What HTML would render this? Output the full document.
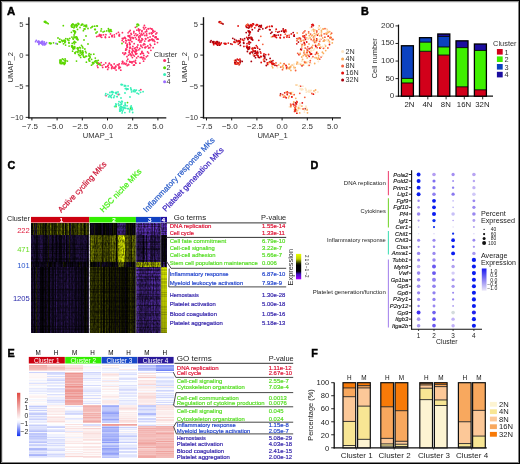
<!DOCTYPE html>
<html><head><meta charset="utf-8"><style>
html,body{margin:0;padding:0;background:#fff;}
#fig{position:relative;width:520px;height:464px;overflow:hidden;background:#fff;}
#fig svg{position:absolute;left:0;top:0;will-change:transform;}
text{font-family:"Liberation Sans", sans-serif;}
</style></head><body><div id="fig">
<svg width="520" height="464" viewBox="0 0 520 464" font-family='"Liberation Sans", sans-serif'>
<rect x="0" y="0" width="520" height="464" fill="#fff"/>
<text x="7.0" y="14.5" font-size="10.8" fill="#000" font-weight="bold" stroke="#000" stroke-width="0.45" textLength="8.2" lengthAdjust="spacingAndGlyphs">A</text>
<text x="360.9" y="14.8" font-size="10.8" fill="#000" font-weight="bold" stroke="#000" stroke-width="0.45">B</text>
<text x="7.4" y="169.3" font-size="10.8" fill="#000" font-weight="bold" stroke="#000" stroke-width="0.45">C</text>
<text x="310.6" y="168.9" font-size="10.8" fill="#000" font-weight="bold" stroke="#000" stroke-width="0.45">D</text>
<text x="7.6" y="356.9" font-size="10.8" fill="#000" font-weight="bold" stroke="#000" stroke-width="0.45">E</text>
<text x="311.2" y="356.9" font-size="10.8" fill="#000" font-weight="bold" stroke="#000" stroke-width="0.45">F</text>
<g><circle cx="135.3" cy="37.6" r=".9" fill="#ff2d66"/><circle cx="75.5" cy="31.9" r=".9" fill="#5cd600"/><circle cx="140.8" cy="89.7" r=".9" fill="#ff2d66"/><circle cx="53.5" cy="42.8" r=".9" fill="#5cd600"/><circle cx="84.0" cy="26.1" r=".9" fill="#5cd600"/><circle cx="140.0" cy="29.8" r=".9" fill="#ff2d66"/><circle cx="129.6" cy="61.4" r=".9" fill="#ff2d66"/><circle cx="120.8" cy="108.8" r=".9" fill="#38f0b8"/><circle cx="155.9" cy="34.0" r=".9" fill="#ff2d66"/><circle cx="146.7" cy="31.6" r=".9" fill="#ff2d66"/><circle cx="83.7" cy="57.0" r=".9" fill="#5cd600"/><circle cx="134.2" cy="90.0" r=".9" fill="#38f0b8"/><circle cx="125.4" cy="105.5" r=".9" fill="#38f0b8"/><circle cx="72.9" cy="47.4" r=".9" fill="#5cd600"/><circle cx="112.5" cy="91.7" r=".9" fill="#38f0b8"/><circle cx="129.4" cy="42.4" r=".9" fill="#ff2d66"/><circle cx="133.3" cy="38.4" r=".9" fill="#ff2d66"/><circle cx="129.2" cy="31.6" r=".9" fill="#ff2d66"/><circle cx="144.0" cy="43.6" r=".9" fill="#ff2d66"/><circle cx="62.5" cy="62.6" r=".9" fill="#5cd600"/><circle cx="97.8" cy="63.8" r=".9" fill="#5cd600"/><circle cx="139.3" cy="39.2" r=".9" fill="#ff2d66"/><circle cx="65.6" cy="45.1" r=".9" fill="#5cd600"/><circle cx="72.1" cy="47.2" r=".9" fill="#5cd600"/><circle cx="131.4" cy="55.7" r=".9" fill="#ff2d66"/><circle cx="124.9" cy="112.6" r=".9" fill="#38f0b8"/><circle cx="40.2" cy="42.9" r=".9" fill="#9b6cff"/><circle cx="101.2" cy="62.6" r=".9" fill="#ff2d66"/><circle cx="126.6" cy="89.6" r=".9" fill="#38f0b8"/><circle cx="123.6" cy="41.8" r=".9" fill="#ff2d66"/><circle cx="86.4" cy="62.2" r=".9" fill="#5cd600"/><circle cx="152.0" cy="29.1" r=".9" fill="#ff2d66"/><circle cx="126.9" cy="45.7" r=".9" fill="#ff2d66"/><circle cx="130.6" cy="107.1" r=".9" fill="#38f0b8"/><circle cx="138.6" cy="93.9" r=".9" fill="#38f0b8"/><circle cx="127.9" cy="108.6" r=".9" fill="#38f0b8"/><circle cx="120.8" cy="106.5" r=".9" fill="#38f0b8"/><circle cx="94.7" cy="26.2" r=".9" fill="#5cd600"/><circle cx="132.4" cy="57.6" r=".9" fill="#ff2d66"/><circle cx="114.5" cy="67.8" r=".9" fill="#ff2d66"/><circle cx="126.1" cy="88.3" r=".9" fill="#38f0b8"/><circle cx="134.4" cy="56.1" r=".9" fill="#ff2d66"/><circle cx="132.0" cy="62.9" r=".9" fill="#ff2d66"/><circle cx="117.3" cy="64.8" r=".9" fill="#ff2d66"/><circle cx="129.7" cy="43.3" r=".9" fill="#ff2d66"/><circle cx="112.5" cy="92.3" r=".9" fill="#38f0b8"/><circle cx="86.6" cy="56.3" r=".9" fill="#5cd600"/><circle cx="74.6" cy="48.4" r=".9" fill="#5cd600"/><circle cx="107.7" cy="69.4" r=".9" fill="#ff2d66"/><circle cx="142.4" cy="47.4" r=".9" fill="#ff2d66"/><circle cx="42.5" cy="42.6" r=".9" fill="#9b6cff"/><circle cx="140.3" cy="57.4" r=".9" fill="#ff2d66"/><circle cx="119.1" cy="35.5" r=".9" fill="#ff2d66"/><circle cx="140.6" cy="54.0" r=".9" fill="#ff2d66"/><circle cx="78.6" cy="23.6" r=".9" fill="#5cd600"/><circle cx="113.1" cy="92.4" r=".9" fill="#38f0b8"/><circle cx="142.6" cy="34.9" r=".9" fill="#ff2d66"/><circle cx="137.9" cy="24.2" r=".9" fill="#5cd600"/><circle cx="45.1" cy="21.3" r=".9" fill="#5cd600"/><circle cx="133.8" cy="32.9" r=".9" fill="#ff2d66"/><circle cx="48.2" cy="23.7" r=".9" fill="#5cd600"/><circle cx="60.3" cy="63.0" r=".9" fill="#5cd600"/><circle cx="81.9" cy="24.3" r=".9" fill="#5cd600"/><circle cx="143.7" cy="57.7" r=".9" fill="#ff2d66"/><circle cx="73.2" cy="49.1" r=".9" fill="#5cd600"/><circle cx="94.7" cy="61.5" r=".9" fill="#5cd600"/><circle cx="113.8" cy="97.5" r=".9" fill="#38f0b8"/><circle cx="80.3" cy="50.5" r=".9" fill="#5cd600"/><circle cx="146.3" cy="56.8" r=".9" fill="#ff2d66"/><circle cx="139.9" cy="63.2" r=".9" fill="#ff2d66"/><circle cx="89.2" cy="58.6" r=".9" fill="#5cd600"/><circle cx="91.5" cy="65.2" r=".9" fill="#5cd600"/><circle cx="148.5" cy="40.9" r=".9" fill="#ff2d66"/><circle cx="111.5" cy="91.6" r=".9" fill="#38f0b8"/><circle cx="116.2" cy="104.7" r=".9" fill="#38f0b8"/><circle cx="146.6" cy="30.0" r=".9" fill="#ff2d66"/><circle cx="59.9" cy="41.9" r=".9" fill="#5cd600"/><circle cx="156.2" cy="37.3" r=".9" fill="#ff2d66"/><circle cx="73.0" cy="38.2" r=".9" fill="#5cd600"/><circle cx="125.7" cy="38.6" r=".9" fill="#ff2d66"/><circle cx="138.7" cy="29.8" r=".9" fill="#ff2d66"/><circle cx="103.1" cy="31.9" r=".9" fill="#5cd600"/><circle cx="64.9" cy="63.3" r=".9" fill="#5cd600"/><circle cx="131.4" cy="55.4" r=".9" fill="#ff2d66"/><circle cx="45.3" cy="44.0" r=".9" fill="#9b6cff"/><circle cx="157.2" cy="39.0" r=".9" fill="#ff2d66"/><circle cx="132.6" cy="50.0" r=".9" fill="#ff2d66"/><circle cx="137.4" cy="47.7" r=".9" fill="#ff2d66"/><circle cx="82.7" cy="53.3" r=".9" fill="#5cd600"/><circle cx="73.3" cy="30.7" r=".9" fill="#5cd600"/><circle cx="122.5" cy="61.6" r=".9" fill="#ff2d66"/><circle cx="132.5" cy="61.8" r=".9" fill="#ff2d66"/><circle cx="128.4" cy="64.3" r=".9" fill="#ff2d66"/><circle cx="144.4" cy="25.5" r=".9" fill="#ff2d66"/><circle cx="105.7" cy="67.0" r=".9" fill="#ff2d66"/><circle cx="75.7" cy="52.1" r=".9" fill="#5cd600"/><circle cx="69.8" cy="38.4" r=".9" fill="#5cd600"/><circle cx="97.1" cy="31.9" r=".9" fill="#5cd600"/><circle cx="135.6" cy="53.1" r=".9" fill="#ff2d66"/><circle cx="106.0" cy="95.7" r=".9" fill="#ff2d66"/><circle cx="85.3" cy="25.6" r=".9" fill="#5cd600"/><circle cx="65.1" cy="40.5" r=".9" fill="#5cd600"/><circle cx="72.3" cy="46.4" r=".9" fill="#5cd600"/><circle cx="83.4" cy="30.7" r=".9" fill="#5cd600"/><circle cx="71.6" cy="46.0" r=".9" fill="#5cd600"/><circle cx="148.5" cy="28.8" r=".9" fill="#ff2d66"/><circle cx="145.0" cy="47.5" r=".9" fill="#ff2d66"/><circle cx="133.5" cy="65.2" r=".9" fill="#ff2d66"/><circle cx="135.3" cy="62.2" r=".9" fill="#ff2d66"/><circle cx="129.0" cy="36.1" r=".9" fill="#ff2d66"/><circle cx="63.5" cy="59.7" r=".9" fill="#5cd600"/><circle cx="110.4" cy="30.6" r=".9" fill="#5cd600"/><circle cx="115.4" cy="92.6" r=".9" fill="#38f0b8"/><circle cx="127.8" cy="59.2" r=".9" fill="#ff2d66"/><circle cx="64.3" cy="64.4" r=".9" fill="#5cd600"/><circle cx="149.9" cy="47.7" r=".9" fill="#ff2d66"/><circle cx="119.4" cy="34.5" r=".9" fill="#ff2d66"/><circle cx="62.3" cy="63.2" r=".9" fill="#5cd600"/><circle cx="113.5" cy="68.1" r=".9" fill="#ff2d66"/><circle cx="63.8" cy="41.1" r=".9" fill="#5cd600"/><circle cx="78.0" cy="48.1" r=".9" fill="#5cd600"/><circle cx="121.9" cy="101.2" r=".9" fill="#38f0b8"/><circle cx="140.7" cy="45.1" r=".9" fill="#ff2d66"/><circle cx="43.9" cy="43.2" r=".9" fill="#9b6cff"/><circle cx="132.0" cy="37.5" r=".9" fill="#ff2d66"/><circle cx="128.7" cy="64.8" r=".9" fill="#ff2d66"/><circle cx="51.1" cy="43.6" r=".9" fill="#5cd600"/><circle cx="65.4" cy="60.2" r=".9" fill="#5cd600"/><circle cx="122.0" cy="63.7" r=".9" fill="#ff2d66"/><circle cx="136.1" cy="53.6" r=".9" fill="#ff2d66"/><circle cx="122.0" cy="43.5" r=".9" fill="#5cd600"/><circle cx="80.7" cy="57.4" r=".9" fill="#5cd600"/><circle cx="75.7" cy="42.3" r=".9" fill="#5cd600"/><circle cx="65.7" cy="60.7" r=".9" fill="#5cd600"/><circle cx="71.9" cy="37.1" r=".9" fill="#5cd600"/><circle cx="76.9" cy="25.8" r=".9" fill="#5cd600"/><circle cx="118.4" cy="32.3" r=".9" fill="#ff2d66"/><circle cx="137.9" cy="45.0" r=".9" fill="#ff2d66"/><circle cx="134.4" cy="65.0" r=".9" fill="#ff2d66"/><circle cx="36.3" cy="40.4" r=".9" fill="#9b6cff"/><circle cx="64.5" cy="40.5" r=".9" fill="#5cd600"/><circle cx="124.8" cy="107.5" r=".9" fill="#38f0b8"/><circle cx="81.8" cy="54.6" r=".9" fill="#5cd600"/><circle cx="154.9" cy="31.4" r=".9" fill="#ff2d66"/><circle cx="74.8" cy="52.8" r=".9" fill="#5cd600"/><circle cx="74.8" cy="37.5" r=".9" fill="#5cd600"/><circle cx="125.7" cy="50.2" r=".9" fill="#ff2d66"/><circle cx="74.0" cy="37.0" r=".9" fill="#5cd600"/><circle cx="47.1" cy="23.0" r=".9" fill="#5cd600"/><circle cx="84.8" cy="57.3" r=".9" fill="#5cd600"/><circle cx="141.0" cy="35.0" r=".9" fill="#ff2d66"/><circle cx="145.6" cy="27.6" r=".9" fill="#ff2d66"/><circle cx="101.7" cy="37.3" r=".9" fill="#ff2d66"/><circle cx="82.2" cy="52.4" r=".9" fill="#5cd600"/><circle cx="69.0" cy="43.0" r=".9" fill="#5cd600"/><circle cx="128.3" cy="36.3" r=".9" fill="#ff2d66"/><circle cx="64.9" cy="60.8" r=".9" fill="#5cd600"/><circle cx="94.8" cy="29.4" r=".9" fill="#5cd600"/><circle cx="92.7" cy="26.3" r=".9" fill="#5cd600"/><circle cx="74.4" cy="43.8" r=".9" fill="#5cd600"/><circle cx="145.3" cy="31.9" r=".9" fill="#ff2d66"/><circle cx="103.9" cy="64.6" r=".9" fill="#ff2d66"/><circle cx="109.0" cy="31.4" r=".9" fill="#5cd600"/><circle cx="41.9" cy="41.3" r=".9" fill="#9b6cff"/><circle cx="152.8" cy="31.0" r=".9" fill="#ff2d66"/><circle cx="41.7" cy="43.4" r=".9" fill="#9b6cff"/><circle cx="154.2" cy="41.1" r=".9" fill="#ff2d66"/><circle cx="133.2" cy="91.0" r=".9" fill="#38f0b8"/><circle cx="107.7" cy="66.2" r=".9" fill="#ff2d66"/><circle cx="77.9" cy="39.8" r=".9" fill="#5cd600"/><circle cx="129.4" cy="50.5" r=".9" fill="#ff2d66"/><circle cx="153.0" cy="30.5" r=".9" fill="#ff2d66"/><circle cx="129.6" cy="111.8" r=".9" fill="#38f0b8"/><circle cx="138.8" cy="49.8" r=".9" fill="#ff2d66"/><circle cx="139.9" cy="35.6" r=".9" fill="#ff2d66"/><circle cx="122.9" cy="53.0" r=".9" fill="#ff2d66"/><circle cx="86.1" cy="52.8" r=".9" fill="#5cd600"/><circle cx="60.0" cy="62.0" r=".9" fill="#5cd600"/><circle cx="109.9" cy="92.5" r=".9" fill="#38f0b8"/><circle cx="129.1" cy="52.5" r=".9" fill="#ff2d66"/><circle cx="137.0" cy="46.8" r=".9" fill="#ff2d66"/><circle cx="45.7" cy="44.0" r=".9" fill="#9b6cff"/><circle cx="81.1" cy="52.7" r=".9" fill="#5cd600"/><circle cx="124.2" cy="54.4" r=".9" fill="#ff2d66"/><circle cx="157.3" cy="39.2" r=".9" fill="#ff2d66"/><circle cx="115.8" cy="66.1" r=".9" fill="#ff2d66"/><circle cx="49.4" cy="43.0" r=".9" fill="#5cd600"/><circle cx="38.4" cy="41.7" r=".9" fill="#9b6cff"/><circle cx="130.0" cy="97.0" r=".9" fill="#38f0b8"/><circle cx="41.3" cy="41.8" r=".9" fill="#9b6cff"/><circle cx="143.3" cy="53.4" r=".9" fill="#ff2d66"/><circle cx="127.3" cy="44.2" r=".9" fill="#ff2d66"/><circle cx="133.9" cy="31.5" r=".9" fill="#ff2d66"/><circle cx="120.1" cy="111.0" r=".9" fill="#38f0b8"/><circle cx="144.9" cy="58.9" r=".9" fill="#ff2d66"/><circle cx="141.9" cy="38.7" r=".9" fill="#ff2d66"/><circle cx="88.7" cy="59.5" r=".9" fill="#5cd600"/><circle cx="118.3" cy="94.5" r=".9" fill="#ff2d66"/><circle cx="109.8" cy="31.2" r=".9" fill="#5cd600"/><circle cx="63.2" cy="63.6" r=".9" fill="#5cd600"/><circle cx="144.8" cy="41.1" r=".9" fill="#ff2d66"/><circle cx="100.5" cy="36.5" r=".9" fill="#ff2d66"/><circle cx="45.8" cy="21.7" r=".9" fill="#5cd600"/><circle cx="129.6" cy="44.6" r=".9" fill="#ff2d66"/><circle cx="146.7" cy="35.5" r=".9" fill="#ff2d66"/><circle cx="93.3" cy="62.6" r=".9" fill="#5cd600"/><circle cx="136.4" cy="90.1" r=".9" fill="#38f0b8"/><circle cx="150.8" cy="45.7" r=".9" fill="#ff2d66"/><circle cx="65.3" cy="61.9" r=".9" fill="#5cd600"/><circle cx="112.5" cy="66.6" r=".9" fill="#ff2d66"/><circle cx="82.3" cy="24.4" r=".9" fill="#5cd600"/><circle cx="121.6" cy="104.3" r=".9" fill="#38f0b8"/><circle cx="61.9" cy="63.4" r=".9" fill="#5cd600"/><circle cx="60.2" cy="61.9" r=".9" fill="#5cd600"/><circle cx="131.9" cy="41.7" r=".9" fill="#ff2d66"/><circle cx="119.4" cy="35.9" r=".9" fill="#ff2d66"/><circle cx="78.0" cy="49.2" r=".9" fill="#5cd600"/><circle cx="136.6" cy="57.9" r=".9" fill="#ff2d66"/><circle cx="129.8" cy="35.6" r=".9" fill="#ff2d66"/><circle cx="147.9" cy="37.7" r=".9" fill="#ff2d66"/><circle cx="130.6" cy="62.2" r=".9" fill="#ff2d66"/><circle cx="92.9" cy="62.7" r=".9" fill="#5cd600"/><circle cx="136.8" cy="53.6" r=".9" fill="#ff2d66"/><circle cx="41.7" cy="41.9" r=".9" fill="#9b6cff"/><circle cx="145.8" cy="39.0" r=".9" fill="#ff2d66"/><circle cx="131.2" cy="89.3" r=".9" fill="#38f0b8"/><circle cx="105.8" cy="93.6" r=".9" fill="#38f0b8"/><circle cx="143.1" cy="91.7" r=".9" fill="#38f0b8"/><circle cx="80.8" cy="51.1" r=".9" fill="#5cd600"/><circle cx="92.0" cy="27.0" r=".9" fill="#5cd600"/><circle cx="56.0" cy="43.5" r=".9" fill="#9b6cff"/><circle cx="139.2" cy="30.7" r=".9" fill="#ff2d66"/><circle cx="144.1" cy="29.0" r=".9" fill="#ff2d66"/><circle cx="155.2" cy="37.3" r=".9" fill="#ff2d66"/><circle cx="61.6" cy="63.6" r=".9" fill="#5cd600"/><circle cx="155.5" cy="37.0" r=".9" fill="#ff2d66"/><circle cx="127.0" cy="56.7" r=".9" fill="#ff2d66"/><circle cx="86.5" cy="25.2" r=".9" fill="#5cd600"/><circle cx="119.7" cy="109.1" r=".9" fill="#38f0b8"/><circle cx="129.1" cy="40.2" r=".9" fill="#ff2d66"/><circle cx="121.5" cy="84.7" r=".9" fill="#38f0b8"/><circle cx="73.9" cy="27.8" r=".9" fill="#5cd600"/><circle cx="122.4" cy="32.7" r=".9" fill="#ff2d66"/><circle cx="84.0" cy="40.0" r=".9" fill="#5cd600"/><circle cx="97.3" cy="65.8" r=".9" fill="#ff2d66"/><circle cx="50.2" cy="43.7" r=".9" fill="#5cd600"/><circle cx="74.6" cy="47.4" r=".9" fill="#5cd600"/><circle cx="121.2" cy="106.7" r=".9" fill="#38f0b8"/><circle cx="133.1" cy="37.9" r=".9" fill="#ff2d66"/><circle cx="125.3" cy="88.6" r=".9" fill="#38f0b8"/><circle cx="130.1" cy="54.0" r=".9" fill="#ff2d66"/><circle cx="41.1" cy="42.9" r=".9" fill="#9b6cff"/><circle cx="116.0" cy="106.6" r=".9" fill="#5cd600"/><circle cx="151.6" cy="33.8" r=".9" fill="#ff2d66"/><circle cx="153.0" cy="36.0" r=".9" fill="#ff2d66"/><circle cx="122.1" cy="112.9" r=".9" fill="#38f0b8"/><circle cx="105.7" cy="62.9" r=".9" fill="#ff2d66"/><circle cx="110.5" cy="33.9" r=".9" fill="#ff2d66"/><circle cx="123.5" cy="107.7" r=".9" fill="#38f0b8"/><circle cx="78.7" cy="24.3" r=".9" fill="#5cd600"/><circle cx="141.9" cy="31.7" r=".9" fill="#ff2d66"/><circle cx="124.0" cy="108.2" r=".9" fill="#38f0b8"/><circle cx="90.1" cy="57.7" r=".9" fill="#5cd600"/><circle cx="86.0" cy="36.0" r=".9" fill="#5cd600"/><circle cx="121.2" cy="84.5" r=".9" fill="#38f0b8"/><circle cx="71.7" cy="25.1" r=".9" fill="#5cd600"/><circle cx="110.8" cy="30.1" r=".9" fill="#5cd600"/><circle cx="46.5" cy="42.7" r=".9" fill="#9b6cff"/><circle cx="125.8" cy="43.0" r=".9" fill="#ff2d66"/><circle cx="82.8" cy="24.5" r=".9" fill="#5cd600"/><circle cx="77.4" cy="25.5" r=".9" fill="#5cd600"/><circle cx="120.6" cy="102.5" r=".9" fill="#38f0b8"/><circle cx="41.2" cy="42.3" r=".9" fill="#9b6cff"/><circle cx="77.7" cy="47.9" r=".9" fill="#5cd600"/><circle cx="149.5" cy="39.9" r=".9" fill="#ff2d66"/><circle cx="102.7" cy="67.4" r=".9" fill="#ff2d66"/><circle cx="133.4" cy="55.1" r=".9" fill="#ff2d66"/><circle cx="151.3" cy="32.9" r=".9" fill="#ff2d66"/><circle cx="130.5" cy="108.5" r=".9" fill="#5cd600"/><circle cx="111.5" cy="31.3" r=".9" fill="#5cd600"/><circle cx="97.3" cy="26.1" r=".9" fill="#5cd600"/><circle cx="140.1" cy="40.8" r=".9" fill="#ff2d66"/><circle cx="127.2" cy="47.3" r=".9" fill="#ff2d66"/><circle cx="45.9" cy="22.7" r=".9" fill="#5cd600"/><circle cx="88.0" cy="28.5" r=".9" fill="#5cd600"/><circle cx="69.1" cy="46.1" r=".9" fill="#5cd600"/><circle cx="125.0" cy="93.0" r=".9" fill="#38f0b8"/><circle cx="125.7" cy="85.9" r=".9" fill="#38f0b8"/><circle cx="63.0" cy="62.4" r=".9" fill="#5cd600"/><circle cx="116.6" cy="93.6" r=".9" fill="#38f0b8"/><circle cx="120.6" cy="108.9" r=".9" fill="#38f0b8"/><circle cx="131.2" cy="62.0" r=".9" fill="#ff2d66"/><circle cx="62.3" cy="41.6" r=".9" fill="#5cd600"/><circle cx="72.4" cy="45.8" r=".9" fill="#5cd600"/><circle cx="112.3" cy="35.3" r=".9" fill="#ff2d66"/><circle cx="136.6" cy="35.5" r=".9" fill="#ff2d66"/><circle cx="131.6" cy="91.9" r=".9" fill="#38f0b8"/><circle cx="135.5" cy="47.8" r=".9" fill="#ff2d66"/><circle cx="126.0" cy="48.9" r=".9" fill="#ff2d66"/><circle cx="109.7" cy="31.7" r=".9" fill="#5cd600"/><circle cx="109.4" cy="63.5" r=".9" fill="#ff2d66"/><circle cx="68.9" cy="40.3" r=".9" fill="#5cd600"/><circle cx="129.6" cy="36.7" r=".9" fill="#ff2d66"/><circle cx="117.1" cy="96.6" r=".9" fill="#38f0b8"/><circle cx="130.5" cy="40.4" r=".9" fill="#ff2d66"/><circle cx="62.5" cy="58.9" r=".9" fill="#5cd600"/><circle cx="64.8" cy="63.4" r=".9" fill="#5cd600"/><circle cx="119.7" cy="111.1" r=".9" fill="#38f0b8"/><circle cx="96.7" cy="36.6" r=".9" fill="#ff2d66"/><circle cx="124.0" cy="63.9" r=".9" fill="#ff2d66"/><circle cx="145.2" cy="47.7" r=".9" fill="#ff2d66"/><circle cx="153.4" cy="32.1" r=".9" fill="#ff2d66"/><circle cx="90.9" cy="54.4" r=".9" fill="#5cd600"/><circle cx="82.4" cy="46.6" r=".9" fill="#5cd600"/><circle cx="97.3" cy="63.2" r=".9" fill="#5cd600"/><circle cx="156.8" cy="32.9" r=".9" fill="#ff2d66"/><circle cx="126.1" cy="63.3" r=".9" fill="#ff2d66"/><circle cx="130.7" cy="88.0" r=".9" fill="#38f0b8"/><circle cx="144.9" cy="44.5" r=".9" fill="#ff2d66"/><circle cx="121.6" cy="103.3" r=".9" fill="#38f0b8"/><circle cx="130.2" cy="30.5" r=".9" fill="#ff2d66"/><circle cx="109.6" cy="95.3" r=".9" fill="#38f0b8"/><circle cx="131.3" cy="89.9" r=".9" fill="#38f0b8"/><circle cx="138.7" cy="36.8" r=".9" fill="#ff2d66"/><circle cx="131.0" cy="33.4" r=".9" fill="#ff2d66"/><circle cx="141.1" cy="46.2" r=".9" fill="#ff2d66"/><circle cx="127.4" cy="46.9" r=".9" fill="#ff2d66"/><circle cx="125.2" cy="104.7" r=".9" fill="#38f0b8"/><circle cx="149.4" cy="40.6" r=".9" fill="#ff2d66"/><circle cx="128.1" cy="85.9" r=".9" fill="#38f0b8"/><circle cx="142.0" cy="30.7" r=".9" fill="#ff2d66"/><circle cx="138.5" cy="40.4" r=".9" fill="#ff2d66"/><circle cx="133.9" cy="91.6" r=".9" fill="#38f0b8"/><circle cx="155.9" cy="36.8" r=".9" fill="#ff2d66"/><circle cx="101.0" cy="31.0" r=".9" fill="#5cd600"/><circle cx="153.1" cy="47.7" r=".9" fill="#ff2d66"/><circle cx="125.4" cy="53.6" r=".9" fill="#ff2d66"/><circle cx="128.5" cy="55.2" r=".9" fill="#ff2d66"/><circle cx="73.1" cy="24.6" r=".9" fill="#5cd600"/><circle cx="77.4" cy="38.7" r=".9" fill="#5cd600"/><circle cx="109.3" cy="63.4" r=".9" fill="#ff2d66"/><circle cx="128.1" cy="32.8" r=".9" fill="#ff2d66"/><circle cx="37.7" cy="42.1" r=".9" fill="#9b6cff"/><circle cx="59.8" cy="60.1" r=".9" fill="#5cd600"/><circle cx="99.7" cy="34.6" r=".9" fill="#ff2d66"/><circle cx="130.1" cy="44.4" r=".9" fill="#ff2d66"/><circle cx="58.0" cy="38.0" r=".9" fill="#5cd600"/><circle cx="141.7" cy="57.2" r=".9" fill="#ff2d66"/><circle cx="136.8" cy="50.4" r=".9" fill="#ff2d66"/><circle cx="73.7" cy="42.6" r=".9" fill="#5cd600"/><circle cx="57.3" cy="44.0" r=".9" fill="#5cd600"/><circle cx="74.4" cy="26.7" r=".9" fill="#5cd600"/><circle cx="89.1" cy="60.8" r=".9" fill="#5cd600"/><circle cx="106.7" cy="30.9" r=".9" fill="#5cd600"/><circle cx="121.0" cy="98.0" r=".9" fill="#38f0b8"/><circle cx="95.8" cy="60.6" r=".9" fill="#5cd600"/><circle cx="95.7" cy="61.8" r=".9" fill="#5cd600"/><circle cx="105.9" cy="34.7" r=".9" fill="#ff2d66"/><circle cx="135.7" cy="49.9" r=".9" fill="#ff2d66"/><circle cx="98.2" cy="60.3" r=".9" fill="#5cd600"/><circle cx="96.9" cy="25.8" r=".9" fill="#5cd600"/><circle cx="112.1" cy="92.4" r=".9" fill="#38f0b8"/><circle cx="138.5" cy="29.0" r=".9" fill="#ff2d66"/><circle cx="77.4" cy="48.1" r=".9" fill="#5cd600"/><circle cx="74.8" cy="33.6" r=".9" fill="#5cd600"/><circle cx="50.8" cy="43.1" r=".9" fill="#5cd600"/><circle cx="146.6" cy="33.9" r=".9" fill="#ff2d66"/><circle cx="114.6" cy="106.5" r=".9" fill="#38f0b8"/><circle cx="150.2" cy="28.4" r=".9" fill="#ff2d66"/><circle cx="85.6" cy="26.6" r=".9" fill="#5cd600"/><circle cx="63.3" cy="25.7" r=".9" fill="#5cd600"/><circle cx="134.8" cy="51.5" r=".9" fill="#ff2d66"/><circle cx="127.2" cy="65.5" r=".9" fill="#ff2d66"/><circle cx="86.6" cy="26.7" r=".9" fill="#5cd600"/><circle cx="142.1" cy="53.3" r=".9" fill="#ff2d66"/><circle cx="115.9" cy="93.3" r=".9" fill="#38f0b8"/><circle cx="143.6" cy="33.5" r=".9" fill="#ff2d66"/><circle cx="126.3" cy="40.8" r=".9" fill="#ff2d66"/><circle cx="44.7" cy="44.9" r=".9" fill="#9b6cff"/><circle cx="139.8" cy="48.5" r=".9" fill="#ff2d66"/><circle cx="148.6" cy="53.1" r=".9" fill="#ff2d66"/><circle cx="42.0" cy="44.1" r=".9" fill="#9b6cff"/><circle cx="68.8" cy="42.4" r=".9" fill="#5cd600"/><circle cx="106.0" cy="66.8" r=".9" fill="#ff2d66"/><circle cx="100.5" cy="35.1" r=".9" fill="#ff2d66"/><circle cx="59.8" cy="39.2" r=".9" fill="#5cd600"/><circle cx="89.2" cy="53.7" r=".9" fill="#5cd600"/><circle cx="74.0" cy="47.2" r=".9" fill="#5cd600"/><circle cx="75.1" cy="31.5" r=".9" fill="#5cd600"/><circle cx="76.0" cy="25.5" r=".9" fill="#5cd600"/><circle cx="147.6" cy="55.8" r=".9" fill="#ff2d66"/><circle cx="88.8" cy="55.1" r=".9" fill="#5cd600"/><circle cx="139.8" cy="42.1" r=".9" fill="#ff2d66"/><circle cx="141.8" cy="40.4" r=".9" fill="#ff2d66"/><circle cx="78.0" cy="23.5" r=".9" fill="#5cd600"/><circle cx="74.1" cy="35.0" r=".9" fill="#5cd600"/><circle cx="82.7" cy="52.3" r=".9" fill="#5cd600"/><circle cx="84.1" cy="29.0" r=".9" fill="#5cd600"/><circle cx="122.2" cy="107.2" r=".9" fill="#38f0b8"/><circle cx="150.1" cy="36.9" r=".9" fill="#ff2d66"/><circle cx="97.0" cy="61.0" r=".9" fill="#5cd600"/><circle cx="99.4" cy="63.7" r=".9" fill="#5cd600"/><circle cx="131.9" cy="52.1" r=".9" fill="#ff2d66"/><circle cx="158.2" cy="39.1" r=".9" fill="#ff2d66"/><circle cx="143.5" cy="27.5" r=".9" fill="#ff2d66"/><circle cx="141.4" cy="33.8" r=".9" fill="#ff2d66"/><circle cx="154.7" cy="41.6" r=".9" fill="#ff2d66"/><circle cx="125.7" cy="40.4" r=".9" fill="#ff2d66"/><circle cx="130.0" cy="37.5" r=".9" fill="#ff2d66"/><circle cx="67.6" cy="39.8" r=".9" fill="#5cd600"/><circle cx="74.0" cy="24.8" r=".9" fill="#5cd600"/><circle cx="128.2" cy="40.0" r=".9" fill="#ff2d66"/><circle cx="131.6" cy="109.6" r=".9" fill="#38f0b8"/><circle cx="136.4" cy="39.2" r=".9" fill="#ff2d66"/><circle cx="74.8" cy="32.6" r=".9" fill="#5cd600"/><circle cx="146.0" cy="46.9" r=".9" fill="#ff2d66"/><circle cx="128.3" cy="108.7" r=".9" fill="#38f0b8"/><circle cx="72.6" cy="51.2" r=".9" fill="#5cd600"/><circle cx="116.4" cy="92.3" r=".9" fill="#38f0b8"/><circle cx="85.5" cy="51.5" r=".9" fill="#5cd600"/><circle cx="120.2" cy="104.8" r=".9" fill="#38f0b8"/><circle cx="143.6" cy="61.2" r=".9" fill="#ff2d66"/><circle cx="155.3" cy="37.5" r=".9" fill="#ff2d66"/><circle cx="134.5" cy="35.4" r=".9" fill="#ff2d66"/><circle cx="115.9" cy="105.6" r=".9" fill="#38f0b8"/><circle cx="74.1" cy="31.2" r=".9" fill="#5cd600"/><circle cx="64.1" cy="63.2" r=".9" fill="#5cd600"/><circle cx="140.3" cy="36.8" r=".9" fill="#ff2d66"/><circle cx="135.4" cy="27.3" r=".9" fill="#ff2d66"/><circle cx="72.3" cy="24.7" r=".9" fill="#5cd600"/><circle cx="119.0" cy="101.7" r=".9" fill="#38f0b8"/><circle cx="76.5" cy="25.4" r=".9" fill="#5cd600"/><circle cx="44.4" cy="21.7" r=".9" fill="#5cd600"/><circle cx="130.1" cy="47.1" r=".9" fill="#ff2d66"/><circle cx="108.4" cy="28.6" r=".9" fill="#5cd600"/><circle cx="74.7" cy="25.7" r=".9" fill="#5cd600"/><circle cx="135.6" cy="90.4" r=".9" fill="#38f0b8"/><circle cx="103.5" cy="34.8" r=".9" fill="#ff2d66"/><circle cx="42.9" cy="44.9" r=".9" fill="#9b6cff"/><circle cx="102.0" cy="65.4" r=".9" fill="#ff2d66"/><circle cx="120.0" cy="107.3" r=".9" fill="#38f0b8"/><circle cx="78.3" cy="50.7" r=".9" fill="#5cd600"/><circle cx="115.7" cy="66.8" r=".9" fill="#ff2d66"/><circle cx="124.4" cy="86.0" r=".9" fill="#38f0b8"/><circle cx="64.8" cy="42.7" r=".9" fill="#5cd600"/><circle cx="143.2" cy="44.9" r=".9" fill="#ff2d66"/><circle cx="124.8" cy="37.7" r=".9" fill="#ff2d66"/><circle cx="133.9" cy="61.4" r=".9" fill="#ff2d66"/><circle cx="61.2" cy="61.1" r=".9" fill="#5cd600"/><circle cx="154.7" cy="44.2" r=".9" fill="#ff2d66"/><circle cx="80.1" cy="55.3" r=".9" fill="#5cd600"/><circle cx="114.9" cy="68.5" r=".9" fill="#ff2d66"/><circle cx="81.2" cy="25.2" r=".9" fill="#5cd600"/><circle cx="121.9" cy="108.0" r=".9" fill="#38f0b8"/><circle cx="92.9" cy="64.1" r=".9" fill="#5cd600"/><circle cx="133.3" cy="50.9" r=".9" fill="#ff2d66"/><circle cx="112.4" cy="94.3" r=".9" fill="#38f0b8"/><circle cx="75.3" cy="37.5" r=".9" fill="#5cd600"/><circle cx="38.8" cy="43.1" r=".9" fill="#9b6cff"/><circle cx="135.1" cy="52.0" r=".9" fill="#ff2d66"/><circle cx="76.5" cy="27.1" r=".9" fill="#5cd600"/><circle cx="152.4" cy="39.2" r=".9" fill="#ff2d66"/><circle cx="60.6" cy="60.7" r=".9" fill="#5cd600"/><circle cx="74.7" cy="46.7" r=".9" fill="#5cd600"/><circle cx="138.5" cy="25.3" r=".9" fill="#5cd600"/><circle cx="150.0" cy="40.0" r=".9" fill="#ff2d66"/><circle cx="141.0" cy="42.0" r=".9" fill="#ff2d66"/><circle cx="84.9" cy="25.3" r=".9" fill="#5cd600"/><circle cx="80.0" cy="27.5" r=".9" fill="#5cd600"/><circle cx="44.8" cy="43.7" r=".9" fill="#9b6cff"/><circle cx="74.1" cy="47.3" r=".9" fill="#5cd600"/><circle cx="122.6" cy="61.5" r=".9" fill="#ff2d66"/><circle cx="71.3" cy="25.8" r=".9" fill="#5cd600"/><circle cx="136.5" cy="50.1" r=".9" fill="#ff2d66"/><circle cx="119.0" cy="68.5" r=".9" fill="#ff2d66"/><circle cx="128.0" cy="89.1" r=".9" fill="#38f0b8"/><circle cx="139.3" cy="39.6" r=".9" fill="#ff2d66"/><circle cx="79.6" cy="47.4" r=".9" fill="#5cd600"/><circle cx="127.5" cy="102.6" r=".9" fill="#5cd600"/><circle cx="136.3" cy="53.6" r=".9" fill="#ff2d66"/><circle cx="76.2" cy="24.3" r=".9" fill="#5cd600"/><circle cx="81.5" cy="45.3" r=".9" fill="#5cd600"/><circle cx="132.7" cy="112.5" r=".9" fill="#38f0b8"/><circle cx="127.1" cy="105.8" r=".9" fill="#38f0b8"/><circle cx="96.0" cy="33.0" r=".9" fill="#5cd600"/><circle cx="128.2" cy="35.6" r=".9" fill="#ff2d66"/><circle cx="119.4" cy="94.4" r=".9" fill="#38f0b8"/><circle cx="73.2" cy="39.2" r=".9" fill="#5cd600"/><circle cx="98.1" cy="36.1" r=".9" fill="#ff2d66"/><circle cx="39.1" cy="41.4" r=".9" fill="#9b6cff"/><circle cx="105.5" cy="37.6" r=".9" fill="#ff2d66"/><circle cx="74.3" cy="41.3" r=".9" fill="#5cd600"/><circle cx="114.4" cy="36.9" r=".9" fill="#ff2d66"/><circle cx="132.3" cy="52.1" r=".9" fill="#ff2d66"/><circle cx="150.1" cy="44.3" r=".9" fill="#ff2d66"/><circle cx="62.4" cy="40.8" r=".9" fill="#5cd600"/><circle cx="63.8" cy="40.3" r=".9" fill="#5cd600"/><circle cx="76.5" cy="61.1" r=".9" fill="#5cd600"/><circle cx="138.8" cy="37.5" r=".9" fill="#ff2d66"/><circle cx="141.8" cy="57.6" r=".9" fill="#ff2d66"/><circle cx="123.3" cy="109.8" r=".9" fill="#38f0b8"/><circle cx="101.4" cy="28.9" r=".9" fill="#5cd600"/><circle cx="92.5" cy="62.7" r=".9" fill="#5cd600"/><circle cx="73.7" cy="48.7" r=".9" fill="#5cd600"/><circle cx="65.0" cy="41.6" r=".9" fill="#5cd600"/><circle cx="76.6" cy="38.9" r=".9" fill="#5cd600"/><circle cx="60.2" cy="42.1" r=".9" fill="#5cd600"/><circle cx="65.4" cy="41.8" r=".9" fill="#5cd600"/><circle cx="60.4" cy="63.6" r=".9" fill="#5cd600"/><circle cx="135.5" cy="60.3" r=".9" fill="#ff2d66"/><circle cx="150.9" cy="50.3" r=".9" fill="#ff2d66"/><circle cx="98.7" cy="64.1" r=".9" fill="#5cd600"/><circle cx="123.7" cy="38.2" r=".9" fill="#ff2d66"/><circle cx="132.1" cy="108.4" r=".9" fill="#38f0b8"/><circle cx="124.8" cy="37.5" r=".9" fill="#ff2d66"/><circle cx="132.3" cy="53.8" r=".9" fill="#ff2d66"/><circle cx="85.0" cy="29.0" r=".9" fill="#5cd600"/><circle cx="111.2" cy="95.4" r=".9" fill="#38f0b8"/><circle cx="110.8" cy="29.6" r=".9" fill="#5cd600"/><circle cx="88.0" cy="44.0" r=".9" fill="#5cd600"/><circle cx="148.6" cy="48.0" r=".9" fill="#ff2d66"/><circle cx="147.8" cy="46.0" r=".9" fill="#ff2d66"/><circle cx="119.2" cy="63.8" r=".9" fill="#ff2d66"/><circle cx="110.3" cy="96.7" r=".9" fill="#38f0b8"/><circle cx="122.7" cy="62.3" r=".9" fill="#ff2d66"/><circle cx="149.4" cy="33.5" r=".9" fill="#ff2d66"/><circle cx="137.1" cy="93.2" r=".9" fill="#38f0b8"/><circle cx="137.7" cy="34.9" r=".9" fill="#ff2d66"/><circle cx="122.5" cy="84.7" r=".9" fill="#38f0b8"/><circle cx="120.8" cy="70.2" r=".9" fill="#ff2d66"/><circle cx="151.6" cy="39.5" r=".9" fill="#ff2d66"/><circle cx="45.5" cy="22.3" r=".9" fill="#5cd600"/><circle cx="71.4" cy="32.3" r=".9" fill="#5cd600"/><circle cx="144.9" cy="35.5" r=".9" fill="#ff2d66"/><circle cx="125.1" cy="103.0" r=".9" fill="#38f0b8"/><circle cx="82.7" cy="51.0" r=".9" fill="#5cd600"/><circle cx="120.2" cy="110.5" r=".9" fill="#38f0b8"/><circle cx="122.3" cy="38.3" r=".9" fill="#ff2d66"/><circle cx="72.9" cy="23.8" r=".9" fill="#5cd600"/><circle cx="112.1" cy="36.7" r=".9" fill="#ff2d66"/><circle cx="99.5" cy="35.7" r=".9" fill="#ff2d66"/><circle cx="82.9" cy="47.9" r=".9" fill="#5cd600"/><circle cx="118.9" cy="105.5" r=".9" fill="#38f0b8"/><circle cx="71.9" cy="24.7" r=".9" fill="#5cd600"/><circle cx="79.4" cy="55.7" r=".9" fill="#5cd600"/><circle cx="142.0" cy="51.5" r=".9" fill="#ff2d66"/><circle cx="118.7" cy="65.0" r=".9" fill="#ff2d66"/><circle cx="89.8" cy="61.1" r=".9" fill="#5cd600"/><circle cx="129.8" cy="48.1" r=".9" fill="#ff2d66"/><circle cx="122.4" cy="111.3" r=".9" fill="#38f0b8"/><circle cx="132.4" cy="109.6" r=".9" fill="#38f0b8"/><circle cx="124.9" cy="85.4" r=".9" fill="#38f0b8"/><circle cx="95.3" cy="58.1" r=".9" fill="#5cd600"/><circle cx="89.9" cy="56.2" r=".9" fill="#5cd600"/><circle cx="118.0" cy="92.0" r=".9" fill="#38f0b8"/><circle cx="62.0" cy="63.1" r=".9" fill="#5cd600"/><circle cx="125.8" cy="64.3" r=".9" fill="#ff2d66"/><circle cx="43.1" cy="44.0" r=".9" fill="#9b6cff"/><circle cx="116.5" cy="33.6" r=".9" fill="#ff2d66"/><circle cx="77.1" cy="51.6" r=".9" fill="#5cd600"/><circle cx="131.2" cy="105.9" r=".9" fill="#38f0b8"/><circle cx="119.0" cy="66.9" r=".9" fill="#ff2d66"/><circle cx="123.9" cy="105.8" r=".9" fill="#38f0b8"/><circle cx="77.6" cy="39.4" r=".9" fill="#5cd600"/><circle cx="77.9" cy="52.5" r=".9" fill="#5cd600"/><circle cx="148.2" cy="28.6" r=".9" fill="#ff2d66"/><circle cx="63.5" cy="43.8" r=".9" fill="#5cd600"/><circle cx="153.7" cy="39.9" r=".9" fill="#ff2d66"/><circle cx="139.2" cy="90.6" r=".9" fill="#38f0b8"/><circle cx="83.1" cy="55.0" r=".9" fill="#5cd600"/><circle cx="125.3" cy="52.8" r=".9" fill="#ff2d66"/><circle cx="111.7" cy="68.5" r=".9" fill="#ff2d66"/><circle cx="119.4" cy="67.5" r=".9" fill="#ff2d66"/><circle cx="65.8" cy="38.7" r=".9" fill="#5cd600"/><circle cx="100.2" cy="65.0" r=".9" fill="#5cd600"/><circle cx="130.0" cy="62.2" r=".9" fill="#ff2d66"/><circle cx="130.4" cy="54.4" r=".9" fill="#ff2d66"/><circle cx="77.0" cy="37.7" r=".9" fill="#5cd600"/><circle cx="140.6" cy="92.3" r=".9" fill="#38f0b8"/><circle cx="123.0" cy="38.9" r=".9" fill="#ff2d66"/><circle cx="83.0" cy="52.5" r=".9" fill="#5cd600"/><circle cx="118.4" cy="103.9" r=".9" fill="#38f0b8"/><circle cx="76.1" cy="24.8" r=".9" fill="#5cd600"/><circle cx="116.1" cy="70.1" r=".9" fill="#ff2d66"/><circle cx="77.5" cy="29.4" r=".9" fill="#5cd600"/><circle cx="95.3" cy="29.5" r=".9" fill="#5cd600"/><circle cx="93.8" cy="54.2" r=".9" fill="#5cd600"/><circle cx="151.7" cy="29.0" r=".9" fill="#ff2d66"/><circle cx="114.3" cy="34.9" r=".9" fill="#ff2d66"/><circle cx="125.4" cy="53.2" r=".9" fill="#ff2d66"/><circle cx="89.2" cy="56.2" r=".9" fill="#5cd600"/><circle cx="74.7" cy="41.9" r=".9" fill="#5cd600"/><circle cx="127.3" cy="89.1" r=".9" fill="#38f0b8"/><circle cx="131.6" cy="107.4" r=".9" fill="#38f0b8"/><circle cx="44.7" cy="22.1" r=".9" fill="#5cd600"/><circle cx="125.9" cy="108.3" r=".9" fill="#38f0b8"/><circle cx="74.3" cy="31.7" r=".9" fill="#5cd600"/><circle cx="108.5" cy="67.7" r=".9" fill="#ff2d66"/><circle cx="82.3" cy="53.1" r=".9" fill="#5cd600"/><circle cx="111.0" cy="64.8" r=".9" fill="#ff2d66"/><circle cx="108.7" cy="96.9" r=".9" fill="#38f0b8"/><circle cx="97.7" cy="63.0" r=".9" fill="#5cd600"/><circle cx="135.8" cy="33.8" r=".9" fill="#ff2d66"/><circle cx="114.2" cy="63.9" r=".9" fill="#ff2d66"/><circle cx="42.7" cy="41.4" r=".9" fill="#9b6cff"/><circle cx="153.5" cy="35.8" r=".9" fill="#ff2d66"/><circle cx="63.6" cy="62.8" r=".9" fill="#5cd600"/><circle cx="132.2" cy="48.8" r=".9" fill="#ff2d66"/><circle cx="129.4" cy="51.8" r=".9" fill="#ff2d66"/><circle cx="139.0" cy="30.8" r=".9" fill="#ff2d66"/><circle cx="142.6" cy="39.4" r=".9" fill="#ff2d66"/><circle cx="96.7" cy="62.6" r=".9" fill="#5cd600"/><circle cx="120.3" cy="67.4" r=".9" fill="#ff2d66"/><circle cx="134.2" cy="43.7" r=".9" fill="#ff2d66"/><circle cx="130.7" cy="39.0" r=".9" fill="#ff2d66"/><circle cx="90.9" cy="27.8" r=".9" fill="#5cd600"/><circle cx="121.2" cy="110.1" r=".9" fill="#38f0b8"/><circle cx="38.5" cy="41.5" r=".9" fill="#9b6cff"/><circle cx="127.5" cy="88.9" r=".9" fill="#38f0b8"/><circle cx="115.8" cy="103.8" r=".9" fill="#38f0b8"/><circle cx="78.9" cy="50.8" r=".9" fill="#5cd600"/><circle cx="108.2" cy="65.2" r=".9" fill="#ff2d66"/><circle cx="67.8" cy="39.0" r=".9" fill="#5cd600"/><circle cx="111.4" cy="97.5" r=".9" fill="#38f0b8"/><circle cx="111.8" cy="67.5" r=".9" fill="#ff2d66"/><circle cx="129.8" cy="110.0" r=".9" fill="#38f0b8"/><circle cx="139.6" cy="33.1" r=".9" fill="#ff2d66"/><circle cx="121.9" cy="110.2" r=".9" fill="#38f0b8"/><circle cx="124.3" cy="63.2" r=".9" fill="#ff2d66"/><circle cx="38.2" cy="41.4" r=".9" fill="#9b6cff"/><circle cx="35.6" cy="41.7" r=".9" fill="#9b6cff"/><circle cx="71.6" cy="26.7" r=".9" fill="#5cd600"/><circle cx="38.9" cy="44.4" r=".9" fill="#9b6cff"/><circle cx="76.6" cy="37.0" r=".9" fill="#5cd600"/><circle cx="127.1" cy="45.5" r=".9" fill="#ff2d66"/><circle cx="44.3" cy="42.0" r=".9" fill="#9b6cff"/><circle cx="72.2" cy="43.4" r=".9" fill="#5cd600"/><circle cx="115.5" cy="66.7" r=".9" fill="#ff2d66"/><circle cx="136.9" cy="26.5" r=".9" fill="#5cd600"/><circle cx="105.3" cy="37.0" r=".9" fill="#ff2d66"/><circle cx="101.5" cy="35.1" r=".9" fill="#ff2d66"/><circle cx="137.0" cy="24.5" r=".9" fill="#5cd600"/><circle cx="132.9" cy="46.5" r=".9" fill="#ff2d66"/><circle cx="78.6" cy="54.6" r=".9" fill="#5cd600"/><circle cx="74.3" cy="26.8" r=".9" fill="#5cd600"/><circle cx="134.3" cy="48.5" r=".9" fill="#ff2d66"/><circle cx="108.5" cy="30.1" r=".9" fill="#5cd600"/><circle cx="73.0" cy="48.1" r=".9" fill="#5cd600"/><circle cx="39.8" cy="43.0" r=".9" fill="#9b6cff"/><circle cx="114.4" cy="95.9" r=".9" fill="#38f0b8"/><circle cx="99.5" cy="34.7" r=".9" fill="#ff2d66"/><circle cx="72.7" cy="47.6" r=".9" fill="#5cd600"/><circle cx="126.9" cy="60.9" r=".9" fill="#ff2d66"/><circle cx="142.9" cy="58.9" r=".9" fill="#ff2d66"/><circle cx="157.5" cy="42.6" r=".9" fill="#ff2d66"/><circle cx="99.7" cy="63.9" r=".9" fill="#5cd600"/><circle cx="135.1" cy="91.7" r=".9" fill="#38f0b8"/><circle cx="83.4" cy="56.1" r=".9" fill="#5cd600"/><circle cx="77.4" cy="48.5" r=".9" fill="#5cd600"/><circle cx="80.4" cy="47.9" r=".9" fill="#5cd600"/><circle cx="143.9" cy="55.5" r=".9" fill="#ff2d66"/><circle cx="117.0" cy="96.6" r=".9" fill="#38f0b8"/><circle cx="141.8" cy="52.5" r=".9" fill="#ff2d66"/><circle cx="61.0" cy="59.9" r=".9" fill="#5cd600"/><circle cx="65.1" cy="58.8" r=".9" fill="#5cd600"/><circle cx="91.6" cy="59.3" r=".9" fill="#5cd600"/><circle cx="104.4" cy="31.3" r=".9" fill="#5cd600"/><circle cx="61.6" cy="40.2" r=".9" fill="#5cd600"/><circle cx="111.8" cy="36.0" r=".9" fill="#ff2d66"/><circle cx="152.6" cy="40.6" r=".9" fill="#ff2d66"/><circle cx="147.6" cy="51.9" r=".9" fill="#ff2d66"/><circle cx="93.9" cy="63.1" r=".9" fill="#5cd600"/><circle cx="122.3" cy="101.8" r=".9" fill="#38f0b8"/><circle cx="130.5" cy="47.8" r=".9" fill="#ff2d66"/><circle cx="135.7" cy="54.0" r=".9" fill="#ff2d66"/><circle cx="98.5" cy="63.2" r=".9" fill="#ff2d66"/><circle cx="84.9" cy="49.0" r=".9" fill="#5cd600"/><circle cx="97.9" cy="67.4" r=".9" fill="#ff2d66"/><circle cx="152.2" cy="33.2" r=".9" fill="#ff2d66"/><circle cx="72.3" cy="27.2" r=".9" fill="#5cd600"/><circle cx="80.1" cy="53.0" r=".9" fill="#5cd600"/><circle cx="135.9" cy="63.2" r=".9" fill="#ff2d66"/><circle cx="109.2" cy="37.2" r=".9" fill="#ff2d66"/><circle cx="59.2" cy="41.7" r=".9" fill="#5cd600"/><circle cx="107.9" cy="94.4" r=".9" fill="#38f0b8"/><circle cx="75.2" cy="53.4" r=".9" fill="#5cd600"/><circle cx="97.4" cy="63.6" r=".9" fill="#5cd600"/><circle cx="80.3" cy="51.3" r=".9" fill="#5cd600"/><circle cx="138.1" cy="56.4" r=".9" fill="#ff2d66"/><circle cx="126.6" cy="49.5" r=".9" fill="#ff2d66"/><circle cx="136.9" cy="30.2" r=".9" fill="#ff2d66"/><circle cx="145.5" cy="38.7" r=".9" fill="#ff2d66"/><circle cx="136.1" cy="51.2" r=".9" fill="#ff2d66"/><circle cx="85.9" cy="56.2" r=".9" fill="#5cd600"/><circle cx="111.4" cy="65.5" r=".9" fill="#ff2d66"/><circle cx="75.8" cy="37.2" r=".9" fill="#5cd600"/><circle cx="105.4" cy="95.1" r=".9" fill="#38f0b8"/><circle cx="122.2" cy="40.4" r=".9" fill="#ff2d66"/><circle cx="67.4" cy="61.1" r=".9" fill="#5cd600"/><circle cx="109.1" cy="30.0" r=".9" fill="#5cd600"/><circle cx="131.4" cy="34.4" r=".9" fill="#ff2d66"/><circle cx="138.5" cy="24.9" r=".9" fill="#5cd600"/><circle cx="74.4" cy="30.8" r=".9" fill="#5cd600"/><circle cx="41.0" cy="43.2" r=".9" fill="#9b6cff"/></g>
<g><circle cx="310.1" cy="37.9" r=".9" fill="#fbae5e"/><circle cx="250.3" cy="32.2" r=".9" fill="#e3100e"/><circle cx="315.6" cy="90.0" r=".9" fill="#fbae5e"/><circle cx="228.3" cy="43.1" r=".9" fill="#e3100e"/><circle cx="258.8" cy="26.4" r=".9" fill="#a8000c"/><circle cx="314.8" cy="30.1" r=".9" fill="#fbae5e"/><circle cx="304.4" cy="61.7" r=".9" fill="#fbae5e"/><circle cx="295.6" cy="109.1" r=".9" fill="#e3100e"/><circle cx="330.7" cy="34.3" r=".9" fill="#fbae5e"/><circle cx="321.5" cy="31.9" r=".9" fill="#fbae5e"/><circle cx="258.5" cy="57.3" r=".9" fill="#a8000c"/><circle cx="309.0" cy="90.3" r=".9" fill="#fde6c6"/><circle cx="300.2" cy="105.8" r=".9" fill="#fde6c6"/><circle cx="247.7" cy="47.7" r=".9" fill="#a8000c"/><circle cx="287.3" cy="92.0" r=".9" fill="#e3100e"/><circle cx="304.2" cy="42.7" r=".9" fill="#e3100e"/><circle cx="308.1" cy="38.7" r=".9" fill="#fbae5e"/><circle cx="304.0" cy="31.9" r=".9" fill="#f85e3c"/><circle cx="318.8" cy="43.9" r=".9" fill="#f85e3c"/><circle cx="237.3" cy="62.9" r=".9" fill="#e3100e"/><circle cx="272.6" cy="64.1" r=".9" fill="#e3100e"/><circle cx="314.1" cy="39.5" r=".9" fill="#e3100e"/><circle cx="240.4" cy="45.4" r=".9" fill="#a8000c"/><circle cx="246.9" cy="47.5" r=".9" fill="#a8000c"/><circle cx="306.2" cy="56.0" r=".9" fill="#f85e3c"/><circle cx="299.7" cy="112.9" r=".9" fill="#fbae5e"/><circle cx="215.0" cy="43.2" r=".9" fill="#e3100e"/><circle cx="276.0" cy="62.9" r=".9" fill="#f85e3c"/><circle cx="301.4" cy="89.9" r=".9" fill="#fde6c6"/><circle cx="298.4" cy="42.1" r=".9" fill="#a8000c"/><circle cx="261.2" cy="62.5" r=".9" fill="#e3100e"/><circle cx="326.8" cy="29.4" r=".9" fill="#fbae5e"/><circle cx="301.7" cy="46.0" r=".9" fill="#fde6c6"/><circle cx="305.4" cy="107.4" r=".9" fill="#fde6c6"/><circle cx="313.4" cy="94.2" r=".9" fill="#e3100e"/><circle cx="302.7" cy="108.9" r=".9" fill="#fde6c6"/><circle cx="295.6" cy="106.8" r=".9" fill="#f85e3c"/><circle cx="269.5" cy="26.5" r=".9" fill="#e3100e"/><circle cx="307.2" cy="57.9" r=".9" fill="#fbae5e"/><circle cx="289.3" cy="68.1" r=".9" fill="#a8000c"/><circle cx="300.9" cy="88.6" r=".9" fill="#fde6c6"/><circle cx="309.2" cy="56.4" r=".9" fill="#e3100e"/><circle cx="306.8" cy="63.2" r=".9" fill="#fde6c6"/><circle cx="292.1" cy="65.1" r=".9" fill="#fbae5e"/><circle cx="304.5" cy="43.6" r=".9" fill="#e3100e"/><circle cx="287.3" cy="92.6" r=".9" fill="#e3100e"/><circle cx="261.4" cy="56.6" r=".9" fill="#e3100e"/><circle cx="249.4" cy="48.7" r=".9" fill="#a8000c"/><circle cx="282.5" cy="69.7" r=".9" fill="#f85e3c"/><circle cx="317.2" cy="47.7" r=".9" fill="#f85e3c"/><circle cx="217.3" cy="42.9" r=".9" fill="#a8000c"/><circle cx="315.1" cy="57.7" r=".9" fill="#fbae5e"/><circle cx="293.9" cy="35.8" r=".9" fill="#e3100e"/><circle cx="315.4" cy="54.3" r=".9" fill="#f85e3c"/><circle cx="253.4" cy="23.9" r=".9" fill="#a8000c"/><circle cx="287.9" cy="92.7" r=".9" fill="#f85e3c"/><circle cx="317.4" cy="35.2" r=".9" fill="#e3100e"/><circle cx="312.7" cy="24.5" r=".9" fill="#e3100e"/><circle cx="219.9" cy="21.6" r=".9" fill="#a8000c"/><circle cx="308.6" cy="33.2" r=".9" fill="#fbae5e"/><circle cx="223.0" cy="24.0" r=".9" fill="#a8000c"/><circle cx="235.1" cy="63.3" r=".9" fill="#a8000c"/><circle cx="256.7" cy="24.6" r=".9" fill="#e3100e"/><circle cx="318.5" cy="58.0" r=".9" fill="#fbae5e"/><circle cx="248.0" cy="49.4" r=".9" fill="#e3100e"/><circle cx="269.5" cy="61.8" r=".9" fill="#e3100e"/><circle cx="288.6" cy="97.8" r=".9" fill="#fbae5e"/><circle cx="255.1" cy="50.8" r=".9" fill="#a8000c"/><circle cx="321.1" cy="57.1" r=".9" fill="#f85e3c"/><circle cx="314.7" cy="63.5" r=".9" fill="#fbae5e"/><circle cx="264.0" cy="58.9" r=".9" fill="#f85e3c"/><circle cx="266.3" cy="65.5" r=".9" fill="#a8000c"/><circle cx="323.3" cy="41.2" r=".9" fill="#fbae5e"/><circle cx="286.3" cy="91.9" r=".9" fill="#fbae5e"/><circle cx="291.0" cy="105.0" r=".9" fill="#f85e3c"/><circle cx="321.4" cy="30.3" r=".9" fill="#fbae5e"/><circle cx="234.7" cy="42.2" r=".9" fill="#e3100e"/><circle cx="331.0" cy="37.6" r=".9" fill="#e3100e"/><circle cx="247.8" cy="38.5" r=".9" fill="#a8000c"/><circle cx="300.5" cy="38.9" r=".9" fill="#e3100e"/><circle cx="313.5" cy="30.1" r=".9" fill="#fbae5e"/><circle cx="277.9" cy="32.2" r=".9" fill="#a8000c"/><circle cx="239.7" cy="63.6" r=".9" fill="#f85e3c"/><circle cx="306.2" cy="55.7" r=".9" fill="#fbae5e"/><circle cx="220.1" cy="44.3" r=".9" fill="#a8000c"/><circle cx="332.0" cy="39.3" r=".9" fill="#fbae5e"/><circle cx="307.4" cy="50.3" r=".9" fill="#e3100e"/><circle cx="312.2" cy="48.0" r=".9" fill="#fbae5e"/><circle cx="257.5" cy="53.6" r=".9" fill="#e3100e"/><circle cx="248.1" cy="31.0" r=".9" fill="#e3100e"/><circle cx="297.3" cy="61.9" r=".9" fill="#fbae5e"/><circle cx="307.3" cy="62.1" r=".9" fill="#fde6c6"/><circle cx="303.2" cy="64.6" r=".9" fill="#fbae5e"/><circle cx="319.2" cy="25.8" r=".9" fill="#fbae5e"/><circle cx="280.5" cy="67.3" r=".9" fill="#fde6c6"/><circle cx="250.5" cy="52.4" r=".9" fill="#e3100e"/><circle cx="244.6" cy="38.7" r=".9" fill="#a8000c"/><circle cx="271.9" cy="32.2" r=".9" fill="#a8000c"/><circle cx="310.4" cy="53.4" r=".9" fill="#fbae5e"/><circle cx="280.8" cy="96.0" r=".9" fill="#fde6c6"/><circle cx="260.1" cy="25.9" r=".9" fill="#e3100e"/><circle cx="239.9" cy="40.8" r=".9" fill="#e3100e"/><circle cx="247.1" cy="46.7" r=".9" fill="#a8000c"/><circle cx="258.2" cy="31.0" r=".9" fill="#a8000c"/><circle cx="246.4" cy="46.3" r=".9" fill="#e3100e"/><circle cx="323.3" cy="29.1" r=".9" fill="#fbae5e"/><circle cx="319.8" cy="47.8" r=".9" fill="#f85e3c"/><circle cx="308.3" cy="65.5" r=".9" fill="#fde6c6"/><circle cx="310.1" cy="62.5" r=".9" fill="#f85e3c"/><circle cx="303.8" cy="36.4" r=".9" fill="#e3100e"/><circle cx="238.3" cy="60.0" r=".9" fill="#e3100e"/><circle cx="285.2" cy="30.9" r=".9" fill="#a8000c"/><circle cx="290.2" cy="92.9" r=".9" fill="#e3100e"/><circle cx="302.6" cy="59.5" r=".9" fill="#fbae5e"/><circle cx="239.1" cy="64.7" r=".9" fill="#a8000c"/><circle cx="324.7" cy="48.0" r=".9" fill="#fde6c6"/><circle cx="294.2" cy="34.8" r=".9" fill="#e3100e"/><circle cx="237.1" cy="63.5" r=".9" fill="#e3100e"/><circle cx="288.3" cy="68.4" r=".9" fill="#fbae5e"/><circle cx="238.6" cy="41.4" r=".9" fill="#a8000c"/><circle cx="252.8" cy="48.4" r=".9" fill="#a8000c"/><circle cx="296.7" cy="101.5" r=".9" fill="#f85e3c"/><circle cx="315.5" cy="45.4" r=".9" fill="#e3100e"/><circle cx="218.7" cy="43.5" r=".9" fill="#e3100e"/><circle cx="306.8" cy="37.8" r=".9" fill="#fbae5e"/><circle cx="303.5" cy="65.1" r=".9" fill="#fbae5e"/><circle cx="225.9" cy="43.9" r=".9" fill="#e3100e"/><circle cx="240.2" cy="60.5" r=".9" fill="#a8000c"/><circle cx="296.8" cy="64.0" r=".9" fill="#fbae5e"/><circle cx="310.9" cy="53.9" r=".9" fill="#fbae5e"/><circle cx="296.8" cy="43.8" r=".9" fill="#e3100e"/><circle cx="255.5" cy="57.7" r=".9" fill="#a8000c"/><circle cx="250.5" cy="42.6" r=".9" fill="#a8000c"/><circle cx="240.5" cy="61.0" r=".9" fill="#a8000c"/><circle cx="246.7" cy="37.4" r=".9" fill="#e3100e"/><circle cx="251.7" cy="26.1" r=".9" fill="#e3100e"/><circle cx="293.2" cy="32.6" r=".9" fill="#a8000c"/><circle cx="312.7" cy="45.3" r=".9" fill="#fbae5e"/><circle cx="309.2" cy="65.3" r=".9" fill="#f85e3c"/><circle cx="211.1" cy="40.7" r=".9" fill="#a8000c"/><circle cx="239.3" cy="40.8" r=".9" fill="#e3100e"/><circle cx="299.6" cy="107.8" r=".9" fill="#fde6c6"/><circle cx="256.6" cy="54.9" r=".9" fill="#e3100e"/><circle cx="329.7" cy="31.7" r=".9" fill="#fbae5e"/><circle cx="249.6" cy="53.1" r=".9" fill="#f85e3c"/><circle cx="249.6" cy="37.8" r=".9" fill="#a8000c"/><circle cx="300.5" cy="50.5" r=".9" fill="#fde6c6"/><circle cx="248.8" cy="37.3" r=".9" fill="#a8000c"/><circle cx="221.9" cy="23.3" r=".9" fill="#a8000c"/><circle cx="259.6" cy="57.6" r=".9" fill="#a8000c"/><circle cx="315.8" cy="35.3" r=".9" fill="#fde6c6"/><circle cx="320.4" cy="27.9" r=".9" fill="#fde6c6"/><circle cx="276.5" cy="37.6" r=".9" fill="#e3100e"/><circle cx="257.0" cy="52.7" r=".9" fill="#a8000c"/><circle cx="243.8" cy="43.3" r=".9" fill="#a8000c"/><circle cx="303.1" cy="36.6" r=".9" fill="#e3100e"/><circle cx="239.7" cy="61.1" r=".9" fill="#f85e3c"/><circle cx="269.6" cy="29.7" r=".9" fill="#e3100e"/><circle cx="267.5" cy="26.6" r=".9" fill="#f85e3c"/><circle cx="249.2" cy="44.1" r=".9" fill="#a8000c"/><circle cx="320.1" cy="32.2" r=".9" fill="#fde6c6"/><circle cx="278.7" cy="64.9" r=".9" fill="#fbae5e"/><circle cx="283.8" cy="31.7" r=".9" fill="#a8000c"/><circle cx="216.7" cy="41.6" r=".9" fill="#a8000c"/><circle cx="327.6" cy="31.3" r=".9" fill="#fbae5e"/><circle cx="216.5" cy="43.7" r=".9" fill="#e3100e"/><circle cx="329.0" cy="41.4" r=".9" fill="#fde6c6"/><circle cx="308.0" cy="91.3" r=".9" fill="#fde6c6"/><circle cx="282.5" cy="66.5" r=".9" fill="#fbae5e"/><circle cx="252.7" cy="40.1" r=".9" fill="#e3100e"/><circle cx="304.2" cy="50.8" r=".9" fill="#fbae5e"/><circle cx="327.8" cy="30.8" r=".9" fill="#fde6c6"/><circle cx="304.4" cy="112.1" r=".9" fill="#fde6c6"/><circle cx="313.6" cy="50.1" r=".9" fill="#fde6c6"/><circle cx="314.7" cy="35.9" r=".9" fill="#fbae5e"/><circle cx="297.7" cy="53.3" r=".9" fill="#f85e3c"/><circle cx="260.9" cy="53.1" r=".9" fill="#e3100e"/><circle cx="234.8" cy="62.3" r=".9" fill="#e3100e"/><circle cx="284.7" cy="92.8" r=".9" fill="#e3100e"/><circle cx="303.9" cy="52.8" r=".9" fill="#f85e3c"/><circle cx="311.8" cy="47.1" r=".9" fill="#f85e3c"/><circle cx="220.5" cy="44.3" r=".9" fill="#e3100e"/><circle cx="255.9" cy="53.0" r=".9" fill="#a8000c"/><circle cx="299.0" cy="54.7" r=".9" fill="#e3100e"/><circle cx="332.1" cy="39.5" r=".9" fill="#fbae5e"/><circle cx="290.6" cy="66.4" r=".9" fill="#fbae5e"/><circle cx="224.2" cy="43.3" r=".9" fill="#a8000c"/><circle cx="213.2" cy="42.0" r=".9" fill="#e3100e"/><circle cx="304.8" cy="97.3" r=".9" fill="#f85e3c"/><circle cx="216.1" cy="42.1" r=".9" fill="#e3100e"/><circle cx="318.1" cy="53.7" r=".9" fill="#fbae5e"/><circle cx="302.1" cy="44.5" r=".9" fill="#f85e3c"/><circle cx="308.7" cy="31.8" r=".9" fill="#f85e3c"/><circle cx="294.9" cy="111.3" r=".9" fill="#f85e3c"/><circle cx="319.7" cy="59.2" r=".9" fill="#f85e3c"/><circle cx="316.7" cy="39.0" r=".9" fill="#e3100e"/><circle cx="263.5" cy="59.8" r=".9" fill="#f85e3c"/><circle cx="293.1" cy="94.8" r=".9" fill="#fde6c6"/><circle cx="284.6" cy="31.5" r=".9" fill="#e3100e"/><circle cx="238.0" cy="63.9" r=".9" fill="#f85e3c"/><circle cx="319.6" cy="41.4" r=".9" fill="#f85e3c"/><circle cx="275.3" cy="36.8" r=".9" fill="#e3100e"/><circle cx="220.6" cy="22.0" r=".9" fill="#e3100e"/><circle cx="304.4" cy="44.9" r=".9" fill="#fbae5e"/><circle cx="321.5" cy="35.8" r=".9" fill="#f85e3c"/><circle cx="268.1" cy="62.9" r=".9" fill="#a8000c"/><circle cx="311.2" cy="90.4" r=".9" fill="#fde6c6"/><circle cx="325.6" cy="46.0" r=".9" fill="#fbae5e"/><circle cx="240.1" cy="62.2" r=".9" fill="#a8000c"/><circle cx="287.3" cy="66.9" r=".9" fill="#fbae5e"/><circle cx="257.1" cy="24.7" r=".9" fill="#e3100e"/><circle cx="296.4" cy="104.6" r=".9" fill="#f85e3c"/><circle cx="236.7" cy="63.7" r=".9" fill="#a8000c"/><circle cx="235.0" cy="62.2" r=".9" fill="#a8000c"/><circle cx="306.7" cy="42.0" r=".9" fill="#e3100e"/><circle cx="294.2" cy="36.2" r=".9" fill="#a8000c"/><circle cx="252.8" cy="49.5" r=".9" fill="#f85e3c"/><circle cx="311.4" cy="58.2" r=".9" fill="#fde6c6"/><circle cx="304.6" cy="35.9" r=".9" fill="#e3100e"/><circle cx="322.7" cy="38.0" r=".9" fill="#fbae5e"/><circle cx="305.4" cy="62.5" r=".9" fill="#fbae5e"/><circle cx="267.7" cy="63.0" r=".9" fill="#f85e3c"/><circle cx="311.6" cy="53.9" r=".9" fill="#e3100e"/><circle cx="216.5" cy="42.2" r=".9" fill="#e3100e"/><circle cx="320.6" cy="39.3" r=".9" fill="#e3100e"/><circle cx="306.0" cy="89.6" r=".9" fill="#fde6c6"/><circle cx="280.6" cy="93.9" r=".9" fill="#a8000c"/><circle cx="317.9" cy="92.0" r=".9" fill="#fde6c6"/><circle cx="255.6" cy="51.4" r=".9" fill="#e3100e"/><circle cx="266.8" cy="27.3" r=".9" fill="#e3100e"/><circle cx="230.8" cy="43.8" r=".9" fill="#a8000c"/><circle cx="314.0" cy="31.0" r=".9" fill="#fde6c6"/><circle cx="318.9" cy="29.3" r=".9" fill="#fbae5e"/><circle cx="330.0" cy="37.6" r=".9" fill="#f85e3c"/><circle cx="236.4" cy="63.9" r=".9" fill="#e3100e"/><circle cx="330.3" cy="37.3" r=".9" fill="#fbae5e"/><circle cx="301.8" cy="57.0" r=".9" fill="#fbae5e"/><circle cx="261.3" cy="25.5" r=".9" fill="#a8000c"/><circle cx="294.5" cy="109.4" r=".9" fill="#fbae5e"/><circle cx="303.9" cy="40.5" r=".9" fill="#f85e3c"/><circle cx="296.3" cy="85.0" r=".9" fill="#fbae5e"/><circle cx="248.7" cy="28.1" r=".9" fill="#a8000c"/><circle cx="297.2" cy="33.0" r=".9" fill="#fbae5e"/><circle cx="258.8" cy="40.3" r=".9" fill="#e3100e"/><circle cx="272.1" cy="66.1" r=".9" fill="#fbae5e"/><circle cx="225.0" cy="44.0" r=".9" fill="#e3100e"/><circle cx="249.4" cy="47.7" r=".9" fill="#a8000c"/><circle cx="296.0" cy="107.0" r=".9" fill="#f85e3c"/><circle cx="307.9" cy="38.2" r=".9" fill="#fde6c6"/><circle cx="300.1" cy="88.9" r=".9" fill="#fde6c6"/><circle cx="304.9" cy="54.3" r=".9" fill="#f85e3c"/><circle cx="215.9" cy="43.2" r=".9" fill="#e3100e"/><circle cx="290.8" cy="106.9" r=".9" fill="#fbae5e"/><circle cx="326.4" cy="34.1" r=".9" fill="#f85e3c"/><circle cx="327.8" cy="36.3" r=".9" fill="#fbae5e"/><circle cx="296.9" cy="113.2" r=".9" fill="#e3100e"/><circle cx="280.5" cy="63.2" r=".9" fill="#fbae5e"/><circle cx="285.3" cy="34.2" r=".9" fill="#f85e3c"/><circle cx="298.3" cy="108.0" r=".9" fill="#fbae5e"/><circle cx="253.5" cy="24.6" r=".9" fill="#e3100e"/><circle cx="316.7" cy="32.0" r=".9" fill="#f85e3c"/><circle cx="298.8" cy="108.5" r=".9" fill="#fbae5e"/><circle cx="264.9" cy="58.0" r=".9" fill="#a8000c"/><circle cx="260.8" cy="36.3" r=".9" fill="#f85e3c"/><circle cx="296.0" cy="84.8" r=".9" fill="#fde6c6"/><circle cx="246.5" cy="25.4" r=".9" fill="#a8000c"/><circle cx="285.6" cy="30.4" r=".9" fill="#e3100e"/><circle cx="221.3" cy="43.0" r=".9" fill="#e3100e"/><circle cx="300.6" cy="43.3" r=".9" fill="#fde6c6"/><circle cx="257.6" cy="24.8" r=".9" fill="#e3100e"/><circle cx="252.2" cy="25.8" r=".9" fill="#e3100e"/><circle cx="295.4" cy="102.8" r=".9" fill="#a8000c"/><circle cx="216.0" cy="42.6" r=".9" fill="#e3100e"/><circle cx="252.5" cy="48.2" r=".9" fill="#e3100e"/><circle cx="324.3" cy="40.2" r=".9" fill="#f85e3c"/><circle cx="277.5" cy="67.7" r=".9" fill="#fde6c6"/><circle cx="308.2" cy="55.4" r=".9" fill="#f85e3c"/><circle cx="326.1" cy="33.2" r=".9" fill="#fbae5e"/><circle cx="305.3" cy="108.8" r=".9" fill="#a8000c"/><circle cx="286.3" cy="31.6" r=".9" fill="#f85e3c"/><circle cx="272.1" cy="26.4" r=".9" fill="#a8000c"/><circle cx="314.9" cy="41.1" r=".9" fill="#fbae5e"/><circle cx="302.0" cy="47.6" r=".9" fill="#e3100e"/><circle cx="220.7" cy="23.0" r=".9" fill="#e3100e"/><circle cx="262.8" cy="28.8" r=".9" fill="#a8000c"/><circle cx="243.9" cy="46.4" r=".9" fill="#e3100e"/><circle cx="299.8" cy="93.3" r=".9" fill="#f85e3c"/><circle cx="300.5" cy="86.2" r=".9" fill="#e3100e"/><circle cx="237.8" cy="62.7" r=".9" fill="#e3100e"/><circle cx="291.4" cy="93.9" r=".9" fill="#fbae5e"/><circle cx="295.4" cy="109.2" r=".9" fill="#e3100e"/><circle cx="306.0" cy="62.3" r=".9" fill="#fbae5e"/><circle cx="237.1" cy="41.9" r=".9" fill="#f85e3c"/><circle cx="247.2" cy="46.1" r=".9" fill="#e3100e"/><circle cx="287.1" cy="35.6" r=".9" fill="#e3100e"/><circle cx="311.4" cy="35.8" r=".9" fill="#fbae5e"/><circle cx="306.4" cy="92.2" r=".9" fill="#fde6c6"/><circle cx="310.3" cy="48.1" r=".9" fill="#f85e3c"/><circle cx="300.8" cy="49.2" r=".9" fill="#a8000c"/><circle cx="284.5" cy="32.0" r=".9" fill="#a8000c"/><circle cx="284.2" cy="63.8" r=".9" fill="#fbae5e"/><circle cx="243.7" cy="40.6" r=".9" fill="#e3100e"/><circle cx="304.4" cy="37.0" r=".9" fill="#f85e3c"/><circle cx="291.9" cy="96.9" r=".9" fill="#f85e3c"/><circle cx="305.3" cy="40.7" r=".9" fill="#fde6c6"/><circle cx="237.3" cy="59.2" r=".9" fill="#e3100e"/><circle cx="239.6" cy="63.7" r=".9" fill="#e3100e"/><circle cx="294.5" cy="111.4" r=".9" fill="#f85e3c"/><circle cx="271.5" cy="36.9" r=".9" fill="#fbae5e"/><circle cx="298.8" cy="64.2" r=".9" fill="#fde6c6"/><circle cx="320.0" cy="48.0" r=".9" fill="#e3100e"/><circle cx="328.2" cy="32.4" r=".9" fill="#fbae5e"/><circle cx="265.7" cy="54.7" r=".9" fill="#e3100e"/><circle cx="257.2" cy="46.9" r=".9" fill="#e3100e"/><circle cx="272.1" cy="63.5" r=".9" fill="#e3100e"/><circle cx="331.6" cy="33.2" r=".9" fill="#f85e3c"/><circle cx="300.9" cy="63.6" r=".9" fill="#fde6c6"/><circle cx="305.5" cy="88.3" r=".9" fill="#fde6c6"/><circle cx="319.7" cy="44.8" r=".9" fill="#fbae5e"/><circle cx="296.4" cy="103.6" r=".9" fill="#e3100e"/><circle cx="305.0" cy="30.8" r=".9" fill="#f85e3c"/><circle cx="284.4" cy="95.6" r=".9" fill="#fbae5e"/><circle cx="306.1" cy="90.2" r=".9" fill="#fde6c6"/><circle cx="313.5" cy="37.1" r=".9" fill="#f85e3c"/><circle cx="305.8" cy="33.7" r=".9" fill="#fde6c6"/><circle cx="315.9" cy="46.5" r=".9" fill="#e3100e"/><circle cx="302.2" cy="47.2" r=".9" fill="#fde6c6"/><circle cx="300.0" cy="105.0" r=".9" fill="#fde6c6"/><circle cx="324.2" cy="40.9" r=".9" fill="#fbae5e"/><circle cx="302.9" cy="86.2" r=".9" fill="#fde6c6"/><circle cx="316.8" cy="31.0" r=".9" fill="#f85e3c"/><circle cx="313.3" cy="40.7" r=".9" fill="#f85e3c"/><circle cx="308.7" cy="91.9" r=".9" fill="#fde6c6"/><circle cx="330.7" cy="37.1" r=".9" fill="#fbae5e"/><circle cx="275.8" cy="31.3" r=".9" fill="#f85e3c"/><circle cx="327.9" cy="48.0" r=".9" fill="#f85e3c"/><circle cx="300.2" cy="53.9" r=".9" fill="#fbae5e"/><circle cx="303.3" cy="55.5" r=".9" fill="#fbae5e"/><circle cx="247.9" cy="24.9" r=".9" fill="#f85e3c"/><circle cx="252.2" cy="39.0" r=".9" fill="#f85e3c"/><circle cx="284.1" cy="63.7" r=".9" fill="#f85e3c"/><circle cx="302.9" cy="33.1" r=".9" fill="#f85e3c"/><circle cx="212.5" cy="42.4" r=".9" fill="#e3100e"/><circle cx="234.6" cy="60.4" r=".9" fill="#f85e3c"/><circle cx="274.5" cy="34.9" r=".9" fill="#a8000c"/><circle cx="304.9" cy="44.7" r=".9" fill="#f85e3c"/><circle cx="232.8" cy="38.3" r=".9" fill="#a8000c"/><circle cx="316.5" cy="57.5" r=".9" fill="#fde6c6"/><circle cx="311.6" cy="50.7" r=".9" fill="#fde6c6"/><circle cx="248.5" cy="42.9" r=".9" fill="#e3100e"/><circle cx="232.1" cy="44.3" r=".9" fill="#e3100e"/><circle cx="249.2" cy="27.0" r=".9" fill="#e3100e"/><circle cx="263.9" cy="61.1" r=".9" fill="#f85e3c"/><circle cx="281.5" cy="31.2" r=".9" fill="#a8000c"/><circle cx="295.8" cy="98.3" r=".9" fill="#fbae5e"/><circle cx="270.6" cy="60.9" r=".9" fill="#fbae5e"/><circle cx="270.5" cy="62.1" r=".9" fill="#e3100e"/><circle cx="280.7" cy="35.0" r=".9" fill="#e3100e"/><circle cx="310.5" cy="50.2" r=".9" fill="#fde6c6"/><circle cx="273.0" cy="60.6" r=".9" fill="#e3100e"/><circle cx="271.7" cy="26.1" r=".9" fill="#e3100e"/><circle cx="286.9" cy="92.7" r=".9" fill="#f85e3c"/><circle cx="313.3" cy="29.3" r=".9" fill="#fbae5e"/><circle cx="252.2" cy="48.4" r=".9" fill="#f85e3c"/><circle cx="249.6" cy="33.9" r=".9" fill="#a8000c"/><circle cx="225.6" cy="43.4" r=".9" fill="#e3100e"/><circle cx="321.4" cy="34.2" r=".9" fill="#fbae5e"/><circle cx="289.4" cy="106.8" r=".9" fill="#fde6c6"/><circle cx="325.0" cy="28.7" r=".9" fill="#f85e3c"/><circle cx="260.4" cy="26.9" r=".9" fill="#a8000c"/><circle cx="238.1" cy="26.0" r=".9" fill="#e3100e"/><circle cx="309.6" cy="51.8" r=".9" fill="#f85e3c"/><circle cx="302.0" cy="65.8" r=".9" fill="#e3100e"/><circle cx="261.4" cy="27.0" r=".9" fill="#e3100e"/><circle cx="316.9" cy="53.6" r=".9" fill="#fbae5e"/><circle cx="290.7" cy="93.6" r=".9" fill="#e3100e"/><circle cx="318.4" cy="33.8" r=".9" fill="#fbae5e"/><circle cx="301.1" cy="41.1" r=".9" fill="#f85e3c"/><circle cx="219.5" cy="45.2" r=".9" fill="#a8000c"/><circle cx="314.6" cy="48.8" r=".9" fill="#fde6c6"/><circle cx="323.4" cy="53.4" r=".9" fill="#fbae5e"/><circle cx="216.8" cy="44.4" r=".9" fill="#e3100e"/><circle cx="243.6" cy="42.7" r=".9" fill="#a8000c"/><circle cx="280.8" cy="67.1" r=".9" fill="#f85e3c"/><circle cx="275.3" cy="35.4" r=".9" fill="#e3100e"/><circle cx="234.6" cy="39.5" r=".9" fill="#a8000c"/><circle cx="264.0" cy="54.0" r=".9" fill="#e3100e"/><circle cx="248.8" cy="47.5" r=".9" fill="#e3100e"/><circle cx="249.9" cy="31.8" r=".9" fill="#a8000c"/><circle cx="250.8" cy="25.8" r=".9" fill="#a8000c"/><circle cx="322.4" cy="56.1" r=".9" fill="#fde6c6"/><circle cx="263.6" cy="55.4" r=".9" fill="#a8000c"/><circle cx="314.6" cy="42.4" r=".9" fill="#f85e3c"/><circle cx="316.6" cy="40.7" r=".9" fill="#e3100e"/><circle cx="252.8" cy="23.8" r=".9" fill="#e3100e"/><circle cx="248.9" cy="35.3" r=".9" fill="#a8000c"/><circle cx="257.5" cy="52.6" r=".9" fill="#a8000c"/><circle cx="258.9" cy="29.3" r=".9" fill="#a8000c"/><circle cx="297.0" cy="107.5" r=".9" fill="#fde6c6"/><circle cx="324.9" cy="37.2" r=".9" fill="#f85e3c"/><circle cx="271.8" cy="61.3" r=".9" fill="#a8000c"/><circle cx="274.2" cy="64.0" r=".9" fill="#a8000c"/><circle cx="306.7" cy="52.4" r=".9" fill="#f85e3c"/><circle cx="333.0" cy="39.4" r=".9" fill="#f85e3c"/><circle cx="318.3" cy="27.8" r=".9" fill="#fde6c6"/><circle cx="316.2" cy="34.1" r=".9" fill="#fbae5e"/><circle cx="329.5" cy="41.9" r=".9" fill="#fbae5e"/><circle cx="300.5" cy="40.7" r=".9" fill="#fbae5e"/><circle cx="304.8" cy="37.8" r=".9" fill="#e3100e"/><circle cx="242.4" cy="40.1" r=".9" fill="#f85e3c"/><circle cx="248.8" cy="25.1" r=".9" fill="#a8000c"/><circle cx="303.0" cy="40.3" r=".9" fill="#fbae5e"/><circle cx="306.4" cy="109.9" r=".9" fill="#fde6c6"/><circle cx="311.2" cy="39.5" r=".9" fill="#f85e3c"/><circle cx="249.6" cy="32.9" r=".9" fill="#e3100e"/><circle cx="320.8" cy="47.2" r=".9" fill="#fbae5e"/><circle cx="303.1" cy="109.0" r=".9" fill="#f85e3c"/><circle cx="247.4" cy="51.5" r=".9" fill="#a8000c"/><circle cx="291.2" cy="92.6" r=".9" fill="#fbae5e"/><circle cx="260.3" cy="51.8" r=".9" fill="#e3100e"/><circle cx="295.0" cy="105.1" r=".9" fill="#e3100e"/><circle cx="318.4" cy="61.5" r=".9" fill="#fde6c6"/><circle cx="330.1" cy="37.8" r=".9" fill="#f85e3c"/><circle cx="309.3" cy="35.7" r=".9" fill="#fbae5e"/><circle cx="290.7" cy="105.9" r=".9" fill="#f85e3c"/><circle cx="248.9" cy="31.5" r=".9" fill="#e3100e"/><circle cx="238.9" cy="63.5" r=".9" fill="#fbae5e"/><circle cx="315.1" cy="37.1" r=".9" fill="#fde6c6"/><circle cx="310.2" cy="27.6" r=".9" fill="#fde6c6"/><circle cx="247.1" cy="25.0" r=".9" fill="#e3100e"/><circle cx="293.8" cy="102.0" r=".9" fill="#fbae5e"/><circle cx="251.3" cy="25.7" r=".9" fill="#a8000c"/><circle cx="219.2" cy="22.0" r=".9" fill="#a8000c"/><circle cx="304.9" cy="47.4" r=".9" fill="#fde6c6"/><circle cx="283.2" cy="28.9" r=".9" fill="#a8000c"/><circle cx="249.5" cy="26.0" r=".9" fill="#e3100e"/><circle cx="310.4" cy="90.7" r=".9" fill="#fde6c6"/><circle cx="278.3" cy="35.1" r=".9" fill="#a8000c"/><circle cx="217.7" cy="45.2" r=".9" fill="#a8000c"/><circle cx="276.8" cy="65.7" r=".9" fill="#e3100e"/><circle cx="294.8" cy="107.6" r=".9" fill="#f85e3c"/><circle cx="253.1" cy="51.0" r=".9" fill="#e3100e"/><circle cx="290.5" cy="67.1" r=".9" fill="#fbae5e"/><circle cx="299.2" cy="86.3" r=".9" fill="#fde6c6"/><circle cx="239.6" cy="43.0" r=".9" fill="#a8000c"/><circle cx="318.0" cy="45.2" r=".9" fill="#fbae5e"/><circle cx="299.6" cy="38.0" r=".9" fill="#f85e3c"/><circle cx="308.7" cy="61.7" r=".9" fill="#fde6c6"/><circle cx="236.0" cy="61.4" r=".9" fill="#a8000c"/><circle cx="329.5" cy="44.5" r=".9" fill="#e3100e"/><circle cx="254.9" cy="55.6" r=".9" fill="#e3100e"/><circle cx="289.7" cy="68.8" r=".9" fill="#fbae5e"/><circle cx="256.0" cy="25.5" r=".9" fill="#e3100e"/><circle cx="296.7" cy="108.3" r=".9" fill="#fde6c6"/><circle cx="267.7" cy="64.4" r=".9" fill="#e3100e"/><circle cx="308.1" cy="51.2" r=".9" fill="#fbae5e"/><circle cx="287.2" cy="94.6" r=".9" fill="#e3100e"/><circle cx="250.1" cy="37.8" r=".9" fill="#a8000c"/><circle cx="213.6" cy="43.4" r=".9" fill="#a8000c"/><circle cx="309.9" cy="52.3" r=".9" fill="#e3100e"/><circle cx="251.3" cy="27.4" r=".9" fill="#f85e3c"/><circle cx="327.2" cy="39.5" r=".9" fill="#fde6c6"/><circle cx="235.4" cy="61.0" r=".9" fill="#f85e3c"/><circle cx="249.5" cy="47.0" r=".9" fill="#e3100e"/><circle cx="313.3" cy="25.6" r=".9" fill="#a8000c"/><circle cx="324.8" cy="40.3" r=".9" fill="#fbae5e"/><circle cx="315.8" cy="42.3" r=".9" fill="#fbae5e"/><circle cx="259.7" cy="25.6" r=".9" fill="#a8000c"/><circle cx="254.8" cy="27.8" r=".9" fill="#e3100e"/><circle cx="219.6" cy="44.0" r=".9" fill="#e3100e"/><circle cx="248.9" cy="47.6" r=".9" fill="#a8000c"/><circle cx="297.4" cy="61.8" r=".9" fill="#fde6c6"/><circle cx="246.1" cy="26.1" r=".9" fill="#e3100e"/><circle cx="311.3" cy="50.4" r=".9" fill="#fde6c6"/><circle cx="293.8" cy="68.8" r=".9" fill="#fde6c6"/><circle cx="302.8" cy="89.4" r=".9" fill="#fde6c6"/><circle cx="314.1" cy="39.9" r=".9" fill="#fbae5e"/><circle cx="254.4" cy="47.7" r=".9" fill="#e3100e"/><circle cx="302.3" cy="102.9" r=".9" fill="#e3100e"/><circle cx="311.1" cy="53.9" r=".9" fill="#e3100e"/><circle cx="251.0" cy="24.6" r=".9" fill="#e3100e"/><circle cx="256.3" cy="45.6" r=".9" fill="#e3100e"/><circle cx="307.5" cy="112.8" r=".9" fill="#fbae5e"/><circle cx="301.9" cy="106.1" r=".9" fill="#fbae5e"/><circle cx="270.8" cy="33.3" r=".9" fill="#a8000c"/><circle cx="303.0" cy="35.9" r=".9" fill="#f85e3c"/><circle cx="294.2" cy="94.7" r=".9" fill="#f85e3c"/><circle cx="248.0" cy="39.5" r=".9" fill="#a8000c"/><circle cx="272.9" cy="36.4" r=".9" fill="#e3100e"/><circle cx="213.9" cy="41.7" r=".9" fill="#a8000c"/><circle cx="280.3" cy="37.9" r=".9" fill="#e3100e"/><circle cx="249.1" cy="41.6" r=".9" fill="#a8000c"/><circle cx="289.2" cy="37.2" r=".9" fill="#e3100e"/><circle cx="307.1" cy="52.4" r=".9" fill="#f85e3c"/><circle cx="324.9" cy="44.6" r=".9" fill="#fde6c6"/><circle cx="237.2" cy="41.1" r=".9" fill="#e3100e"/><circle cx="238.6" cy="40.6" r=".9" fill="#e3100e"/><circle cx="251.3" cy="61.4" r=".9" fill="#a8000c"/><circle cx="313.6" cy="37.8" r=".9" fill="#fbae5e"/><circle cx="316.6" cy="57.9" r=".9" fill="#fbae5e"/><circle cx="298.1" cy="110.1" r=".9" fill="#fde6c6"/><circle cx="276.2" cy="29.2" r=".9" fill="#e3100e"/><circle cx="267.3" cy="63.0" r=".9" fill="#e3100e"/><circle cx="248.5" cy="49.0" r=".9" fill="#a8000c"/><circle cx="239.8" cy="41.9" r=".9" fill="#a8000c"/><circle cx="251.4" cy="39.2" r=".9" fill="#a8000c"/><circle cx="235.0" cy="42.4" r=".9" fill="#e3100e"/><circle cx="240.2" cy="42.1" r=".9" fill="#e3100e"/><circle cx="235.2" cy="63.9" r=".9" fill="#e3100e"/><circle cx="310.3" cy="60.6" r=".9" fill="#f85e3c"/><circle cx="325.7" cy="50.6" r=".9" fill="#fbae5e"/><circle cx="273.5" cy="64.4" r=".9" fill="#a8000c"/><circle cx="298.5" cy="38.5" r=".9" fill="#f85e3c"/><circle cx="306.9" cy="108.7" r=".9" fill="#fde6c6"/><circle cx="299.6" cy="37.8" r=".9" fill="#f85e3c"/><circle cx="307.1" cy="54.1" r=".9" fill="#fbae5e"/><circle cx="259.8" cy="29.3" r=".9" fill="#a8000c"/><circle cx="286.0" cy="95.7" r=".9" fill="#fde6c6"/><circle cx="285.6" cy="29.9" r=".9" fill="#e3100e"/><circle cx="262.8" cy="44.3" r=".9" fill="#f85e3c"/><circle cx="323.4" cy="48.3" r=".9" fill="#f85e3c"/><circle cx="322.6" cy="46.3" r=".9" fill="#fde6c6"/><circle cx="294.0" cy="64.1" r=".9" fill="#fde6c6"/><circle cx="285.1" cy="97.0" r=".9" fill="#f85e3c"/><circle cx="297.5" cy="62.6" r=".9" fill="#fbae5e"/><circle cx="324.2" cy="33.8" r=".9" fill="#f85e3c"/><circle cx="311.9" cy="93.5" r=".9" fill="#f85e3c"/><circle cx="312.5" cy="35.2" r=".9" fill="#fbae5e"/><circle cx="297.3" cy="85.0" r=".9" fill="#fde6c6"/><circle cx="295.6" cy="70.5" r=".9" fill="#f85e3c"/><circle cx="326.4" cy="39.8" r=".9" fill="#fde6c6"/><circle cx="220.3" cy="22.6" r=".9" fill="#fbae5e"/><circle cx="246.2" cy="32.6" r=".9" fill="#a8000c"/><circle cx="319.7" cy="35.8" r=".9" fill="#fbae5e"/><circle cx="299.9" cy="103.3" r=".9" fill="#fde6c6"/><circle cx="257.5" cy="51.3" r=".9" fill="#e3100e"/><circle cx="295.0" cy="110.8" r=".9" fill="#e3100e"/><circle cx="297.1" cy="38.6" r=".9" fill="#e3100e"/><circle cx="247.7" cy="24.1" r=".9" fill="#f85e3c"/><circle cx="286.9" cy="37.0" r=".9" fill="#e3100e"/><circle cx="274.3" cy="36.0" r=".9" fill="#e3100e"/><circle cx="257.7" cy="48.2" r=".9" fill="#e3100e"/><circle cx="293.7" cy="105.8" r=".9" fill="#f85e3c"/><circle cx="246.7" cy="25.0" r=".9" fill="#f85e3c"/><circle cx="254.2" cy="56.0" r=".9" fill="#a8000c"/><circle cx="316.8" cy="51.8" r=".9" fill="#fbae5e"/><circle cx="293.5" cy="65.3" r=".9" fill="#fde6c6"/><circle cx="264.6" cy="61.4" r=".9" fill="#a8000c"/><circle cx="304.6" cy="48.4" r=".9" fill="#fde6c6"/><circle cx="297.2" cy="111.6" r=".9" fill="#fde6c6"/><circle cx="307.2" cy="109.9" r=".9" fill="#fbae5e"/><circle cx="299.7" cy="85.7" r=".9" fill="#fde6c6"/><circle cx="270.1" cy="58.4" r=".9" fill="#a8000c"/><circle cx="264.7" cy="56.5" r=".9" fill="#a8000c"/><circle cx="292.8" cy="92.3" r=".9" fill="#fde6c6"/><circle cx="236.8" cy="63.4" r=".9" fill="#f85e3c"/><circle cx="300.6" cy="64.6" r=".9" fill="#fbae5e"/><circle cx="217.9" cy="44.3" r=".9" fill="#e3100e"/><circle cx="291.3" cy="33.9" r=".9" fill="#e3100e"/><circle cx="251.9" cy="51.9" r=".9" fill="#a8000c"/><circle cx="306.0" cy="106.2" r=".9" fill="#fde6c6"/><circle cx="293.8" cy="67.2" r=".9" fill="#fbae5e"/><circle cx="298.7" cy="106.1" r=".9" fill="#fde6c6"/><circle cx="252.4" cy="39.7" r=".9" fill="#a8000c"/><circle cx="252.7" cy="52.8" r=".9" fill="#a8000c"/><circle cx="323.0" cy="28.9" r=".9" fill="#fbae5e"/><circle cx="238.3" cy="44.1" r=".9" fill="#e3100e"/><circle cx="328.5" cy="40.2" r=".9" fill="#fbae5e"/><circle cx="314.0" cy="90.9" r=".9" fill="#fbae5e"/><circle cx="257.9" cy="55.3" r=".9" fill="#a8000c"/><circle cx="300.1" cy="53.1" r=".9" fill="#fde6c6"/><circle cx="286.5" cy="68.8" r=".9" fill="#fbae5e"/><circle cx="294.2" cy="67.8" r=".9" fill="#fde6c6"/><circle cx="240.6" cy="39.0" r=".9" fill="#a8000c"/><circle cx="275.0" cy="65.3" r=".9" fill="#a8000c"/><circle cx="304.8" cy="62.5" r=".9" fill="#f85e3c"/><circle cx="305.2" cy="54.7" r=".9" fill="#fbae5e"/><circle cx="251.8" cy="38.0" r=".9" fill="#a8000c"/><circle cx="315.4" cy="92.6" r=".9" fill="#fde6c6"/><circle cx="297.8" cy="39.2" r=".9" fill="#fbae5e"/><circle cx="257.8" cy="52.8" r=".9" fill="#a8000c"/><circle cx="293.2" cy="104.2" r=".9" fill="#e3100e"/><circle cx="250.9" cy="25.1" r=".9" fill="#e3100e"/><circle cx="290.9" cy="70.4" r=".9" fill="#fbae5e"/><circle cx="252.3" cy="29.7" r=".9" fill="#a8000c"/><circle cx="270.1" cy="29.8" r=".9" fill="#a8000c"/><circle cx="268.6" cy="54.5" r=".9" fill="#e3100e"/><circle cx="326.5" cy="29.3" r=".9" fill="#fde6c6"/><circle cx="289.1" cy="35.2" r=".9" fill="#f85e3c"/><circle cx="300.2" cy="53.5" r=".9" fill="#fbae5e"/><circle cx="264.0" cy="56.5" r=".9" fill="#a8000c"/><circle cx="249.5" cy="42.2" r=".9" fill="#e3100e"/><circle cx="302.1" cy="89.4" r=".9" fill="#fde6c6"/><circle cx="306.4" cy="107.7" r=".9" fill="#fde6c6"/><circle cx="219.5" cy="22.4" r=".9" fill="#e3100e"/><circle cx="300.7" cy="108.6" r=".9" fill="#fde6c6"/><circle cx="249.1" cy="32.0" r=".9" fill="#a8000c"/><circle cx="283.3" cy="68.0" r=".9" fill="#fbae5e"/><circle cx="257.1" cy="53.4" r=".9" fill="#e3100e"/><circle cx="285.8" cy="65.1" r=".9" fill="#f85e3c"/><circle cx="283.5" cy="97.2" r=".9" fill="#f85e3c"/><circle cx="272.5" cy="63.3" r=".9" fill="#e3100e"/><circle cx="310.6" cy="34.1" r=".9" fill="#f85e3c"/><circle cx="289.0" cy="64.2" r=".9" fill="#fbae5e"/><circle cx="217.5" cy="41.7" r=".9" fill="#a8000c"/><circle cx="328.3" cy="36.1" r=".9" fill="#e3100e"/><circle cx="238.4" cy="63.1" r=".9" fill="#e3100e"/><circle cx="307.0" cy="49.1" r=".9" fill="#f85e3c"/><circle cx="304.2" cy="52.1" r=".9" fill="#fbae5e"/><circle cx="313.8" cy="31.1" r=".9" fill="#fbae5e"/><circle cx="317.4" cy="39.7" r=".9" fill="#fbae5e"/><circle cx="271.5" cy="62.9" r=".9" fill="#e3100e"/><circle cx="295.1" cy="67.7" r=".9" fill="#fbae5e"/><circle cx="309.0" cy="44.0" r=".9" fill="#fbae5e"/><circle cx="305.5" cy="39.3" r=".9" fill="#e3100e"/><circle cx="265.7" cy="28.1" r=".9" fill="#a8000c"/><circle cx="296.0" cy="110.4" r=".9" fill="#e3100e"/><circle cx="213.3" cy="41.8" r=".9" fill="#a8000c"/><circle cx="302.3" cy="89.2" r=".9" fill="#fde6c6"/><circle cx="290.6" cy="104.1" r=".9" fill="#f85e3c"/><circle cx="253.7" cy="51.1" r=".9" fill="#e3100e"/><circle cx="283.0" cy="65.5" r=".9" fill="#fbae5e"/><circle cx="242.6" cy="39.3" r=".9" fill="#e3100e"/><circle cx="286.2" cy="97.8" r=".9" fill="#e3100e"/><circle cx="286.6" cy="67.8" r=".9" fill="#e3100e"/><circle cx="304.6" cy="110.3" r=".9" fill="#fde6c6"/><circle cx="314.4" cy="33.4" r=".9" fill="#fbae5e"/><circle cx="296.7" cy="110.5" r=".9" fill="#fbae5e"/><circle cx="299.1" cy="63.5" r=".9" fill="#fde6c6"/><circle cx="213.0" cy="41.7" r=".9" fill="#a8000c"/><circle cx="210.4" cy="42.0" r=".9" fill="#a8000c"/><circle cx="246.4" cy="27.0" r=".9" fill="#e3100e"/><circle cx="213.7" cy="44.7" r=".9" fill="#e3100e"/><circle cx="251.4" cy="37.3" r=".9" fill="#a8000c"/><circle cx="301.9" cy="45.8" r=".9" fill="#fbae5e"/><circle cx="219.1" cy="42.3" r=".9" fill="#a8000c"/><circle cx="247.0" cy="43.7" r=".9" fill="#e3100e"/><circle cx="290.3" cy="67.0" r=".9" fill="#fbae5e"/><circle cx="311.7" cy="26.8" r=".9" fill="#e3100e"/><circle cx="280.1" cy="37.3" r=".9" fill="#e3100e"/><circle cx="276.3" cy="35.4" r=".9" fill="#e3100e"/><circle cx="311.8" cy="24.8" r=".9" fill="#e3100e"/><circle cx="307.7" cy="46.8" r=".9" fill="#f85e3c"/><circle cx="253.4" cy="54.9" r=".9" fill="#f85e3c"/><circle cx="249.1" cy="27.1" r=".9" fill="#a8000c"/><circle cx="309.1" cy="48.8" r=".9" fill="#e3100e"/><circle cx="283.3" cy="30.4" r=".9" fill="#e3100e"/><circle cx="247.8" cy="48.4" r=".9" fill="#e3100e"/><circle cx="214.6" cy="43.3" r=".9" fill="#e3100e"/><circle cx="289.2" cy="96.2" r=".9" fill="#fbae5e"/><circle cx="274.3" cy="35.0" r=".9" fill="#a8000c"/><circle cx="247.5" cy="47.9" r=".9" fill="#a8000c"/><circle cx="301.7" cy="61.2" r=".9" fill="#fde6c6"/><circle cx="317.7" cy="59.2" r=".9" fill="#fbae5e"/><circle cx="332.3" cy="42.9" r=".9" fill="#fbae5e"/><circle cx="274.5" cy="64.2" r=".9" fill="#f85e3c"/><circle cx="309.9" cy="92.0" r=".9" fill="#fde6c6"/><circle cx="258.2" cy="56.4" r=".9" fill="#e3100e"/><circle cx="252.2" cy="48.8" r=".9" fill="#e3100e"/><circle cx="255.2" cy="48.2" r=".9" fill="#a8000c"/><circle cx="318.7" cy="55.8" r=".9" fill="#fbae5e"/><circle cx="291.8" cy="96.9" r=".9" fill="#e3100e"/><circle cx="316.6" cy="52.8" r=".9" fill="#e3100e"/><circle cx="235.8" cy="60.2" r=".9" fill="#a8000c"/><circle cx="239.9" cy="59.1" r=".9" fill="#e3100e"/><circle cx="266.4" cy="59.6" r=".9" fill="#a8000c"/><circle cx="279.2" cy="31.6" r=".9" fill="#e3100e"/><circle cx="236.4" cy="40.5" r=".9" fill="#a8000c"/><circle cx="286.6" cy="36.3" r=".9" fill="#f85e3c"/><circle cx="327.4" cy="40.9" r=".9" fill="#fde6c6"/><circle cx="322.4" cy="52.2" r=".9" fill="#fbae5e"/><circle cx="268.7" cy="63.4" r=".9" fill="#fbae5e"/><circle cx="297.1" cy="102.1" r=".9" fill="#e3100e"/><circle cx="305.3" cy="48.1" r=".9" fill="#f85e3c"/><circle cx="310.5" cy="54.3" r=".9" fill="#e3100e"/><circle cx="273.3" cy="63.5" r=".9" fill="#e3100e"/><circle cx="259.7" cy="49.3" r=".9" fill="#a8000c"/><circle cx="272.7" cy="67.7" r=".9" fill="#fbae5e"/><circle cx="327.0" cy="33.5" r=".9" fill="#fbae5e"/><circle cx="247.1" cy="27.5" r=".9" fill="#a8000c"/><circle cx="254.9" cy="53.3" r=".9" fill="#a8000c"/><circle cx="310.7" cy="63.5" r=".9" fill="#fde6c6"/><circle cx="284.0" cy="37.5" r=".9" fill="#e3100e"/><circle cx="234.0" cy="42.0" r=".9" fill="#e3100e"/><circle cx="282.7" cy="94.7" r=".9" fill="#f85e3c"/><circle cx="250.0" cy="53.7" r=".9" fill="#a8000c"/><circle cx="272.2" cy="63.9" r=".9" fill="#e3100e"/><circle cx="255.1" cy="51.6" r=".9" fill="#a8000c"/><circle cx="312.9" cy="56.7" r=".9" fill="#f85e3c"/><circle cx="301.4" cy="49.8" r=".9" fill="#e3100e"/><circle cx="311.7" cy="30.5" r=".9" fill="#fde6c6"/><circle cx="320.3" cy="39.0" r=".9" fill="#fde6c6"/><circle cx="310.9" cy="51.5" r=".9" fill="#fde6c6"/><circle cx="260.7" cy="56.5" r=".9" fill="#e3100e"/><circle cx="286.2" cy="65.8" r=".9" fill="#e3100e"/><circle cx="250.6" cy="37.5" r=".9" fill="#e3100e"/><circle cx="280.2" cy="95.4" r=".9" fill="#f85e3c"/><circle cx="297.0" cy="40.7" r=".9" fill="#f85e3c"/><circle cx="242.2" cy="61.4" r=".9" fill="#a8000c"/><circle cx="283.9" cy="30.3" r=".9" fill="#e3100e"/><circle cx="306.2" cy="34.7" r=".9" fill="#f85e3c"/><circle cx="313.3" cy="25.2" r=".9" fill="#e3100e"/><circle cx="249.2" cy="31.1" r=".9" fill="#a8000c"/><circle cx="215.8" cy="43.5" r=".9" fill="#a8000c"/></g>
<line x1="28.90" y1="17.20" x2="28.90" y2="118.40" stroke="#111" stroke-width="1.35"/>
<line x1="28.30" y1="117.80" x2="166.30" y2="117.80" stroke="#111" stroke-width="1.35"/>
<line x1="25.70" y1="24.30" x2="28.90" y2="24.30" stroke="#111" stroke-width="0.9"/>
<text x="23.5" y="27.0" font-size="7.6" fill="#333" text-anchor="end">5</text>
<line x1="25.70" y1="55.10" x2="28.90" y2="55.10" stroke="#111" stroke-width="0.9"/>
<text x="23.5" y="57.8" font-size="7.6" fill="#333" text-anchor="end">0</text>
<line x1="25.70" y1="85.90" x2="28.90" y2="85.90" stroke="#111" stroke-width="0.9"/>
<text x="23.5" y="88.6" font-size="7.6" fill="#333" text-anchor="end">−5</text>
<line x1="25.70" y1="117.40" x2="28.90" y2="117.40" stroke="#111" stroke-width="0.9"/>
<text x="23.5" y="120.1" font-size="7.6" fill="#333" text-anchor="end">−10</text>
<line x1="31.90" y1="117.80" x2="31.90" y2="120.40" stroke="#111" stroke-width="1.0"/>
<text x="30.0" y="128.6" font-size="8.0" fill="#333" text-anchor="middle">−7.5</text>
<line x1="57.10" y1="117.80" x2="57.10" y2="120.40" stroke="#111" stroke-width="1.0"/>
<text x="55.2" y="128.6" font-size="8.0" fill="#333" text-anchor="middle">−5.0</text>
<line x1="82.30" y1="117.80" x2="82.30" y2="120.40" stroke="#111" stroke-width="1.0"/>
<text x="80.4" y="128.6" font-size="8.0" fill="#333" text-anchor="middle">−2.5</text>
<line x1="107.50" y1="117.80" x2="107.50" y2="120.40" stroke="#111" stroke-width="1.0"/>
<text x="107.5" y="128.6" font-size="8.0" fill="#333" text-anchor="middle">0.0</text>
<line x1="132.70" y1="117.80" x2="132.70" y2="120.40" stroke="#111" stroke-width="1.0"/>
<text x="132.7" y="128.6" font-size="8.0" fill="#333" text-anchor="middle">2.5</text>
<line x1="157.90" y1="117.80" x2="157.90" y2="120.40" stroke="#111" stroke-width="1.0"/>
<text x="157.9" y="128.6" font-size="8.0" fill="#333" text-anchor="middle">5.0</text>
<text x="98.0" y="138.2" font-size="7.6" fill="#333" text-anchor="middle">UMAP_1</text>
<text x="0" y="0" font-size="7.6" fill="#333" text-anchor="middle" transform="translate(13.3,67.3) rotate(-90)">UMAP_2</text>
<line x1="203.50" y1="17.20" x2="203.50" y2="118.40" stroke="#111" stroke-width="1.35"/>
<line x1="202.90" y1="117.80" x2="340.90" y2="117.80" stroke="#111" stroke-width="1.35"/>
<line x1="200.30" y1="24.30" x2="203.50" y2="24.30" stroke="#111" stroke-width="0.9"/>
<text x="198.1" y="27.0" font-size="7.6" fill="#333" text-anchor="end">5</text>
<line x1="200.30" y1="55.10" x2="203.50" y2="55.10" stroke="#111" stroke-width="0.9"/>
<text x="198.1" y="57.8" font-size="7.6" fill="#333" text-anchor="end">0</text>
<line x1="200.30" y1="85.90" x2="203.50" y2="85.90" stroke="#111" stroke-width="0.9"/>
<text x="198.1" y="88.6" font-size="7.6" fill="#333" text-anchor="end">−5</text>
<line x1="200.30" y1="117.40" x2="203.50" y2="117.40" stroke="#111" stroke-width="0.9"/>
<text x="198.1" y="120.1" font-size="7.6" fill="#333" text-anchor="end">−10</text>
<line x1="206.50" y1="117.80" x2="206.50" y2="120.40" stroke="#111" stroke-width="1.0"/>
<text x="204.6" y="128.6" font-size="8.0" fill="#333" text-anchor="middle">−7.5</text>
<line x1="231.70" y1="117.80" x2="231.70" y2="120.40" stroke="#111" stroke-width="1.0"/>
<text x="229.8" y="128.6" font-size="8.0" fill="#333" text-anchor="middle">−5.0</text>
<line x1="256.90" y1="117.80" x2="256.90" y2="120.40" stroke="#111" stroke-width="1.0"/>
<text x="255.0" y="128.6" font-size="8.0" fill="#333" text-anchor="middle">−2.5</text>
<line x1="282.10" y1="117.80" x2="282.10" y2="120.40" stroke="#111" stroke-width="1.0"/>
<text x="282.1" y="128.6" font-size="8.0" fill="#333" text-anchor="middle">0.0</text>
<line x1="307.30" y1="117.80" x2="307.30" y2="120.40" stroke="#111" stroke-width="1.0"/>
<text x="307.3" y="128.6" font-size="8.0" fill="#333" text-anchor="middle">2.5</text>
<line x1="332.50" y1="117.80" x2="332.50" y2="120.40" stroke="#111" stroke-width="1.0"/>
<text x="332.5" y="128.6" font-size="8.0" fill="#333" text-anchor="middle">5.0</text>
<text x="272.6" y="138.2" font-size="7.6" fill="#333" text-anchor="middle">UMAP_1</text>
<text x="0" y="0" font-size="7.6" fill="#333" text-anchor="middle" transform="translate(187.1,67.3) rotate(-90)">UMAP_2</text>
<text x="153.8" y="57.0" font-size="7.4" fill="#333">Cluster</text>
<circle cx="164.6" cy="60.5" r="1.5" fill="#ff2d66"/>
<text x="166.6" y="63.0" font-size="7.2" fill="#333">1</text>
<circle cx="164.6" cy="67.7" r="1.5" fill="#5cd600"/>
<text x="166.6" y="70.2" font-size="7.2" fill="#333">2</text>
<circle cx="164.6" cy="74.4" r="1.5" fill="#38f0b8"/>
<text x="166.6" y="76.9" font-size="7.2" fill="#333">3</text>
<circle cx="164.6" cy="81.8" r="1.5" fill="#9b6cff"/>
<text x="166.6" y="84.3" font-size="7.2" fill="#333">4</text>
<circle cx="342.6" cy="51.6" r="1.5" fill="#fde6c6"/>
<text x="345.6" y="54.1" font-size="7.2" fill="#333">2N</text>
<circle cx="342.6" cy="58.9" r="1.5" fill="#fbae5e"/>
<text x="345.6" y="61.4" font-size="7.2" fill="#333">4N</text>
<circle cx="342.6" cy="65.9" r="1.5" fill="#f85e3c"/>
<text x="345.6" y="68.4" font-size="7.2" fill="#333">8N</text>
<circle cx="342.6" cy="72.9" r="1.5" fill="#e3100e"/>
<text x="345.6" y="75.4" font-size="7.2" fill="#333">16N</text>
<circle cx="342.6" cy="79.9" r="1.5" fill="#a8000c"/>
<text x="345.6" y="82.4" font-size="7.2" fill="#333">32N</text>
<line x1="398.50" y1="24.60" x2="398.50" y2="96.80" stroke="#111" stroke-width="1.2"/>
<line x1="397.90" y1="96.20" x2="493.00" y2="96.20" stroke="#111" stroke-width="1.3"/>
<line x1="395.50" y1="96.20" x2="398.50" y2="96.20" stroke="#111" stroke-width="0.9"/>
<text x="394.3" y="98.1" font-size="8.0" fill="#333" text-anchor="end">0</text>
<line x1="395.50" y1="78.62" x2="398.50" y2="78.62" stroke="#111" stroke-width="0.9"/>
<text x="394.3" y="80.5" font-size="8.0" fill="#333" text-anchor="end">50</text>
<line x1="395.50" y1="61.05" x2="398.50" y2="61.05" stroke="#111" stroke-width="0.9"/>
<text x="394.3" y="63.0" font-size="8.0" fill="#333" text-anchor="end">100</text>
<line x1="395.50" y1="43.48" x2="398.50" y2="43.48" stroke="#111" stroke-width="0.9"/>
<text x="394.3" y="45.4" font-size="8.0" fill="#333" text-anchor="end">150</text>
<line x1="395.50" y1="25.90" x2="398.50" y2="25.90" stroke="#111" stroke-width="0.9"/>
<text x="394.3" y="27.8" font-size="8.0" fill="#333" text-anchor="end">200</text>
<text x="0" y="0" font-size="7.4" fill="#333" text-anchor="middle" transform="translate(376.8,58.3) rotate(-90)">Cell number</text>
<rect x="401.40" y="82.98" width="12.00" height="13.22" fill="#d2001a"/>
<rect x="401.40" y="78.41" width="12.00" height="4.57" fill="#3ff000"/>
<rect x="401.40" y="45.76" width="12.00" height="32.65" fill="#0b42c0"/>
<line x1="401.40" y1="82.98" x2="413.40" y2="82.98" stroke="#000" stroke-width="0.9"/>
<line x1="401.40" y1="78.41" x2="413.40" y2="78.41" stroke="#000" stroke-width="0.9"/>
<rect x="401.40" y="45.76" width="12.0" height="50.44" fill="none" stroke="#000" stroke-width="1.3"/>
<line x1="409.70" y1="96.20" x2="409.70" y2="99.40" stroke="#111" stroke-width="0.9"/>
<text x="409.4" y="106.6" font-size="7.8" fill="#222" text-anchor="middle">2N</text>
<rect x="419.50" y="51.31" width="12.00" height="44.89" fill="#d2001a"/>
<rect x="419.50" y="42.17" width="12.00" height="9.14" fill="#3ff000"/>
<rect x="419.50" y="37.68" width="12.00" height="4.50" fill="#0b42c0"/>
<line x1="419.50" y1="51.31" x2="431.50" y2="51.31" stroke="#000" stroke-width="0.9"/>
<line x1="419.50" y1="42.17" x2="431.50" y2="42.17" stroke="#000" stroke-width="0.9"/>
<rect x="419.50" y="37.68" width="12.0" height="58.52" fill="none" stroke="#000" stroke-width="1.3"/>
<line x1="427.80" y1="96.20" x2="427.80" y2="99.40" stroke="#111" stroke-width="0.9"/>
<text x="427.5" y="106.6" font-size="7.8" fill="#222" text-anchor="middle">4N</text>
<rect x="437.80" y="55.07" width="12.00" height="41.13" fill="#d2001a"/>
<rect x="437.80" y="46.99" width="12.00" height="8.08" fill="#3ff000"/>
<rect x="437.80" y="36.45" width="12.00" height="10.55" fill="#0b42c0"/>
<rect x="437.80" y="33.98" width="12.00" height="2.46" fill="#1c0ea0"/>
<line x1="437.80" y1="55.07" x2="449.80" y2="55.07" stroke="#000" stroke-width="0.9"/>
<line x1="437.80" y1="46.99" x2="449.80" y2="46.99" stroke="#000" stroke-width="0.9"/>
<line x1="437.80" y1="36.45" x2="449.80" y2="36.45" stroke="#000" stroke-width="0.9"/>
<rect x="437.80" y="33.98" width="12.0" height="62.22" fill="none" stroke="#000" stroke-width="1.3"/>
<line x1="446.10" y1="96.20" x2="446.10" y2="99.40" stroke="#111" stroke-width="0.9"/>
<text x="445.8" y="106.6" font-size="7.8" fill="#222" text-anchor="middle">8N</text>
<rect x="456.00" y="86.81" width="12.00" height="9.39" fill="#d2001a"/>
<rect x="456.00" y="47.62" width="12.00" height="39.19" fill="#3ff000"/>
<rect x="456.00" y="40.84" width="12.00" height="6.78" fill="#1c0ea0"/>
<line x1="456.00" y1="86.81" x2="468.00" y2="86.81" stroke="#000" stroke-width="0.9"/>
<line x1="456.00" y1="47.62" x2="468.00" y2="47.62" stroke="#000" stroke-width="0.9"/>
<rect x="456.00" y="40.84" width="12.0" height="55.36" fill="none" stroke="#000" stroke-width="1.3"/>
<line x1="464.30" y1="96.20" x2="464.30" y2="99.40" stroke="#111" stroke-width="0.9"/>
<text x="464.0" y="106.6" font-size="7.8" fill="#222" text-anchor="middle">16N</text>
<rect x="474.40" y="89.80" width="12.00" height="6.40" fill="#d2001a"/>
<rect x="474.40" y="50.43" width="12.00" height="39.37" fill="#3ff000"/>
<rect x="474.40" y="44.00" width="12.00" height="6.43" fill="#1c0ea0"/>
<line x1="474.40" y1="89.80" x2="486.40" y2="89.80" stroke="#000" stroke-width="0.9"/>
<line x1="474.40" y1="50.43" x2="486.40" y2="50.43" stroke="#000" stroke-width="0.9"/>
<rect x="474.40" y="44.00" width="12.0" height="52.20" fill="none" stroke="#000" stroke-width="1.3"/>
<line x1="482.70" y1="96.20" x2="482.70" y2="99.40" stroke="#111" stroke-width="0.9"/>
<text x="482.4" y="106.6" font-size="7.8" fill="#222" text-anchor="middle">32N</text>
<text x="493.1" y="46.3" font-size="7.4" fill="#333">Cluster</text>
<rect x="496.90" y="49.00" width="5.80" height="5.60" fill="#d2001a"/>
<text x="504.6" y="54.5" font-size="7.4" fill="#333">1</text>
<rect x="496.90" y="56.40" width="5.80" height="5.60" fill="#3ff000"/>
<text x="504.6" y="61.9" font-size="7.4" fill="#333">2</text>
<rect x="496.90" y="64.00" width="5.80" height="5.60" fill="#0b42c0"/>
<text x="504.6" y="69.5" font-size="7.4" fill="#333">3</text>
<rect x="496.90" y="71.80" width="5.80" height="5.60" fill="#1c0ea0"/>
<text x="504.6" y="77.3" font-size="7.4" fill="#333">4</text>
<g shape-rendering="crispEdges"><rect x="31.0" y="223.2" width="1.05" height="12.2" fill="#05030a"/><rect x="32.0" y="223.2" width="1.05" height="12.2" fill="#040208"/><rect x="33.0" y="223.2" width="1.05" height="12.2" fill="#494f00"/><rect x="34.0" y="223.2" width="1.05" height="12.2" fill="#1f113d"/><rect x="35.0" y="223.2" width="1.05" height="12.2" fill="#2e3100"/><rect x="36.0" y="223.2" width="1.05" height="12.2" fill="#1e103b"/><rect x="37.0" y="223.2" width="1.05" height="12.2" fill="#575d00"/><rect x="38.0" y="223.2" width="1.05" height="12.2" fill="#3a3e00"/><rect x="39.0" y="223.2" width="1.05" height="12.2" fill="#5e6500"/><rect x="40.0" y="223.2" width="1.05" height="12.2" fill="#202200"/><rect x="41.0" y="223.2" width="1.05" height="12.2" fill="#414500"/><rect x="42.0" y="223.2" width="1.05" height="12.2" fill="#282b00"/><rect x="43.0" y="223.2" width="1.05" height="12.2" fill="#151700"/><rect x="44.0" y="223.2" width="1.05" height="12.2" fill="#383c00"/><rect x="45.0" y="223.2" width="1.05" height="12.2" fill="#08040f"/><rect x="46.0" y="223.2" width="1.05" height="12.2" fill="#262800"/><rect x="47.0" y="223.2" width="1.05" height="12.2" fill="#4a5000"/><rect x="48.0" y="223.2" width="1.05" height="12.2" fill="#353900"/><rect x="49.0" y="223.2" width="1.05" height="12.2" fill="#232600"/><rect x="50.0" y="223.2" width="1.05" height="12.2" fill="#767e00"/><rect x="51.0" y="223.2" width="1.05" height="12.2" fill="#353900"/><rect x="52.0" y="223.2" width="1.05" height="12.2" fill="#1c1e00"/><rect x="53.0" y="223.2" width="1.05" height="12.2" fill="#393d00"/><rect x="54.0" y="223.2" width="1.05" height="12.2" fill="#1f2100"/><rect x="55.0" y="223.2" width="1.05" height="12.2" fill="#242700"/><rect x="56.0" y="223.2" width="1.05" height="12.2" fill="#262800"/><rect x="57.0" y="223.2" width="1.05" height="12.2" fill="#717900"/><rect x="58.0" y="223.2" width="1.05" height="12.2" fill="#343700"/><rect x="59.0" y="223.2" width="1.05" height="12.2" fill="#393d00"/><rect x="60.0" y="223.2" width="1.05" height="12.2" fill="#4a4f00"/><rect x="61.0" y="223.2" width="1.05" height="12.2" fill="#717900"/><rect x="62.0" y="223.2" width="1.05" height="12.2" fill="#2b2e00"/><rect x="63.0" y="223.2" width="1.05" height="12.2" fill="#1a1c00"/><rect x="64.0" y="223.2" width="1.05" height="12.2" fill="#7d8600"/><rect x="65.0" y="223.2" width="1.05" height="12.2" fill="#0d071a"/><rect x="66.0" y="223.2" width="1.05" height="12.2" fill="#252800"/><rect x="67.0" y="223.2" width="1.05" height="12.2" fill="#494f00"/><rect x="68.0" y="223.2" width="1.05" height="12.2" fill="#788100"/><rect x="69.0" y="223.2" width="1.05" height="12.2" fill="#0a0a00"/><rect x="70.0" y="223.2" width="1.05" height="12.2" fill="#211242"/><rect x="71.0" y="223.2" width="1.05" height="12.2" fill="#494e00"/><rect x="72.0" y="223.2" width="1.05" height="12.2" fill="#1f2100"/><rect x="73.0" y="223.2" width="1.05" height="12.2" fill="#242700"/><rect x="74.0" y="223.2" width="1.05" height="12.2" fill="#434700"/><rect x="75.0" y="223.2" width="1.05" height="12.2" fill="#3b3f00"/><rect x="76.0" y="223.2" width="1.05" height="12.2" fill="#3d4100"/><rect x="77.0" y="223.2" width="1.05" height="12.2" fill="#232500"/><rect x="78.0" y="223.2" width="1.05" height="12.2" fill="#5c6300"/><rect x="79.0" y="223.2" width="1.05" height="12.2" fill="#636a00"/><rect x="80.0" y="223.2" width="1.05" height="12.2" fill="#343800"/><rect x="81.0" y="223.2" width="1.05" height="12.2" fill="#222400"/><rect x="82.0" y="223.2" width="1.05" height="12.2" fill="#4b5100"/><rect x="83.0" y="223.2" width="1.05" height="12.2" fill="#434800"/><rect x="84.0" y="223.2" width="1.05" height="12.2" fill="#030300"/><rect x="85.0" y="223.2" width="1.05" height="12.2" fill="#212400"/><rect x="86.0" y="223.2" width="1.05" height="12.2" fill="#555b00"/><rect x="87.0" y="223.2" width="1.05" height="12.2" fill="#2f3300"/><rect x="88.0" y="223.2" width="1.05" height="12.2" fill="#272900"/><rect x="89.0" y="223.2" width="0.15" height="12.2" fill="#3a3f00"/><rect x="31.0" y="223.2" width="58.1" height="1.00" fill="#484e00" fill-opacity="0.17"/><rect x="31.0" y="224.2" width="58.1" height="1.00" fill="#484e00" fill-opacity="0.00"/><rect x="31.0" y="225.2" width="58.1" height="1.00" fill="#484e00" fill-opacity="0.08"/><rect x="31.0" y="226.2" width="58.1" height="1.00" fill="#000" fill-opacity="0.00"/><rect x="31.0" y="227.2" width="58.1" height="1.00" fill="#484e00" fill-opacity="0.04"/><rect x="31.0" y="228.2" width="58.1" height="1.00" fill="#484e00" fill-opacity="0.04"/><rect x="31.0" y="229.2" width="58.1" height="1.00" fill="#484e00" fill-opacity="0.21"/><rect x="31.0" y="230.2" width="58.1" height="1.00" fill="#000" fill-opacity="0.15"/><rect x="31.0" y="231.2" width="58.1" height="1.00" fill="#484e00" fill-opacity="0.12"/><rect x="31.0" y="232.2" width="58.1" height="1.00" fill="#484e00" fill-opacity="0.02"/><rect x="31.0" y="233.2" width="58.1" height="1.00" fill="#484e00" fill-opacity="0.18"/><rect x="31.0" y="234.2" width="58.1" height="1.00" fill="#484e00" fill-opacity="0.01"/><rect x="31.0" y="235.2" width="58.1" height="0.20" fill="#000" fill-opacity="0.04"/><rect x="89.6" y="223.2" width="1.05" height="12.2" fill="#05030a"/><rect x="90.6" y="223.2" width="1.05" height="12.2" fill="#160c2b"/><rect x="91.6" y="223.2" width="1.05" height="12.2" fill="#140b27"/><rect x="92.6" y="223.2" width="1.05" height="12.2" fill="#120a23"/><rect x="93.6" y="223.2" width="1.05" height="12.2" fill="#242600"/><rect x="94.6" y="223.2" width="1.05" height="12.2" fill="#0e081c"/><rect x="95.6" y="223.2" width="1.05" height="12.2" fill="#08040f"/><rect x="96.6" y="223.2" width="1.05" height="12.2" fill="#080410"/><rect x="97.6" y="223.2" width="1.05" height="12.2" fill="#0a0b00"/><rect x="98.6" y="223.2" width="1.05" height="12.2" fill="#090900"/><rect x="99.6" y="223.2" width="1.05" height="12.2" fill="#010100"/><rect x="100.6" y="223.2" width="1.05" height="12.2" fill="#120a24"/><rect x="101.6" y="223.2" width="1.05" height="12.2" fill="#211241"/><rect x="102.6" y="223.2" width="1.05" height="12.2" fill="#020104"/><rect x="103.6" y="223.2" width="1.05" height="12.2" fill="#010100"/><rect x="104.6" y="223.2" width="1.05" height="12.2" fill="#181a00"/><rect x="105.6" y="223.2" width="1.05" height="12.2" fill="#06030c"/><rect x="106.6" y="223.2" width="1.05" height="12.2" fill="#0c0617"/><rect x="107.6" y="223.2" width="1.05" height="12.2" fill="#060700"/><rect x="108.6" y="223.2" width="1.05" height="12.2" fill="#150b29"/><rect x="109.6" y="223.2" width="1.05" height="12.2" fill="#100920"/><rect x="110.6" y="223.2" width="1.05" height="12.2" fill="#10091f"/><rect x="111.6" y="223.2" width="1.05" height="12.2" fill="#020200"/><rect x="112.6" y="223.2" width="1.05" height="12.2" fill="#272900"/><rect x="113.6" y="223.2" width="1.05" height="12.2" fill="#0f1000"/><rect x="114.6" y="223.2" width="1.05" height="12.2" fill="#161800"/><rect x="115.6" y="223.2" width="1.05" height="12.2" fill="#000001"/><rect x="116.6" y="223.2" width="1.05" height="12.2" fill="#3d2178"/><rect x="117.6" y="223.2" width="1.05" height="12.2" fill="#422381"/><rect x="118.6" y="223.2" width="1.05" height="12.2" fill="#41237f"/><rect x="119.6" y="223.2" width="1.05" height="12.2" fill="#4d2997"/><rect x="120.6" y="223.2" width="1.05" height="12.2" fill="#462689"/><rect x="121.6" y="223.2" width="1.05" height="12.2" fill="#46268a"/><rect x="122.6" y="223.2" width="1.05" height="12.2" fill="#3a1f71"/><rect x="123.6" y="223.2" width="1.05" height="12.2" fill="#3b2074"/><rect x="124.6" y="223.2" width="1.05" height="12.2" fill="#381e6e"/><rect x="125.6" y="223.2" width="1.05" height="12.2" fill="#1e2000"/><rect x="126.6" y="223.2" width="1.05" height="12.2" fill="#090511"/><rect x="127.6" y="223.2" width="1.05" height="12.2" fill="#151600"/><rect x="128.6" y="223.2" width="1.05" height="12.2" fill="#242700"/><rect x="129.6" y="223.2" width="1.05" height="12.2" fill="#050309"/><rect x="130.6" y="223.2" width="1.05" height="12.2" fill="#151700"/><rect x="131.6" y="223.2" width="1.05" height="12.2" fill="#07040e"/><rect x="132.6" y="223.2" width="1.05" height="12.2" fill="#150b2a"/><rect x="133.6" y="223.2" width="1.05" height="12.2" fill="#030206"/><rect x="134.6" y="223.2" width="1.05" height="12.2" fill="#0e081c"/><rect x="135.6" y="223.2" width="0.25" height="12.2" fill="#030206"/><rect x="89.6" y="223.2" width="46.2" height="1.00" fill="#000" fill-opacity="0.18"/><rect x="89.6" y="224.2" width="46.2" height="1.00" fill="#07040d" fill-opacity="0.08"/><rect x="89.6" y="225.2" width="46.2" height="1.00" fill="#07040d" fill-opacity="0.22"/><rect x="89.6" y="226.2" width="46.2" height="1.00" fill="#000" fill-opacity="0.22"/><rect x="89.6" y="227.2" width="46.2" height="1.00" fill="#000" fill-opacity="0.04"/><rect x="89.6" y="228.2" width="46.2" height="1.00" fill="#07040d" fill-opacity="0.18"/><rect x="89.6" y="229.2" width="46.2" height="1.00" fill="#07040d" fill-opacity="0.08"/><rect x="89.6" y="230.2" width="46.2" height="1.00" fill="#07040d" fill-opacity="0.17"/><rect x="89.6" y="231.2" width="46.2" height="1.00" fill="#07040d" fill-opacity="0.15"/><rect x="89.6" y="232.2" width="46.2" height="1.00" fill="#07040d" fill-opacity="0.08"/><rect x="89.6" y="233.2" width="46.2" height="1.00" fill="#000" fill-opacity="0.13"/><rect x="89.6" y="234.2" width="46.2" height="1.00" fill="#07040d" fill-opacity="0.17"/><rect x="89.6" y="235.2" width="46.2" height="0.20" fill="#07040d" fill-opacity="0.07"/><rect x="136.2" y="223.2" width="1.05" height="12.2" fill="#5e33b8"/><rect x="137.2" y="223.2" width="1.05" height="12.2" fill="#6235c1"/><rect x="138.2" y="223.2" width="1.05" height="12.2" fill="#3d2178"/><rect x="139.2" y="223.2" width="1.05" height="12.2" fill="#502b9e"/><rect x="140.2" y="223.2" width="1.05" height="12.2" fill="#522ca1"/><rect x="141.2" y="223.2" width="1.05" height="12.2" fill="#391f6f"/><rect x="142.2" y="223.2" width="1.05" height="12.2" fill="#6d3bd6"/><rect x="143.2" y="223.2" width="1.05" height="12.2" fill="#4b2893"/><rect x="144.2" y="223.2" width="1.05" height="12.2" fill="#6235c1"/><rect x="145.2" y="223.2" width="1.05" height="12.2" fill="#6838cb"/><rect x="146.2" y="223.2" width="1.05" height="12.2" fill="#5f33ba"/><rect x="147.2" y="223.2" width="1.05" height="12.2" fill="#3e227a"/><rect x="148.2" y="223.2" width="1.05" height="12.2" fill="#542da5"/><rect x="149.2" y="223.2" width="1.05" height="12.2" fill="#6e3bd8"/><rect x="150.2" y="223.2" width="1.05" height="12.2" fill="#6335c3"/><rect x="151.2" y="223.2" width="1.05" height="12.2" fill="#381e6d"/><rect x="152.2" y="223.2" width="1.05" height="12.2" fill="#41237f"/><rect x="153.2" y="223.2" width="1.05" height="12.2" fill="#6335c2"/><rect x="154.2" y="223.2" width="1.05" height="12.2" fill="#26144a"/><rect x="155.2" y="223.2" width="1.05" height="12.2" fill="#582fac"/><rect x="156.2" y="223.2" width="1.05" height="12.2" fill="#6536c5"/><rect x="157.2" y="223.2" width="1.05" height="12.2" fill="#542da5"/><rect x="158.2" y="223.2" width="1.05" height="12.2" fill="#422482"/><rect x="159.2" y="223.2" width="1.05" height="12.2" fill="#361d6a"/><rect x="160.2" y="223.2" width="0.35" height="12.2" fill="#40237f"/><rect x="136.2" y="223.2" width="24.3" height="1.00" fill="#753fe5" fill-opacity="0.16"/><rect x="136.2" y="224.2" width="24.3" height="1.00" fill="#000" fill-opacity="0.33"/><rect x="136.2" y="225.2" width="24.3" height="1.00" fill="#753fe5" fill-opacity="0.18"/><rect x="136.2" y="226.2" width="24.3" height="1.00" fill="#000" fill-opacity="0.30"/><rect x="136.2" y="227.2" width="24.3" height="1.00" fill="#753fe5" fill-opacity="0.14"/><rect x="136.2" y="228.2" width="24.3" height="1.00" fill="#753fe5" fill-opacity="0.14"/><rect x="136.2" y="229.2" width="24.3" height="1.00" fill="#000" fill-opacity="0.01"/><rect x="136.2" y="230.2" width="24.3" height="1.00" fill="#753fe5" fill-opacity="0.10"/><rect x="136.2" y="231.2" width="24.3" height="1.00" fill="#753fe5" fill-opacity="0.05"/><rect x="136.2" y="232.2" width="24.3" height="1.00" fill="#000" fill-opacity="0.28"/><rect x="136.2" y="233.2" width="24.3" height="1.00" fill="#000" fill-opacity="0.21"/><rect x="136.2" y="234.2" width="24.3" height="1.00" fill="#000" fill-opacity="0.02"/><rect x="136.2" y="235.2" width="24.3" height="0.20" fill="#000" fill-opacity="0.14"/><rect x="161.0" y="223.2" width="1.05" height="12.2" fill="#6134be"/><rect x="162.0" y="223.2" width="1.05" height="12.2" fill="#5c32b5"/><rect x="163.0" y="223.2" width="1.05" height="12.2" fill="#5b31b2"/><rect x="164.0" y="223.2" width="1.05" height="12.2" fill="#6537c7"/><rect x="165.0" y="223.2" width="1.05" height="12.2" fill="#5b31b3"/><rect x="166.0" y="223.2" width="0.85" height="12.2" fill="#6637c8"/><rect x="161.0" y="223.2" width="5.8" height="1.00" fill="#8246ff" fill-opacity="0.05"/><rect x="161.0" y="224.2" width="5.8" height="1.00" fill="#000" fill-opacity="0.00"/><rect x="161.0" y="225.2" width="5.8" height="1.00" fill="#000" fill-opacity="0.13"/><rect x="161.0" y="226.2" width="5.8" height="1.00" fill="#8246ff" fill-opacity="0.03"/><rect x="161.0" y="227.2" width="5.8" height="1.00" fill="#000" fill-opacity="0.17"/><rect x="161.0" y="228.2" width="5.8" height="1.00" fill="#000" fill-opacity="0.28"/><rect x="161.0" y="229.2" width="5.8" height="1.00" fill="#000" fill-opacity="0.25"/><rect x="161.0" y="230.2" width="5.8" height="1.00" fill="#8246ff" fill-opacity="0.13"/><rect x="161.0" y="231.2" width="5.8" height="1.00" fill="#000" fill-opacity="0.37"/><rect x="161.0" y="232.2" width="5.8" height="1.00" fill="#8246ff" fill-opacity="0.18"/><rect x="161.0" y="233.2" width="5.8" height="1.00" fill="#000" fill-opacity="0.17"/><rect x="161.0" y="234.2" width="5.8" height="1.00" fill="#8246ff" fill-opacity="0.13"/><rect x="161.0" y="235.2" width="5.8" height="0.20" fill="#8246ff" fill-opacity="0.22"/><rect x="31.0" y="235.4" width="1.05" height="26.2" fill="#231344"/><rect x="32.0" y="235.4" width="1.05" height="26.2" fill="#211241"/><rect x="33.0" y="235.4" width="1.05" height="26.2" fill="#1f113e"/><rect x="34.0" y="235.4" width="1.05" height="26.2" fill="#170d2e"/><rect x="35.0" y="235.4" width="1.05" height="26.2" fill="#180d2f"/><rect x="36.0" y="235.4" width="1.05" height="26.2" fill="#08040f"/><rect x="37.0" y="235.4" width="1.05" height="26.2" fill="#0b0616"/><rect x="38.0" y="235.4" width="1.05" height="26.2" fill="#1d1039"/><rect x="39.0" y="235.4" width="1.05" height="26.2" fill="#1d0f38"/><rect x="40.0" y="235.4" width="1.05" height="26.2" fill="#2a1652"/><rect x="41.0" y="235.4" width="1.05" height="26.2" fill="#2b1754"/><rect x="42.0" y="235.4" width="1.05" height="26.2" fill="#221242"/><rect x="43.0" y="235.4" width="1.05" height="26.2" fill="#0d0719"/><rect x="44.0" y="235.4" width="1.05" height="26.2" fill="#160c2b"/><rect x="45.0" y="235.4" width="1.05" height="26.2" fill="#0b0616"/><rect x="46.0" y="235.4" width="1.05" height="26.2" fill="#090511"/><rect x="47.0" y="235.4" width="1.05" height="26.2" fill="#1a0e33"/><rect x="48.0" y="235.4" width="1.05" height="26.2" fill="#202200"/><rect x="49.0" y="235.4" width="1.05" height="26.2" fill="#1f113c"/><rect x="50.0" y="235.4" width="1.05" height="26.2" fill="#20113f"/><rect x="51.0" y="235.4" width="1.05" height="26.2" fill="#1e103a"/><rect x="52.0" y="235.4" width="1.05" height="26.2" fill="#040209"/><rect x="53.0" y="235.4" width="1.05" height="26.2" fill="#1a0e32"/><rect x="54.0" y="235.4" width="1.05" height="26.2" fill="#221242"/><rect x="55.0" y="235.4" width="1.05" height="26.2" fill="#110922"/><rect x="56.0" y="235.4" width="1.05" height="26.2" fill="#050209"/><rect x="57.0" y="235.4" width="1.05" height="26.2" fill="#190e32"/><rect x="58.0" y="235.4" width="1.05" height="26.2" fill="#1b0f35"/><rect x="59.0" y="235.4" width="1.05" height="26.2" fill="#06030b"/><rect x="60.0" y="235.4" width="1.05" height="26.2" fill="#08040f"/><rect x="61.0" y="235.4" width="1.05" height="26.2" fill="#090511"/><rect x="62.0" y="235.4" width="1.05" height="26.2" fill="#221242"/><rect x="63.0" y="235.4" width="1.05" height="26.2" fill="#140b27"/><rect x="64.0" y="235.4" width="1.05" height="26.2" fill="#130a24"/><rect x="65.0" y="235.4" width="1.05" height="26.2" fill="#2e195a"/><rect x="66.0" y="235.4" width="1.05" height="26.2" fill="#030105"/><rect x="67.0" y="235.4" width="1.05" height="26.2" fill="#160c2c"/><rect x="68.0" y="235.4" width="1.05" height="26.2" fill="#1c0f38"/><rect x="69.0" y="235.4" width="1.05" height="26.2" fill="#242700"/><rect x="70.0" y="235.4" width="1.05" height="26.2" fill="#160c2b"/><rect x="71.0" y="235.4" width="1.05" height="26.2" fill="#211241"/><rect x="72.0" y="235.4" width="1.05" height="26.2" fill="#190d30"/><rect x="73.0" y="235.4" width="1.05" height="26.2" fill="#0f081e"/><rect x="74.0" y="235.4" width="1.05" height="26.2" fill="#0b0616"/><rect x="75.0" y="235.4" width="1.05" height="26.2" fill="#190d30"/><rect x="76.0" y="235.4" width="1.05" height="26.2" fill="#231345"/><rect x="77.0" y="235.4" width="1.05" height="26.2" fill="#211241"/><rect x="78.0" y="235.4" width="1.05" height="26.2" fill="#231344"/><rect x="79.0" y="235.4" width="1.05" height="26.2" fill="#251449"/><rect x="80.0" y="235.4" width="1.05" height="26.2" fill="#180d2f"/><rect x="81.0" y="235.4" width="1.05" height="26.2" fill="#1e103c"/><rect x="82.0" y="235.4" width="1.05" height="26.2" fill="#170c2d"/><rect x="83.0" y="235.4" width="1.05" height="26.2" fill="#231344"/><rect x="84.0" y="235.4" width="1.05" height="26.2" fill="#231345"/><rect x="85.0" y="235.4" width="1.05" height="26.2" fill="#1a0e34"/><rect x="86.0" y="235.4" width="1.05" height="26.2" fill="#1d0f38"/><rect x="87.0" y="235.4" width="1.05" height="26.2" fill="#040208"/><rect x="88.0" y="235.4" width="1.05" height="26.2" fill="#241346"/><rect x="89.0" y="235.4" width="0.15" height="26.2" fill="#150b29"/><rect x="31.0" y="235.4" width="58.1" height="1.00" fill="#221242" fill-opacity="0.17"/><rect x="31.0" y="236.4" width="58.1" height="1.00" fill="#000" fill-opacity="0.02"/><rect x="31.0" y="237.4" width="58.1" height="1.00" fill="#221242" fill-opacity="0.10"/><rect x="31.0" y="238.4" width="58.1" height="1.00" fill="#221242" fill-opacity="0.20"/><rect x="31.0" y="239.4" width="58.1" height="1.00" fill="#221242" fill-opacity="0.00"/><rect x="31.0" y="240.4" width="58.1" height="1.00" fill="#221242" fill-opacity="0.10"/><rect x="31.0" y="241.4" width="58.1" height="1.00" fill="#221242" fill-opacity="0.16"/><rect x="31.0" y="242.4" width="58.1" height="1.00" fill="#221242" fill-opacity="0.11"/><rect x="31.0" y="243.4" width="58.1" height="1.00" fill="#000" fill-opacity="0.17"/><rect x="31.0" y="244.4" width="58.1" height="1.00" fill="#000" fill-opacity="0.38"/><rect x="31.0" y="245.4" width="58.1" height="1.00" fill="#221242" fill-opacity="0.07"/><rect x="31.0" y="246.4" width="58.1" height="1.00" fill="#221242" fill-opacity="0.01"/><rect x="31.0" y="247.4" width="58.1" height="1.00" fill="#000" fill-opacity="0.31"/><rect x="31.0" y="248.4" width="58.1" height="1.00" fill="#221242" fill-opacity="0.06"/><rect x="31.0" y="249.4" width="58.1" height="1.00" fill="#000" fill-opacity="0.41"/><rect x="31.0" y="250.4" width="58.1" height="1.00" fill="#221242" fill-opacity="0.11"/><rect x="31.0" y="251.4" width="58.1" height="1.00" fill="#000" fill-opacity="0.22"/><rect x="31.0" y="252.4" width="58.1" height="1.00" fill="#221242" fill-opacity="0.03"/><rect x="31.0" y="253.4" width="58.1" height="1.00" fill="#000" fill-opacity="0.37"/><rect x="31.0" y="254.4" width="58.1" height="1.00" fill="#221242" fill-opacity="0.05"/><rect x="31.0" y="255.4" width="58.1" height="1.00" fill="#221242" fill-opacity="0.18"/><rect x="31.0" y="256.4" width="58.1" height="1.00" fill="#221242" fill-opacity="0.01"/><rect x="31.0" y="257.4" width="58.1" height="1.00" fill="#221242" fill-opacity="0.22"/><rect x="31.0" y="258.4" width="58.1" height="1.00" fill="#000" fill-opacity="0.32"/><rect x="31.0" y="259.4" width="58.1" height="1.00" fill="#000" fill-opacity="0.38"/><rect x="31.0" y="260.4" width="58.1" height="1.00" fill="#221242" fill-opacity="0.15"/><rect x="31.0" y="261.4" width="58.1" height="0.20" fill="#000" fill-opacity="0.32"/><rect x="89.6" y="235.4" width="1.05" height="26.2" fill="#414600"/><rect x="90.6" y="235.4" width="1.05" height="26.2" fill="#8f9900"/><rect x="91.6" y="235.4" width="1.05" height="26.2" fill="#6b7300"/><rect x="92.6" y="235.4" width="1.05" height="26.2" fill="#737c00"/><rect x="93.6" y="235.4" width="1.05" height="26.2" fill="#444900"/><rect x="94.6" y="235.4" width="1.05" height="26.2" fill="#5d6300"/><rect x="95.6" y="235.4" width="1.05" height="26.2" fill="#4d5300"/><rect x="96.6" y="235.4" width="1.05" height="26.2" fill="#4d5300"/><rect x="97.6" y="235.4" width="1.05" height="26.2" fill="#6a7100"/><rect x="98.6" y="235.4" width="1.05" height="26.2" fill="#666d00"/><rect x="99.6" y="235.4" width="1.05" height="26.2" fill="#5d6400"/><rect x="100.6" y="235.4" width="1.05" height="26.2" fill="#585e00"/><rect x="101.6" y="235.4" width="1.05" height="26.2" fill="#212300"/><rect x="102.6" y="235.4" width="1.05" height="26.2" fill="#3c4000"/><rect x="103.6" y="235.4" width="1.05" height="26.2" fill="#5f6600"/><rect x="104.6" y="235.4" width="1.05" height="26.2" fill="#484d00"/><rect x="105.6" y="235.4" width="1.05" height="26.2" fill="#3a3e00"/><rect x="106.6" y="235.4" width="1.05" height="26.2" fill="#5e6500"/><rect x="107.6" y="235.4" width="1.05" height="26.2" fill="#353900"/><rect x="108.6" y="235.4" width="1.05" height="26.2" fill="#3e4200"/><rect x="109.6" y="235.4" width="1.05" height="26.2" fill="#6e7500"/><rect x="110.6" y="235.4" width="1.05" height="26.2" fill="#484d00"/><rect x="111.6" y="235.4" width="1.05" height="26.2" fill="#7d8600"/><rect x="112.6" y="235.4" width="1.05" height="26.2" fill="#636a00"/><rect x="113.6" y="235.4" width="1.05" height="26.2" fill="#6c7300"/><rect x="114.6" y="235.4" width="1.05" height="26.2" fill="#757d00"/><rect x="115.6" y="235.4" width="1.05" height="26.2" fill="#06030b"/><rect x="116.6" y="235.4" width="1.05" height="26.2" fill="#515700"/><rect x="117.6" y="235.4" width="1.05" height="26.2" fill="#c2d000"/><rect x="118.6" y="235.4" width="1.05" height="26.2" fill="#d5e400"/><rect x="119.6" y="235.4" width="1.05" height="26.2" fill="#dded00"/><rect x="120.6" y="235.4" width="1.05" height="26.2" fill="#eeff00"/><rect x="121.6" y="235.4" width="1.05" height="26.2" fill="#dfef00"/><rect x="122.6" y="235.4" width="1.05" height="26.2" fill="#eeff00"/><rect x="123.6" y="235.4" width="1.05" height="26.2" fill="#d4e300"/><rect x="124.6" y="235.4" width="1.05" height="26.2" fill="#525800"/><rect x="125.6" y="235.4" width="1.05" height="26.2" fill="#565d00"/><rect x="126.6" y="235.4" width="1.05" height="26.2" fill="#6f7700"/><rect x="127.6" y="235.4" width="1.05" height="26.2" fill="#525800"/><rect x="128.6" y="235.4" width="1.05" height="26.2" fill="#404400"/><rect x="129.6" y="235.4" width="1.05" height="26.2" fill="#494f00"/><rect x="130.6" y="235.4" width="1.05" height="26.2" fill="#232500"/><rect x="131.6" y="235.4" width="1.05" height="26.2" fill="#788100"/><rect x="132.6" y="235.4" width="1.05" height="26.2" fill="#6a7100"/><rect x="133.6" y="235.4" width="1.05" height="26.2" fill="#606700"/><rect x="134.6" y="235.4" width="1.05" height="26.2" fill="#5c6300"/><rect x="135.6" y="235.4" width="0.25" height="26.2" fill="#404500"/><rect x="89.6" y="235.4" width="46.2" height="1.00" fill="#000" fill-opacity="0.18"/><rect x="89.6" y="236.4" width="46.2" height="1.00" fill="#777f00" fill-opacity="0.03"/><rect x="89.6" y="237.4" width="46.2" height="1.00" fill="#777f00" fill-opacity="0.00"/><rect x="89.6" y="238.4" width="46.2" height="1.00" fill="#000" fill-opacity="0.01"/><rect x="89.6" y="239.4" width="46.2" height="1.00" fill="#777f00" fill-opacity="0.10"/><rect x="89.6" y="240.4" width="46.2" height="1.00" fill="#000" fill-opacity="0.04"/><rect x="89.6" y="241.4" width="46.2" height="1.00" fill="#777f00" fill-opacity="0.10"/><rect x="89.6" y="242.4" width="46.2" height="1.00" fill="#000" fill-opacity="0.16"/><rect x="89.6" y="243.4" width="46.2" height="1.00" fill="#000" fill-opacity="0.12"/><rect x="89.6" y="244.4" width="46.2" height="1.00" fill="#000" fill-opacity="0.05"/><rect x="89.6" y="245.4" width="46.2" height="1.00" fill="#000" fill-opacity="0.12"/><rect x="89.6" y="246.4" width="46.2" height="1.00" fill="#000" fill-opacity="0.08"/><rect x="89.6" y="247.4" width="46.2" height="1.00" fill="#777f00" fill-opacity="0.08"/><rect x="89.6" y="248.4" width="46.2" height="1.00" fill="#000" fill-opacity="0.16"/><rect x="89.6" y="249.4" width="46.2" height="1.00" fill="#777f00" fill-opacity="0.09"/><rect x="89.6" y="250.4" width="46.2" height="1.00" fill="#777f00" fill-opacity="0.06"/><rect x="89.6" y="251.4" width="46.2" height="1.00" fill="#000" fill-opacity="0.15"/><rect x="89.6" y="252.4" width="46.2" height="1.00" fill="#000" fill-opacity="0.02"/><rect x="89.6" y="253.4" width="46.2" height="1.00" fill="#000" fill-opacity="0.04"/><rect x="89.6" y="254.4" width="46.2" height="1.00" fill="#000" fill-opacity="0.18"/><rect x="89.6" y="255.4" width="46.2" height="1.00" fill="#000" fill-opacity="0.15"/><rect x="89.6" y="256.4" width="46.2" height="1.00" fill="#777f00" fill-opacity="0.05"/><rect x="89.6" y="257.4" width="46.2" height="1.00" fill="#000" fill-opacity="0.12"/><rect x="89.6" y="258.4" width="46.2" height="1.00" fill="#000" fill-opacity="0.09"/><rect x="89.6" y="259.4" width="46.2" height="1.00" fill="#000" fill-opacity="0.03"/><rect x="89.6" y="260.4" width="46.2" height="1.00" fill="#000" fill-opacity="0.07"/><rect x="89.6" y="261.4" width="46.2" height="0.20" fill="#000" fill-opacity="0.18"/><rect x="136.2" y="235.4" width="1.05" height="26.2" fill="#391e6f"/><rect x="137.2" y="235.4" width="1.05" height="26.2" fill="#321b63"/><rect x="138.2" y="235.4" width="1.05" height="26.2" fill="#241447"/><rect x="139.2" y="235.4" width="1.05" height="26.2" fill="#2b1754"/><rect x="140.2" y="235.4" width="1.05" height="26.2" fill="#26154b"/><rect x="141.2" y="235.4" width="1.05" height="26.2" fill="#301a5f"/><rect x="142.2" y="235.4" width="1.05" height="26.2" fill="#1e103b"/><rect x="143.2" y="235.4" width="1.05" height="26.2" fill="#05030a"/><rect x="144.2" y="235.4" width="1.05" height="26.2" fill="#2b1753"/><rect x="145.2" y="235.4" width="1.05" height="26.2" fill="#4a2891"/><rect x="146.2" y="235.4" width="1.05" height="26.2" fill="#120a24"/><rect x="147.2" y="235.4" width="1.05" height="26.2" fill="#3b2074"/><rect x="148.2" y="235.4" width="1.05" height="26.2" fill="#47268b"/><rect x="149.2" y="235.4" width="1.05" height="26.2" fill="#552ea6"/><rect x="150.2" y="235.4" width="1.05" height="26.2" fill="#2b1754"/><rect x="151.2" y="235.4" width="1.05" height="26.2" fill="#1f113d"/><rect x="152.2" y="235.4" width="1.05" height="26.2" fill="#211240"/><rect x="153.2" y="235.4" width="1.05" height="26.2" fill="#381e6e"/><rect x="154.2" y="235.4" width="1.05" height="26.2" fill="#180d2f"/><rect x="155.2" y="235.4" width="1.05" height="26.2" fill="#331c65"/><rect x="156.2" y="235.4" width="1.05" height="26.2" fill="#3b2074"/><rect x="157.2" y="235.4" width="1.05" height="26.2" fill="#311a60"/><rect x="158.2" y="235.4" width="1.05" height="26.2" fill="#2f195b"/><rect x="159.2" y="235.4" width="1.05" height="26.2" fill="#311b61"/><rect x="160.2" y="235.4" width="0.35" height="26.2" fill="#2b1755"/><rect x="136.2" y="235.4" width="24.3" height="1.00" fill="#47268c" fill-opacity="0.09"/><rect x="136.2" y="236.4" width="24.3" height="1.00" fill="#000" fill-opacity="0.16"/><rect x="136.2" y="237.4" width="24.3" height="1.00" fill="#000" fill-opacity="0.21"/><rect x="136.2" y="238.4" width="24.3" height="1.00" fill="#47268c" fill-opacity="0.16"/><rect x="136.2" y="239.4" width="24.3" height="1.00" fill="#000" fill-opacity="0.07"/><rect x="136.2" y="240.4" width="24.3" height="1.00" fill="#47268c" fill-opacity="0.15"/><rect x="136.2" y="241.4" width="24.3" height="1.00" fill="#000" fill-opacity="0.29"/><rect x="136.2" y="242.4" width="24.3" height="1.00" fill="#000" fill-opacity="0.44"/><rect x="136.2" y="243.4" width="24.3" height="1.00" fill="#47268c" fill-opacity="0.01"/><rect x="136.2" y="244.4" width="24.3" height="1.00" fill="#000" fill-opacity="0.18"/><rect x="136.2" y="245.4" width="24.3" height="1.00" fill="#47268c" fill-opacity="0.12"/><rect x="136.2" y="246.4" width="24.3" height="1.00" fill="#000" fill-opacity="0.23"/><rect x="136.2" y="247.4" width="24.3" height="1.00" fill="#000" fill-opacity="0.04"/><rect x="136.2" y="248.4" width="24.3" height="1.00" fill="#000" fill-opacity="0.40"/><rect x="136.2" y="249.4" width="24.3" height="1.00" fill="#000" fill-opacity="0.42"/><rect x="136.2" y="250.4" width="24.3" height="1.00" fill="#000" fill-opacity="0.11"/><rect x="136.2" y="251.4" width="24.3" height="1.00" fill="#000" fill-opacity="0.18"/><rect x="136.2" y="252.4" width="24.3" height="1.00" fill="#000" fill-opacity="0.11"/><rect x="136.2" y="253.4" width="24.3" height="1.00" fill="#000" fill-opacity="0.14"/><rect x="136.2" y="254.4" width="24.3" height="1.00" fill="#47268c" fill-opacity="0.01"/><rect x="136.2" y="255.4" width="24.3" height="1.00" fill="#47268c" fill-opacity="0.04"/><rect x="136.2" y="256.4" width="24.3" height="1.00" fill="#47268c" fill-opacity="0.09"/><rect x="136.2" y="257.4" width="24.3" height="1.00" fill="#000" fill-opacity="0.04"/><rect x="136.2" y="258.4" width="24.3" height="1.00" fill="#47268c" fill-opacity="0.02"/><rect x="136.2" y="259.4" width="24.3" height="1.00" fill="#47268c" fill-opacity="0.21"/><rect x="136.2" y="260.4" width="24.3" height="1.00" fill="#000" fill-opacity="0.39"/><rect x="136.2" y="261.4" width="24.3" height="0.20" fill="#47268c" fill-opacity="0.00"/><rect x="161.0" y="235.4" width="1.05" height="26.2" fill="#130a25"/><rect x="162.0" y="235.4" width="1.05" height="26.2" fill="#07040d"/><rect x="163.0" y="235.4" width="1.05" height="26.2" fill="#110920"/><rect x="164.0" y="235.4" width="1.05" height="26.2" fill="#0a0b00"/><rect x="165.0" y="235.4" width="1.05" height="26.2" fill="#0b0616"/><rect x="166.0" y="235.4" width="0.85" height="26.2" fill="#190d31"/><rect x="161.0" y="235.4" width="5.8" height="1.00" fill="#000" fill-opacity="0.14"/><rect x="161.0" y="236.4" width="5.8" height="1.00" fill="#000" fill-opacity="0.37"/><rect x="161.0" y="237.4" width="5.8" height="1.00" fill="#000" fill-opacity="0.05"/><rect x="161.0" y="238.4" width="5.8" height="1.00" fill="#0b0616" fill-opacity="0.02"/><rect x="161.0" y="239.4" width="5.8" height="1.00" fill="#000" fill-opacity="0.37"/><rect x="161.0" y="240.4" width="5.8" height="1.00" fill="#000" fill-opacity="0.06"/><rect x="161.0" y="241.4" width="5.8" height="1.00" fill="#000" fill-opacity="0.11"/><rect x="161.0" y="242.4" width="5.8" height="1.00" fill="#0b0616" fill-opacity="0.10"/><rect x="161.0" y="243.4" width="5.8" height="1.00" fill="#000" fill-opacity="0.11"/><rect x="161.0" y="244.4" width="5.8" height="1.00" fill="#000" fill-opacity="0.32"/><rect x="161.0" y="245.4" width="5.8" height="1.00" fill="#000" fill-opacity="0.09"/><rect x="161.0" y="246.4" width="5.8" height="1.00" fill="#000" fill-opacity="0.17"/><rect x="161.0" y="247.4" width="5.8" height="1.00" fill="#000" fill-opacity="0.19"/><rect x="161.0" y="248.4" width="5.8" height="1.00" fill="#0b0616" fill-opacity="0.17"/><rect x="161.0" y="249.4" width="5.8" height="1.00" fill="#0b0616" fill-opacity="0.20"/><rect x="161.0" y="250.4" width="5.8" height="1.00" fill="#0b0616" fill-opacity="0.17"/><rect x="161.0" y="251.4" width="5.8" height="1.00" fill="#0b0616" fill-opacity="0.10"/><rect x="161.0" y="252.4" width="5.8" height="1.00" fill="#0b0616" fill-opacity="0.15"/><rect x="161.0" y="253.4" width="5.8" height="1.00" fill="#0b0616" fill-opacity="0.16"/><rect x="161.0" y="254.4" width="5.8" height="1.00" fill="#0b0616" fill-opacity="0.06"/><rect x="161.0" y="255.4" width="5.8" height="1.00" fill="#000" fill-opacity="0.17"/><rect x="161.0" y="256.4" width="5.8" height="1.00" fill="#000" fill-opacity="0.03"/><rect x="161.0" y="257.4" width="5.8" height="1.00" fill="#0b0616" fill-opacity="0.06"/><rect x="161.0" y="258.4" width="5.8" height="1.00" fill="#000" fill-opacity="0.13"/><rect x="161.0" y="259.4" width="5.8" height="1.00" fill="#0b0616" fill-opacity="0.17"/><rect x="161.0" y="260.4" width="5.8" height="1.00" fill="#000" fill-opacity="0.01"/><rect x="161.0" y="261.4" width="5.8" height="0.20" fill="#000" fill-opacity="0.06"/><rect x="31.0" y="261.6" width="1.05" height="5.8" fill="#1a1c00"/><rect x="32.0" y="261.6" width="1.05" height="5.8" fill="#20113e"/><rect x="33.0" y="261.6" width="1.05" height="5.8" fill="#120a24"/><rect x="34.0" y="261.6" width="1.05" height="5.8" fill="#110922"/><rect x="35.0" y="261.6" width="1.05" height="5.8" fill="#160c2a"/><rect x="36.0" y="261.6" width="1.05" height="5.8" fill="#06030b"/><rect x="37.0" y="261.6" width="1.05" height="5.8" fill="#0d0719"/><rect x="38.0" y="261.6" width="1.05" height="5.8" fill="#0a0513"/><rect x="39.0" y="261.6" width="1.05" height="5.8" fill="#1d1039"/><rect x="40.0" y="261.6" width="1.05" height="5.8" fill="#170c2c"/><rect x="41.0" y="261.6" width="1.05" height="5.8" fill="#0c0718"/><rect x="42.0" y="261.6" width="1.05" height="5.8" fill="#110921"/><rect x="43.0" y="261.6" width="1.05" height="5.8" fill="#130a25"/><rect x="44.0" y="261.6" width="1.05" height="5.8" fill="#0d071a"/><rect x="45.0" y="261.6" width="1.05" height="5.8" fill="#0f081e"/><rect x="46.0" y="261.6" width="1.05" height="5.8" fill="#180d2e"/><rect x="47.0" y="261.6" width="1.05" height="5.8" fill="#1c1e00"/><rect x="48.0" y="261.6" width="1.05" height="5.8" fill="#140b26"/><rect x="49.0" y="261.6" width="1.05" height="5.8" fill="#010102"/><rect x="50.0" y="261.6" width="1.05" height="5.8" fill="#020104"/><rect x="51.0" y="261.6" width="1.05" height="5.8" fill="#0b0c00"/><rect x="52.0" y="261.6" width="1.05" height="5.8" fill="#120a24"/><rect x="53.0" y="261.6" width="1.05" height="5.8" fill="#170c2d"/><rect x="54.0" y="261.6" width="1.05" height="5.8" fill="#05030a"/><rect x="55.0" y="261.6" width="1.05" height="5.8" fill="#080410"/><rect x="56.0" y="261.6" width="1.05" height="5.8" fill="#241346"/><rect x="57.0" y="261.6" width="1.05" height="5.8" fill="#26154b"/><rect x="58.0" y="261.6" width="1.05" height="5.8" fill="#120a24"/><rect x="59.0" y="261.6" width="1.05" height="5.8" fill="#100920"/><rect x="60.0" y="261.6" width="1.05" height="5.8" fill="#0f081d"/><rect x="61.0" y="261.6" width="1.05" height="5.8" fill="#06030b"/><rect x="62.0" y="261.6" width="1.05" height="5.8" fill="#170c2d"/><rect x="63.0" y="261.6" width="1.05" height="5.8" fill="#303300"/><rect x="64.0" y="261.6" width="1.05" height="5.8" fill="#090a00"/><rect x="65.0" y="261.6" width="1.05" height="5.8" fill="#141600"/><rect x="66.0" y="261.6" width="1.05" height="5.8" fill="#08040f"/><rect x="67.0" y="261.6" width="1.05" height="5.8" fill="#211241"/><rect x="68.0" y="261.6" width="1.05" height="5.8" fill="#080511"/><rect x="69.0" y="261.6" width="1.05" height="5.8" fill="#120a24"/><rect x="70.0" y="261.6" width="1.05" height="5.8" fill="#05030a"/><rect x="71.0" y="261.6" width="1.05" height="5.8" fill="#0d071a"/><rect x="72.0" y="261.6" width="1.05" height="5.8" fill="#000001"/><rect x="73.0" y="261.6" width="1.05" height="5.8" fill="#160c2b"/><rect x="74.0" y="261.6" width="1.05" height="5.8" fill="#100920"/><rect x="75.0" y="261.6" width="1.05" height="5.8" fill="#0c0617"/><rect x="76.0" y="261.6" width="1.05" height="5.8" fill="#140b28"/><rect x="77.0" y="261.6" width="1.05" height="5.8" fill="#110922"/><rect x="78.0" y="261.6" width="1.05" height="5.8" fill="#020104"/><rect x="79.0" y="261.6" width="1.05" height="5.8" fill="#222400"/><rect x="80.0" y="261.6" width="1.05" height="5.8" fill="#0e081c"/><rect x="81.0" y="261.6" width="1.05" height="5.8" fill="#070700"/><rect x="82.0" y="261.6" width="1.05" height="5.8" fill="#180d30"/><rect x="83.0" y="261.6" width="1.05" height="5.8" fill="#110922"/><rect x="84.0" y="261.6" width="1.05" height="5.8" fill="#07040e"/><rect x="85.0" y="261.6" width="1.05" height="5.8" fill="#030105"/><rect x="86.0" y="261.6" width="1.05" height="5.8" fill="#170d2e"/><rect x="87.0" y="261.6" width="1.05" height="5.8" fill="#020104"/><rect x="88.0" y="261.6" width="1.05" height="5.8" fill="#0a0513"/><rect x="89.0" y="261.6" width="0.15" height="5.8" fill="#141600"/><rect x="31.0" y="261.6" width="58.1" height="1.00" fill="#000" fill-opacity="0.41"/><rect x="31.0" y="262.6" width="58.1" height="1.00" fill="#000" fill-opacity="0.36"/><rect x="31.0" y="263.6" width="58.1" height="1.00" fill="#110920" fill-opacity="0.15"/><rect x="31.0" y="264.6" width="58.1" height="1.00" fill="#110920" fill-opacity="0.14"/><rect x="31.0" y="265.6" width="58.1" height="1.00" fill="#000" fill-opacity="0.17"/><rect x="31.0" y="266.6" width="58.1" height="0.80" fill="#110920" fill-opacity="0.12"/><rect x="89.6" y="261.6" width="1.05" height="5.8" fill="#131500"/><rect x="90.6" y="261.6" width="1.05" height="5.8" fill="#040400"/><rect x="91.6" y="261.6" width="1.05" height="5.8" fill="#131400"/><rect x="92.6" y="261.6" width="1.05" height="5.8" fill="#080510"/><rect x="93.6" y="261.6" width="1.05" height="5.8" fill="#030206"/><rect x="94.6" y="261.6" width="1.05" height="5.8" fill="#0c0718"/><rect x="95.6" y="261.6" width="1.05" height="5.8" fill="#131400"/><rect x="96.6" y="261.6" width="1.05" height="5.8" fill="#190e32"/><rect x="97.6" y="261.6" width="1.05" height="5.8" fill="#030206"/><rect x="98.6" y="261.6" width="1.05" height="5.8" fill="#201140"/><rect x="99.6" y="261.6" width="1.05" height="5.8" fill="#242700"/><rect x="100.6" y="261.6" width="1.05" height="5.8" fill="#131400"/><rect x="101.6" y="261.6" width="1.05" height="5.8" fill="#1f103c"/><rect x="102.6" y="261.6" width="1.05" height="5.8" fill="#0e081c"/><rect x="103.6" y="261.6" width="1.05" height="5.8" fill="#180d2f"/><rect x="104.6" y="261.6" width="1.05" height="5.8" fill="#1b0f35"/><rect x="105.6" y="261.6" width="1.05" height="5.8" fill="#0d0719"/><rect x="106.6" y="261.6" width="1.05" height="5.8" fill="#120a24"/><rect x="107.6" y="261.6" width="1.05" height="5.8" fill="#161700"/><rect x="108.6" y="261.6" width="1.05" height="5.8" fill="#0e081b"/><rect x="109.6" y="261.6" width="1.05" height="5.8" fill="#150b28"/><rect x="110.6" y="261.6" width="1.05" height="5.8" fill="#080410"/><rect x="111.6" y="261.6" width="1.05" height="5.8" fill="#030400"/><rect x="112.6" y="261.6" width="1.05" height="5.8" fill="#101100"/><rect x="113.6" y="261.6" width="1.05" height="5.8" fill="#070800"/><rect x="114.6" y="261.6" width="1.05" height="5.8" fill="#190d30"/><rect x="115.6" y="261.6" width="1.05" height="5.8" fill="#120922"/><rect x="116.6" y="261.6" width="1.05" height="5.8" fill="#0a0513"/><rect x="117.6" y="261.6" width="1.05" height="5.8" fill="#636a00"/><rect x="118.6" y="261.6" width="1.05" height="5.8" fill="#788100"/><rect x="119.6" y="261.6" width="1.05" height="5.8" fill="#6a7100"/><rect x="120.6" y="261.6" width="1.05" height="5.8" fill="#6d7500"/><rect x="121.6" y="261.6" width="1.05" height="5.8" fill="#697100"/><rect x="122.6" y="261.6" width="1.05" height="5.8" fill="#6f7700"/><rect x="123.6" y="261.6" width="1.05" height="5.8" fill="#190d30"/><rect x="124.6" y="261.6" width="1.05" height="5.8" fill="#2b2e00"/><rect x="125.6" y="261.6" width="1.05" height="5.8" fill="#0f081d"/><rect x="126.6" y="261.6" width="1.05" height="5.8" fill="#100920"/><rect x="127.6" y="261.6" width="1.05" height="5.8" fill="#1b0f36"/><rect x="128.6" y="261.6" width="1.05" height="5.8" fill="#080510"/><rect x="129.6" y="261.6" width="1.05" height="5.8" fill="#180d2e"/><rect x="130.6" y="261.6" width="1.05" height="5.8" fill="#010102"/><rect x="131.6" y="261.6" width="1.05" height="5.8" fill="#191b00"/><rect x="132.6" y="261.6" width="1.05" height="5.8" fill="#0a0b00"/><rect x="133.6" y="261.6" width="1.05" height="5.8" fill="#0d071a"/><rect x="134.6" y="261.6" width="1.05" height="5.8" fill="#1b1d00"/><rect x="135.6" y="261.6" width="0.25" height="5.8" fill="#0a0513"/><rect x="89.6" y="261.6" width="46.2" height="1.00" fill="#000" fill-opacity="0.18"/><rect x="89.6" y="262.6" width="46.2" height="1.00" fill="#000" fill-opacity="0.18"/><rect x="89.6" y="263.6" width="46.2" height="1.00" fill="#0a0513" fill-opacity="0.15"/><rect x="89.6" y="264.6" width="46.2" height="1.00" fill="#0a0513" fill-opacity="0.20"/><rect x="89.6" y="265.6" width="46.2" height="1.00" fill="#000" fill-opacity="0.17"/><rect x="89.6" y="266.6" width="46.2" height="0.80" fill="#0a0513" fill-opacity="0.15"/><rect x="136.2" y="261.6" width="1.05" height="5.8" fill="#949f00"/><rect x="137.2" y="261.6" width="1.05" height="5.8" fill="#7e8700"/><rect x="138.2" y="261.6" width="1.05" height="5.8" fill="#a9b500"/><rect x="139.2" y="261.6" width="1.05" height="5.8" fill="#8d9700"/><rect x="140.2" y="261.6" width="1.05" height="5.8" fill="#929d00"/><rect x="141.2" y="261.6" width="1.05" height="5.8" fill="#afbc00"/><rect x="142.2" y="261.6" width="1.05" height="5.8" fill="#6b7300"/><rect x="143.2" y="261.6" width="1.05" height="5.8" fill="#6d7500"/><rect x="144.2" y="261.6" width="1.05" height="5.8" fill="#aeba00"/><rect x="145.2" y="261.6" width="1.05" height="5.8" fill="#bcca00"/><rect x="146.2" y="261.6" width="1.05" height="5.8" fill="#9ca700"/><rect x="147.2" y="261.6" width="1.05" height="5.8" fill="#858f00"/><rect x="148.2" y="261.6" width="1.05" height="5.8" fill="#bbc900"/><rect x="149.2" y="261.6" width="1.05" height="5.8" fill="#a8b400"/><rect x="150.2" y="261.6" width="1.05" height="5.8" fill="#b6c300"/><rect x="151.2" y="261.6" width="1.05" height="5.8" fill="#626a00"/><rect x="152.2" y="261.6" width="1.05" height="5.8" fill="#96a100"/><rect x="153.2" y="261.6" width="1.05" height="5.8" fill="#7b8400"/><rect x="154.2" y="261.6" width="1.05" height="5.8" fill="#798200"/><rect x="155.2" y="261.6" width="1.05" height="5.8" fill="#aab600"/><rect x="156.2" y="261.6" width="1.05" height="5.8" fill="#aeba00"/><rect x="157.2" y="261.6" width="1.05" height="5.8" fill="#8c9600"/><rect x="158.2" y="261.6" width="1.05" height="5.8" fill="#929d00"/><rect x="159.2" y="261.6" width="1.05" height="5.8" fill="#bfcd00"/><rect x="160.2" y="261.6" width="0.35" height="5.8" fill="#acb800"/><rect x="136.2" y="261.6" width="24.3" height="1.00" fill="#000" fill-opacity="0.01"/><rect x="136.2" y="262.6" width="24.3" height="1.00" fill="#dbeb00" fill-opacity="0.13"/><rect x="136.2" y="263.6" width="24.3" height="1.00" fill="#000" fill-opacity="0.08"/><rect x="136.2" y="264.6" width="24.3" height="1.00" fill="#dbeb00" fill-opacity="0.13"/><rect x="136.2" y="265.6" width="24.3" height="1.00" fill="#dbeb00" fill-opacity="0.16"/><rect x="136.2" y="266.6" width="24.3" height="0.80" fill="#000" fill-opacity="0.03"/><rect x="161.0" y="261.6" width="1.05" height="5.8" fill="#291651"/><rect x="162.0" y="261.6" width="1.05" height="5.8" fill="#0d071a"/><rect x="163.0" y="261.6" width="1.05" height="5.8" fill="#49278e"/><rect x="164.0" y="261.6" width="1.05" height="5.8" fill="#341c67"/><rect x="165.0" y="261.6" width="1.05" height="5.8" fill="#090a00"/><rect x="166.0" y="261.6" width="0.85" height="5.8" fill="#3d2178"/><rect x="161.0" y="261.6" width="5.8" height="1.00" fill="#371e6c" fill-opacity="0.05"/><rect x="161.0" y="262.6" width="5.8" height="1.00" fill="#000" fill-opacity="0.38"/><rect x="161.0" y="263.6" width="5.8" height="1.00" fill="#000" fill-opacity="0.05"/><rect x="161.0" y="264.6" width="5.8" height="1.00" fill="#000" fill-opacity="0.07"/><rect x="161.0" y="265.6" width="5.8" height="1.00" fill="#371e6c" fill-opacity="0.03"/><rect x="161.0" y="266.6" width="5.8" height="0.80" fill="#371e6c" fill-opacity="0.02"/><rect x="31.0" y="267.4" width="1.05" height="65.6" fill="#20113f"/><rect x="32.0" y="267.4" width="1.05" height="65.6" fill="#0e071b"/><rect x="33.0" y="267.4" width="1.05" height="65.6" fill="#201140"/><rect x="34.0" y="267.4" width="1.05" height="65.6" fill="#030206"/><rect x="35.0" y="267.4" width="1.05" height="65.6" fill="#1d1039"/><rect x="36.0" y="267.4" width="1.05" height="65.6" fill="#2b2e00"/><rect x="37.0" y="267.4" width="1.05" height="65.6" fill="#190e32"/><rect x="38.0" y="267.4" width="1.05" height="65.6" fill="#201140"/><rect x="39.0" y="267.4" width="1.05" height="65.6" fill="#201140"/><rect x="40.0" y="267.4" width="1.05" height="65.6" fill="#06030c"/><rect x="41.0" y="267.4" width="1.05" height="65.6" fill="#07040f"/><rect x="42.0" y="267.4" width="1.05" height="65.6" fill="#000000"/><rect x="43.0" y="267.4" width="1.05" height="65.6" fill="#08040f"/><rect x="44.0" y="267.4" width="1.05" height="65.6" fill="#150b2a"/><rect x="45.0" y="267.4" width="1.05" height="65.6" fill="#080800"/><rect x="46.0" y="267.4" width="1.05" height="65.6" fill="#140b28"/><rect x="47.0" y="267.4" width="1.05" height="65.6" fill="#1d1039"/><rect x="48.0" y="267.4" width="1.05" height="65.6" fill="#0b0c00"/><rect x="49.0" y="267.4" width="1.05" height="65.6" fill="#030206"/><rect x="50.0" y="267.4" width="1.05" height="65.6" fill="#231344"/><rect x="51.0" y="267.4" width="1.05" height="65.6" fill="#1c0f37"/><rect x="52.0" y="267.4" width="1.05" height="65.6" fill="#0d071a"/><rect x="53.0" y="267.4" width="1.05" height="65.6" fill="#0f081d"/><rect x="54.0" y="267.4" width="1.05" height="65.6" fill="#241347"/><rect x="55.0" y="267.4" width="1.05" height="65.6" fill="#0c0718"/><rect x="56.0" y="267.4" width="1.05" height="65.6" fill="#321b61"/><rect x="57.0" y="267.4" width="1.05" height="65.6" fill="#180d30"/><rect x="58.0" y="267.4" width="1.05" height="65.6" fill="#150b29"/><rect x="59.0" y="267.4" width="1.05" height="65.6" fill="#1b0e34"/><rect x="60.0" y="267.4" width="1.05" height="65.6" fill="#180d2f"/><rect x="61.0" y="267.4" width="1.05" height="65.6" fill="#291650"/><rect x="62.0" y="267.4" width="1.05" height="65.6" fill="#1b0e34"/><rect x="63.0" y="267.4" width="1.05" height="65.6" fill="#140b27"/><rect x="64.0" y="267.4" width="1.05" height="65.6" fill="#231344"/><rect x="65.0" y="267.4" width="1.05" height="65.6" fill="#180d2f"/><rect x="66.0" y="267.4" width="1.05" height="65.6" fill="#1b0f35"/><rect x="67.0" y="267.4" width="1.05" height="65.6" fill="#2f195b"/><rect x="68.0" y="267.4" width="1.05" height="65.6" fill="#20113e"/><rect x="69.0" y="267.4" width="1.05" height="65.6" fill="#130a25"/><rect x="70.0" y="267.4" width="1.05" height="65.6" fill="#28164f"/><rect x="71.0" y="267.4" width="1.05" height="65.6" fill="#190d31"/><rect x="72.0" y="267.4" width="1.05" height="65.6" fill="#160c2a"/><rect x="73.0" y="267.4" width="1.05" height="65.6" fill="#26144a"/><rect x="74.0" y="267.4" width="1.05" height="65.6" fill="#1c0f37"/><rect x="75.0" y="267.4" width="1.05" height="65.6" fill="#0f081e"/><rect x="76.0" y="267.4" width="1.05" height="65.6" fill="#110922"/><rect x="77.0" y="267.4" width="1.05" height="65.6" fill="#231345"/><rect x="78.0" y="267.4" width="1.05" height="65.6" fill="#0d071a"/><rect x="79.0" y="267.4" width="1.05" height="65.6" fill="#160c2a"/><rect x="80.0" y="267.4" width="1.05" height="65.6" fill="#180d2f"/><rect x="81.0" y="267.4" width="1.05" height="65.6" fill="#06030c"/><rect x="82.0" y="267.4" width="1.05" height="65.6" fill="#110921"/><rect x="83.0" y="267.4" width="1.05" height="65.6" fill="#150b2a"/><rect x="84.0" y="267.4" width="1.05" height="65.6" fill="#0d0e00"/><rect x="85.0" y="267.4" width="1.05" height="65.6" fill="#020200"/><rect x="86.0" y="267.4" width="1.05" height="65.6" fill="#151700"/><rect x="87.0" y="267.4" width="1.05" height="65.6" fill="#0d071a"/><rect x="88.0" y="267.4" width="1.05" height="65.6" fill="#20113e"/><rect x="89.0" y="267.4" width="0.15" height="65.6" fill="#1c1e00"/><rect x="31.0" y="267.4" width="58.1" height="1.00" fill="#000" fill-opacity="0.04"/><rect x="31.0" y="268.4" width="58.1" height="1.00" fill="#000" fill-opacity="0.36"/><rect x="31.0" y="269.4" width="58.1" height="1.00" fill="#000" fill-opacity="0.34"/><rect x="31.0" y="270.4" width="58.1" height="1.00" fill="#000" fill-opacity="0.01"/><rect x="31.0" y="271.4" width="58.1" height="1.00" fill="#000" fill-opacity="0.21"/><rect x="31.0" y="272.4" width="58.1" height="1.00" fill="#000" fill-opacity="0.23"/><rect x="31.0" y="273.4" width="58.1" height="1.00" fill="#110920" fill-opacity="0.05"/><rect x="31.0" y="274.4" width="58.1" height="1.00" fill="#000" fill-opacity="0.20"/><rect x="31.0" y="275.4" width="58.1" height="1.00" fill="#000" fill-opacity="0.04"/><rect x="31.0" y="276.4" width="58.1" height="1.00" fill="#110920" fill-opacity="0.21"/><rect x="31.0" y="277.4" width="58.1" height="1.00" fill="#000" fill-opacity="0.23"/><rect x="31.0" y="278.4" width="58.1" height="1.00" fill="#110920" fill-opacity="0.09"/><rect x="31.0" y="279.4" width="58.1" height="1.00" fill="#110920" fill-opacity="0.10"/><rect x="31.0" y="280.4" width="58.1" height="1.00" fill="#110920" fill-opacity="0.20"/><rect x="31.0" y="281.4" width="58.1" height="1.00" fill="#000" fill-opacity="0.29"/><rect x="31.0" y="282.4" width="58.1" height="1.00" fill="#110920" fill-opacity="0.01"/><rect x="31.0" y="283.4" width="58.1" height="1.00" fill="#110920" fill-opacity="0.09"/><rect x="31.0" y="284.4" width="58.1" height="1.00" fill="#110920" fill-opacity="0.19"/><rect x="31.0" y="285.4" width="58.1" height="1.00" fill="#110920" fill-opacity="0.09"/><rect x="31.0" y="286.4" width="58.1" height="1.00" fill="#110920" fill-opacity="0.17"/><rect x="31.0" y="287.4" width="58.1" height="1.00" fill="#110920" fill-opacity="0.03"/><rect x="31.0" y="288.4" width="58.1" height="1.00" fill="#110920" fill-opacity="0.09"/><rect x="31.0" y="289.4" width="58.1" height="1.00" fill="#000" fill-opacity="0.45"/><rect x="31.0" y="290.4" width="58.1" height="1.00" fill="#000" fill-opacity="0.19"/><rect x="31.0" y="291.4" width="58.1" height="1.00" fill="#000" fill-opacity="0.21"/><rect x="31.0" y="292.4" width="58.1" height="1.00" fill="#000" fill-opacity="0.30"/><rect x="31.0" y="293.4" width="58.1" height="1.00" fill="#000" fill-opacity="0.08"/><rect x="31.0" y="294.4" width="58.1" height="1.00" fill="#000" fill-opacity="0.03"/><rect x="31.0" y="295.4" width="58.1" height="1.00" fill="#110920" fill-opacity="0.20"/><rect x="31.0" y="296.4" width="58.1" height="1.00" fill="#000" fill-opacity="0.09"/><rect x="31.0" y="297.4" width="58.1" height="1.00" fill="#110920" fill-opacity="0.19"/><rect x="31.0" y="298.4" width="58.1" height="1.00" fill="#000" fill-opacity="0.27"/><rect x="31.0" y="299.4" width="58.1" height="1.00" fill="#110920" fill-opacity="0.05"/><rect x="31.0" y="300.4" width="58.1" height="1.00" fill="#000" fill-opacity="0.42"/><rect x="31.0" y="301.4" width="58.1" height="1.00" fill="#000" fill-opacity="0.08"/><rect x="31.0" y="302.4" width="58.1" height="1.00" fill="#110920" fill-opacity="0.06"/><rect x="31.0" y="303.4" width="58.1" height="1.00" fill="#110920" fill-opacity="0.08"/><rect x="31.0" y="304.4" width="58.1" height="1.00" fill="#110920" fill-opacity="0.03"/><rect x="31.0" y="305.4" width="58.1" height="1.00" fill="#110920" fill-opacity="0.22"/><rect x="31.0" y="306.4" width="58.1" height="1.00" fill="#000" fill-opacity="0.04"/><rect x="31.0" y="307.4" width="58.1" height="1.00" fill="#000" fill-opacity="0.29"/><rect x="31.0" y="308.4" width="58.1" height="1.00" fill="#000" fill-opacity="0.17"/><rect x="31.0" y="309.4" width="58.1" height="1.00" fill="#110920" fill-opacity="0.13"/><rect x="31.0" y="310.4" width="58.1" height="1.00" fill="#110920" fill-opacity="0.05"/><rect x="31.0" y="311.4" width="58.1" height="1.00" fill="#110920" fill-opacity="0.06"/><rect x="31.0" y="312.4" width="58.1" height="1.00" fill="#000" fill-opacity="0.33"/><rect x="31.0" y="313.4" width="58.1" height="1.00" fill="#110920" fill-opacity="0.11"/><rect x="31.0" y="314.4" width="58.1" height="1.00" fill="#110920" fill-opacity="0.00"/><rect x="31.0" y="315.4" width="58.1" height="1.00" fill="#110920" fill-opacity="0.09"/><rect x="31.0" y="316.4" width="58.1" height="1.00" fill="#110920" fill-opacity="0.14"/><rect x="31.0" y="317.4" width="58.1" height="1.00" fill="#110920" fill-opacity="0.01"/><rect x="31.0" y="318.4" width="58.1" height="1.00" fill="#000" fill-opacity="0.02"/><rect x="31.0" y="319.4" width="58.1" height="1.00" fill="#000" fill-opacity="0.16"/><rect x="31.0" y="320.4" width="58.1" height="1.00" fill="#000" fill-opacity="0.13"/><rect x="31.0" y="321.4" width="58.1" height="1.00" fill="#110920" fill-opacity="0.15"/><rect x="31.0" y="322.4" width="58.1" height="1.00" fill="#110920" fill-opacity="0.08"/><rect x="31.0" y="323.4" width="58.1" height="1.00" fill="#110920" fill-opacity="0.16"/><rect x="31.0" y="324.4" width="58.1" height="1.00" fill="#110920" fill-opacity="0.21"/><rect x="31.0" y="325.4" width="58.1" height="1.00" fill="#000" fill-opacity="0.14"/><rect x="31.0" y="326.4" width="58.1" height="1.00" fill="#000" fill-opacity="0.42"/><rect x="31.0" y="327.4" width="58.1" height="1.00" fill="#110920" fill-opacity="0.10"/><rect x="31.0" y="328.4" width="58.1" height="1.00" fill="#000" fill-opacity="0.24"/><rect x="31.0" y="329.4" width="58.1" height="1.00" fill="#000" fill-opacity="0.42"/><rect x="31.0" y="330.4" width="58.1" height="1.00" fill="#110920" fill-opacity="0.12"/><rect x="31.0" y="331.4" width="58.1" height="1.00" fill="#000" fill-opacity="0.06"/><rect x="31.0" y="332.4" width="58.1" height="0.60" fill="#110920" fill-opacity="0.11"/><rect x="89.6" y="267.4" width="1.05" height="65.6" fill="#343800"/><rect x="90.6" y="267.4" width="1.05" height="65.6" fill="#454a00"/><rect x="91.6" y="267.4" width="1.05" height="65.6" fill="#363a00"/><rect x="92.6" y="267.4" width="1.05" height="65.6" fill="#313400"/><rect x="93.6" y="267.4" width="1.05" height="65.6" fill="#252800"/><rect x="94.6" y="267.4" width="1.05" height="65.6" fill="#383c00"/><rect x="95.6" y="267.4" width="1.05" height="65.6" fill="#3f4300"/><rect x="96.6" y="267.4" width="1.05" height="65.6" fill="#292c00"/><rect x="97.6" y="267.4" width="1.05" height="65.6" fill="#262800"/><rect x="98.6" y="267.4" width="1.05" height="65.6" fill="#535900"/><rect x="99.6" y="267.4" width="1.05" height="65.6" fill="#2c2f00"/><rect x="100.6" y="267.4" width="1.05" height="65.6" fill="#181900"/><rect x="101.6" y="267.4" width="1.05" height="65.6" fill="#3d4100"/><rect x="102.6" y="267.4" width="1.05" height="65.6" fill="#070800"/><rect x="103.6" y="267.4" width="1.05" height="65.6" fill="#0e0e00"/><rect x="104.6" y="267.4" width="1.05" height="65.6" fill="#424700"/><rect x="105.6" y="267.4" width="1.05" height="65.6" fill="#191b00"/><rect x="106.6" y="267.4" width="1.05" height="65.6" fill="#2e3100"/><rect x="107.6" y="267.4" width="1.05" height="65.6" fill="#2d3000"/><rect x="108.6" y="267.4" width="1.05" height="65.6" fill="#050309"/><rect x="109.6" y="267.4" width="1.05" height="65.6" fill="#262900"/><rect x="110.6" y="267.4" width="1.05" height="65.6" fill="#0c0d00"/><rect x="111.6" y="267.4" width="1.05" height="65.6" fill="#1f2100"/><rect x="112.6" y="267.4" width="1.05" height="65.6" fill="#202200"/><rect x="113.6" y="267.4" width="1.05" height="65.6" fill="#161700"/><rect x="114.6" y="267.4" width="1.05" height="65.6" fill="#0f081d"/><rect x="115.6" y="267.4" width="1.05" height="65.6" fill="#212300"/><rect x="116.6" y="267.4" width="1.05" height="65.6" fill="#191b00"/><rect x="117.6" y="267.4" width="1.05" height="65.6" fill="#272a00"/><rect x="118.6" y="267.4" width="1.05" height="65.6" fill="#0b0615"/><rect x="119.6" y="267.4" width="1.05" height="65.6" fill="#1e2000"/><rect x="120.6" y="267.4" width="1.05" height="65.6" fill="#121300"/><rect x="121.6" y="267.4" width="1.05" height="65.6" fill="#0a0a00"/><rect x="122.6" y="267.4" width="1.05" height="65.6" fill="#101100"/><rect x="123.6" y="267.4" width="1.05" height="65.6" fill="#101200"/><rect x="124.6" y="267.4" width="1.05" height="65.6" fill="#10091f"/><rect x="125.6" y="267.4" width="1.05" height="65.6" fill="#040500"/><rect x="126.6" y="267.4" width="1.05" height="65.6" fill="#080900"/><rect x="127.6" y="267.4" width="1.05" height="65.6" fill="#252800"/><rect x="128.6" y="267.4" width="1.05" height="65.6" fill="#141500"/><rect x="129.6" y="267.4" width="1.05" height="65.6" fill="#3c4000"/><rect x="130.6" y="267.4" width="1.05" height="65.6" fill="#292c00"/><rect x="131.6" y="267.4" width="1.05" height="65.6" fill="#212400"/><rect x="132.6" y="267.4" width="1.05" height="65.6" fill="#1e2100"/><rect x="133.6" y="267.4" width="1.05" height="65.6" fill="#110921"/><rect x="134.6" y="267.4" width="1.05" height="65.6" fill="#232500"/><rect x="135.6" y="267.4" width="0.25" height="65.6" fill="#393d00"/><rect x="89.6" y="267.4" width="46.2" height="1.00" fill="#232500" fill-opacity="0.02"/><rect x="89.6" y="268.4" width="46.2" height="1.00" fill="#000" fill-opacity="0.38"/><rect x="89.6" y="269.4" width="46.2" height="1.00" fill="#000" fill-opacity="0.34"/><rect x="89.6" y="270.4" width="46.2" height="1.00" fill="#000" fill-opacity="0.13"/><rect x="89.6" y="271.4" width="46.2" height="1.00" fill="#232500" fill-opacity="0.17"/><rect x="89.6" y="272.4" width="46.2" height="1.00" fill="#000" fill-opacity="0.41"/><rect x="89.6" y="273.4" width="46.2" height="1.00" fill="#000" fill-opacity="0.07"/><rect x="89.6" y="274.4" width="46.2" height="1.00" fill="#232500" fill-opacity="0.06"/><rect x="89.6" y="275.4" width="46.2" height="1.00" fill="#000" fill-opacity="0.09"/><rect x="89.6" y="276.4" width="46.2" height="1.00" fill="#000" fill-opacity="0.16"/><rect x="89.6" y="277.4" width="46.2" height="1.00" fill="#232500" fill-opacity="0.10"/><rect x="89.6" y="278.4" width="46.2" height="1.00" fill="#000" fill-opacity="0.29"/><rect x="89.6" y="279.4" width="46.2" height="1.00" fill="#000" fill-opacity="0.06"/><rect x="89.6" y="280.4" width="46.2" height="1.00" fill="#000" fill-opacity="0.31"/><rect x="89.6" y="281.4" width="46.2" height="1.00" fill="#232500" fill-opacity="0.13"/><rect x="89.6" y="282.4" width="46.2" height="1.00" fill="#000" fill-opacity="0.07"/><rect x="89.6" y="283.4" width="46.2" height="1.00" fill="#232500" fill-opacity="0.11"/><rect x="89.6" y="284.4" width="46.2" height="1.00" fill="#232500" fill-opacity="0.20"/><rect x="89.6" y="285.4" width="46.2" height="1.00" fill="#000" fill-opacity="0.30"/><rect x="89.6" y="286.4" width="46.2" height="1.00" fill="#232500" fill-opacity="0.18"/><rect x="89.6" y="287.4" width="46.2" height="1.00" fill="#000" fill-opacity="0.13"/><rect x="89.6" y="288.4" width="46.2" height="1.00" fill="#000" fill-opacity="0.12"/><rect x="89.6" y="289.4" width="46.2" height="1.00" fill="#000" fill-opacity="0.40"/><rect x="89.6" y="290.4" width="46.2" height="1.00" fill="#232500" fill-opacity="0.14"/><rect x="89.6" y="291.4" width="46.2" height="1.00" fill="#000" fill-opacity="0.43"/><rect x="89.6" y="292.4" width="46.2" height="1.00" fill="#000" fill-opacity="0.35"/><rect x="89.6" y="293.4" width="46.2" height="1.00" fill="#232500" fill-opacity="0.02"/><rect x="89.6" y="294.4" width="46.2" height="1.00" fill="#232500" fill-opacity="0.19"/><rect x="89.6" y="295.4" width="46.2" height="1.00" fill="#232500" fill-opacity="0.01"/><rect x="89.6" y="296.4" width="46.2" height="1.00" fill="#232500" fill-opacity="0.09"/><rect x="89.6" y="297.4" width="46.2" height="1.00" fill="#000" fill-opacity="0.33"/><rect x="89.6" y="298.4" width="46.2" height="1.00" fill="#000" fill-opacity="0.18"/><rect x="89.6" y="299.4" width="46.2" height="1.00" fill="#000" fill-opacity="0.04"/><rect x="89.6" y="300.4" width="46.2" height="1.00" fill="#000" fill-opacity="0.32"/><rect x="89.6" y="301.4" width="46.2" height="1.00" fill="#000" fill-opacity="0.39"/><rect x="89.6" y="302.4" width="46.2" height="1.00" fill="#000" fill-opacity="0.14"/><rect x="89.6" y="303.4" width="46.2" height="1.00" fill="#232500" fill-opacity="0.21"/><rect x="89.6" y="304.4" width="46.2" height="1.00" fill="#232500" fill-opacity="0.20"/><rect x="89.6" y="305.4" width="46.2" height="1.00" fill="#000" fill-opacity="0.05"/><rect x="89.6" y="306.4" width="46.2" height="1.00" fill="#000" fill-opacity="0.10"/><rect x="89.6" y="307.4" width="46.2" height="1.00" fill="#000" fill-opacity="0.25"/><rect x="89.6" y="308.4" width="46.2" height="1.00" fill="#232500" fill-opacity="0.02"/><rect x="89.6" y="309.4" width="46.2" height="1.00" fill="#232500" fill-opacity="0.21"/><rect x="89.6" y="310.4" width="46.2" height="1.00" fill="#000" fill-opacity="0.21"/><rect x="89.6" y="311.4" width="46.2" height="1.00" fill="#000" fill-opacity="0.35"/><rect x="89.6" y="312.4" width="46.2" height="1.00" fill="#000" fill-opacity="0.24"/><rect x="89.6" y="313.4" width="46.2" height="1.00" fill="#232500" fill-opacity="0.22"/><rect x="89.6" y="314.4" width="46.2" height="1.00" fill="#000" fill-opacity="0.20"/><rect x="89.6" y="315.4" width="46.2" height="1.00" fill="#232500" fill-opacity="0.12"/><rect x="89.6" y="316.4" width="46.2" height="1.00" fill="#000" fill-opacity="0.19"/><rect x="89.6" y="317.4" width="46.2" height="1.00" fill="#232500" fill-opacity="0.12"/><rect x="89.6" y="318.4" width="46.2" height="1.00" fill="#232500" fill-opacity="0.09"/><rect x="89.6" y="319.4" width="46.2" height="1.00" fill="#000" fill-opacity="0.41"/><rect x="89.6" y="320.4" width="46.2" height="1.00" fill="#232500" fill-opacity="0.18"/><rect x="89.6" y="321.4" width="46.2" height="1.00" fill="#000" fill-opacity="0.06"/><rect x="89.6" y="322.4" width="46.2" height="1.00" fill="#000" fill-opacity="0.42"/><rect x="89.6" y="323.4" width="46.2" height="1.00" fill="#232500" fill-opacity="0.10"/><rect x="89.6" y="324.4" width="46.2" height="1.00" fill="#232500" fill-opacity="0.13"/><rect x="89.6" y="325.4" width="46.2" height="1.00" fill="#232500" fill-opacity="0.06"/><rect x="89.6" y="326.4" width="46.2" height="1.00" fill="#000" fill-opacity="0.12"/><rect x="89.6" y="327.4" width="46.2" height="1.00" fill="#232500" fill-opacity="0.17"/><rect x="89.6" y="328.4" width="46.2" height="1.00" fill="#000" fill-opacity="0.06"/><rect x="89.6" y="329.4" width="46.2" height="1.00" fill="#232500" fill-opacity="0.16"/><rect x="89.6" y="330.4" width="46.2" height="1.00" fill="#232500" fill-opacity="0.02"/><rect x="89.6" y="331.4" width="46.2" height="1.00" fill="#000" fill-opacity="0.06"/><rect x="89.6" y="332.4" width="46.2" height="0.60" fill="#000" fill-opacity="0.04"/><rect x="136.2" y="267.4" width="1.05" height="65.6" fill="#5930ae"/><rect x="137.2" y="267.4" width="1.05" height="65.6" fill="#5e33b9"/><rect x="138.2" y="267.4" width="1.05" height="65.6" fill="#5d32b7"/><rect x="139.2" y="267.4" width="1.05" height="65.6" fill="#3f227c"/><rect x="140.2" y="267.4" width="1.05" height="65.6" fill="#371e6d"/><rect x="141.2" y="267.4" width="1.05" height="65.6" fill="#3c2075"/><rect x="142.2" y="267.4" width="1.05" height="65.6" fill="#3f227c"/><rect x="143.2" y="267.4" width="1.05" height="65.6" fill="#4b2893"/><rect x="144.2" y="267.4" width="1.05" height="65.6" fill="#3d2178"/><rect x="145.2" y="267.4" width="1.05" height="65.6" fill="#351c67"/><rect x="146.2" y="267.4" width="1.05" height="65.6" fill="#442485"/><rect x="147.2" y="267.4" width="1.05" height="65.6" fill="#391f70"/><rect x="148.2" y="267.4" width="1.05" height="65.6" fill="#3a1f71"/><rect x="149.2" y="267.4" width="1.05" height="65.6" fill="#542da6"/><rect x="150.2" y="267.4" width="1.05" height="65.6" fill="#3a1f72"/><rect x="151.2" y="267.4" width="1.05" height="65.6" fill="#552ea7"/><rect x="152.2" y="267.4" width="1.05" height="65.6" fill="#572fab"/><rect x="153.2" y="267.4" width="1.05" height="65.6" fill="#341c65"/><rect x="154.2" y="267.4" width="1.05" height="65.6" fill="#6034bd"/><rect x="155.2" y="267.4" width="1.05" height="65.6" fill="#4d2a98"/><rect x="156.2" y="267.4" width="1.05" height="65.6" fill="#3e217a"/><rect x="157.2" y="267.4" width="1.05" height="65.6" fill="#462588"/><rect x="158.2" y="267.4" width="1.05" height="65.6" fill="#502b9d"/><rect x="159.2" y="267.4" width="1.05" height="65.6" fill="#572fab"/><rect x="160.2" y="267.4" width="0.35" height="65.6" fill="#442585"/><rect x="136.2" y="267.4" width="24.3" height="1.00" fill="#000" fill-opacity="0.44"/><rect x="136.2" y="268.4" width="24.3" height="1.00" fill="#6b39d1" fill-opacity="0.15"/><rect x="136.2" y="269.4" width="24.3" height="1.00" fill="#000" fill-opacity="0.33"/><rect x="136.2" y="270.4" width="24.3" height="1.00" fill="#000" fill-opacity="0.42"/><rect x="136.2" y="271.4" width="24.3" height="1.00" fill="#6b39d1" fill-opacity="0.19"/><rect x="136.2" y="272.4" width="24.3" height="1.00" fill="#6b39d1" fill-opacity="0.09"/><rect x="136.2" y="273.4" width="24.3" height="1.00" fill="#000" fill-opacity="0.30"/><rect x="136.2" y="274.4" width="24.3" height="1.00" fill="#6b39d1" fill-opacity="0.16"/><rect x="136.2" y="275.4" width="24.3" height="1.00" fill="#6b39d1" fill-opacity="0.16"/><rect x="136.2" y="276.4" width="24.3" height="1.00" fill="#000" fill-opacity="0.36"/><rect x="136.2" y="277.4" width="24.3" height="1.00" fill="#000" fill-opacity="0.22"/><rect x="136.2" y="278.4" width="24.3" height="1.00" fill="#6b39d1" fill-opacity="0.18"/><rect x="136.2" y="279.4" width="24.3" height="1.00" fill="#000" fill-opacity="0.38"/><rect x="136.2" y="280.4" width="24.3" height="1.00" fill="#000" fill-opacity="0.24"/><rect x="136.2" y="281.4" width="24.3" height="1.00" fill="#000" fill-opacity="0.05"/><rect x="136.2" y="282.4" width="24.3" height="1.00" fill="#6b39d1" fill-opacity="0.22"/><rect x="136.2" y="283.4" width="24.3" height="1.00" fill="#6b39d1" fill-opacity="0.05"/><rect x="136.2" y="284.4" width="24.3" height="1.00" fill="#000" fill-opacity="0.29"/><rect x="136.2" y="285.4" width="24.3" height="1.00" fill="#000" fill-opacity="0.29"/><rect x="136.2" y="286.4" width="24.3" height="1.00" fill="#000" fill-opacity="0.12"/><rect x="136.2" y="287.4" width="24.3" height="1.00" fill="#6b39d1" fill-opacity="0.15"/><rect x="136.2" y="288.4" width="24.3" height="1.00" fill="#6b39d1" fill-opacity="0.17"/><rect x="136.2" y="289.4" width="24.3" height="1.00" fill="#000" fill-opacity="0.20"/><rect x="136.2" y="290.4" width="24.3" height="1.00" fill="#000" fill-opacity="0.33"/><rect x="136.2" y="291.4" width="24.3" height="1.00" fill="#6b39d1" fill-opacity="0.13"/><rect x="136.2" y="292.4" width="24.3" height="1.00" fill="#6b39d1" fill-opacity="0.10"/><rect x="136.2" y="293.4" width="24.3" height="1.00" fill="#000" fill-opacity="0.03"/><rect x="136.2" y="294.4" width="24.3" height="1.00" fill="#000" fill-opacity="0.38"/><rect x="136.2" y="295.4" width="24.3" height="1.00" fill="#000" fill-opacity="0.03"/><rect x="136.2" y="296.4" width="24.3" height="1.00" fill="#000" fill-opacity="0.34"/><rect x="136.2" y="297.4" width="24.3" height="1.00" fill="#000" fill-opacity="0.21"/><rect x="136.2" y="298.4" width="24.3" height="1.00" fill="#000" fill-opacity="0.36"/><rect x="136.2" y="299.4" width="24.3" height="1.00" fill="#000" fill-opacity="0.23"/><rect x="136.2" y="300.4" width="24.3" height="1.00" fill="#6b39d1" fill-opacity="0.18"/><rect x="136.2" y="301.4" width="24.3" height="1.00" fill="#6b39d1" fill-opacity="0.14"/><rect x="136.2" y="302.4" width="24.3" height="1.00" fill="#6b39d1" fill-opacity="0.14"/><rect x="136.2" y="303.4" width="24.3" height="1.00" fill="#6b39d1" fill-opacity="0.19"/><rect x="136.2" y="304.4" width="24.3" height="1.00" fill="#6b39d1" fill-opacity="0.00"/><rect x="136.2" y="305.4" width="24.3" height="1.00" fill="#000" fill-opacity="0.45"/><rect x="136.2" y="306.4" width="24.3" height="1.00" fill="#000" fill-opacity="0.03"/><rect x="136.2" y="307.4" width="24.3" height="1.00" fill="#000" fill-opacity="0.05"/><rect x="136.2" y="308.4" width="24.3" height="1.00" fill="#000" fill-opacity="0.04"/><rect x="136.2" y="309.4" width="24.3" height="1.00" fill="#000" fill-opacity="0.00"/><rect x="136.2" y="310.4" width="24.3" height="1.00" fill="#6b39d1" fill-opacity="0.07"/><rect x="136.2" y="311.4" width="24.3" height="1.00" fill="#000" fill-opacity="0.17"/><rect x="136.2" y="312.4" width="24.3" height="1.00" fill="#6b39d1" fill-opacity="0.21"/><rect x="136.2" y="313.4" width="24.3" height="1.00" fill="#000" fill-opacity="0.31"/><rect x="136.2" y="314.4" width="24.3" height="1.00" fill="#000" fill-opacity="0.18"/><rect x="136.2" y="315.4" width="24.3" height="1.00" fill="#000" fill-opacity="0.18"/><rect x="136.2" y="316.4" width="24.3" height="1.00" fill="#6b39d1" fill-opacity="0.10"/><rect x="136.2" y="317.4" width="24.3" height="1.00" fill="#6b39d1" fill-opacity="0.16"/><rect x="136.2" y="318.4" width="24.3" height="1.00" fill="#6b39d1" fill-opacity="0.15"/><rect x="136.2" y="319.4" width="24.3" height="1.00" fill="#6b39d1" fill-opacity="0.20"/><rect x="136.2" y="320.4" width="24.3" height="1.00" fill="#000" fill-opacity="0.36"/><rect x="136.2" y="321.4" width="24.3" height="1.00" fill="#6b39d1" fill-opacity="0.15"/><rect x="136.2" y="322.4" width="24.3" height="1.00" fill="#6b39d1" fill-opacity="0.20"/><rect x="136.2" y="323.4" width="24.3" height="1.00" fill="#000" fill-opacity="0.20"/><rect x="136.2" y="324.4" width="24.3" height="1.00" fill="#000" fill-opacity="0.15"/><rect x="136.2" y="325.4" width="24.3" height="1.00" fill="#6b39d1" fill-opacity="0.15"/><rect x="136.2" y="326.4" width="24.3" height="1.00" fill="#6b39d1" fill-opacity="0.04"/><rect x="136.2" y="327.4" width="24.3" height="1.00" fill="#000" fill-opacity="0.38"/><rect x="136.2" y="328.4" width="24.3" height="1.00" fill="#6b39d1" fill-opacity="0.02"/><rect x="136.2" y="329.4" width="24.3" height="1.00" fill="#000" fill-opacity="0.16"/><rect x="136.2" y="330.4" width="24.3" height="1.00" fill="#000" fill-opacity="0.13"/><rect x="136.2" y="331.4" width="24.3" height="1.00" fill="#000" fill-opacity="0.07"/><rect x="136.2" y="332.4" width="24.3" height="0.60" fill="#000" fill-opacity="0.05"/><rect x="161.0" y="267.4" width="1.05" height="65.6" fill="#b5c200"/><rect x="162.0" y="267.4" width="1.05" height="65.6" fill="#c8d600"/><rect x="163.0" y="267.4" width="1.05" height="65.6" fill="#d6e500"/><rect x="164.0" y="267.4" width="1.05" height="65.6" fill="#c8d600"/><rect x="165.0" y="267.4" width="1.05" height="65.6" fill="#d5e400"/><rect x="166.0" y="267.4" width="0.85" height="65.6" fill="#cfde00"/><rect x="161.0" y="267.4" width="5.8" height="1.00" fill="#000" fill-opacity="0.03"/><rect x="161.0" y="268.4" width="5.8" height="1.00" fill="#eeff00" fill-opacity="0.01"/><rect x="161.0" y="269.4" width="5.8" height="1.00" fill="#000" fill-opacity="0.15"/><rect x="161.0" y="270.4" width="5.8" height="1.00" fill="#000" fill-opacity="0.16"/><rect x="161.0" y="271.4" width="5.8" height="1.00" fill="#eeff00" fill-opacity="0.09"/><rect x="161.0" y="272.4" width="5.8" height="1.00" fill="#000" fill-opacity="0.11"/><rect x="161.0" y="273.4" width="5.8" height="1.00" fill="#000" fill-opacity="0.09"/><rect x="161.0" y="274.4" width="5.8" height="1.00" fill="#000" fill-opacity="0.16"/><rect x="161.0" y="275.4" width="5.8" height="1.00" fill="#eeff00" fill-opacity="0.03"/><rect x="161.0" y="276.4" width="5.8" height="1.00" fill="#eeff00" fill-opacity="0.01"/><rect x="161.0" y="277.4" width="5.8" height="1.00" fill="#eeff00" fill-opacity="0.02"/><rect x="161.0" y="278.4" width="5.8" height="1.00" fill="#000" fill-opacity="0.12"/><rect x="161.0" y="279.4" width="5.8" height="1.00" fill="#000" fill-opacity="0.15"/><rect x="161.0" y="280.4" width="5.8" height="1.00" fill="#eeff00" fill-opacity="0.03"/><rect x="161.0" y="281.4" width="5.8" height="1.00" fill="#000" fill-opacity="0.16"/><rect x="161.0" y="282.4" width="5.8" height="1.00" fill="#000" fill-opacity="0.14"/><rect x="161.0" y="283.4" width="5.8" height="1.00" fill="#000" fill-opacity="0.10"/><rect x="161.0" y="284.4" width="5.8" height="1.00" fill="#eeff00" fill-opacity="0.06"/><rect x="161.0" y="285.4" width="5.8" height="1.00" fill="#000" fill-opacity="0.13"/><rect x="161.0" y="286.4" width="5.8" height="1.00" fill="#000" fill-opacity="0.10"/><rect x="161.0" y="287.4" width="5.8" height="1.00" fill="#000" fill-opacity="0.09"/><rect x="161.0" y="288.4" width="5.8" height="1.00" fill="#000" fill-opacity="0.06"/><rect x="161.0" y="289.4" width="5.8" height="1.00" fill="#eeff00" fill-opacity="0.01"/><rect x="161.0" y="290.4" width="5.8" height="1.00" fill="#000" fill-opacity="0.05"/><rect x="161.0" y="291.4" width="5.8" height="1.00" fill="#000" fill-opacity="0.02"/><rect x="161.0" y="292.4" width="5.8" height="1.00" fill="#000" fill-opacity="0.19"/><rect x="161.0" y="293.4" width="5.8" height="1.00" fill="#000" fill-opacity="0.02"/><rect x="161.0" y="294.4" width="5.8" height="1.00" fill="#000" fill-opacity="0.19"/><rect x="161.0" y="295.4" width="5.8" height="1.00" fill="#000" fill-opacity="0.07"/><rect x="161.0" y="296.4" width="5.8" height="1.00" fill="#000" fill-opacity="0.14"/><rect x="161.0" y="297.4" width="5.8" height="1.00" fill="#eeff00" fill-opacity="0.01"/><rect x="161.0" y="298.4" width="5.8" height="1.00" fill="#eeff00" fill-opacity="0.03"/><rect x="161.0" y="299.4" width="5.8" height="1.00" fill="#eeff00" fill-opacity="0.05"/><rect x="161.0" y="300.4" width="5.8" height="1.00" fill="#000" fill-opacity="0.01"/><rect x="161.0" y="301.4" width="5.8" height="1.00" fill="#000" fill-opacity="0.06"/><rect x="161.0" y="302.4" width="5.8" height="1.00" fill="#eeff00" fill-opacity="0.08"/><rect x="161.0" y="303.4" width="5.8" height="1.00" fill="#eeff00" fill-opacity="0.03"/><rect x="161.0" y="304.4" width="5.8" height="1.00" fill="#eeff00" fill-opacity="0.08"/><rect x="161.0" y="305.4" width="5.8" height="1.00" fill="#eeff00" fill-opacity="0.05"/><rect x="161.0" y="306.4" width="5.8" height="1.00" fill="#000" fill-opacity="0.12"/><rect x="161.0" y="307.4" width="5.8" height="1.00" fill="#000" fill-opacity="0.09"/><rect x="161.0" y="308.4" width="5.8" height="1.00" fill="#eeff00" fill-opacity="0.04"/><rect x="161.0" y="309.4" width="5.8" height="1.00" fill="#000" fill-opacity="0.06"/><rect x="161.0" y="310.4" width="5.8" height="1.00" fill="#eeff00" fill-opacity="0.06"/><rect x="161.0" y="311.4" width="5.8" height="1.00" fill="#000" fill-opacity="0.04"/><rect x="161.0" y="312.4" width="5.8" height="1.00" fill="#000" fill-opacity="0.15"/><rect x="161.0" y="313.4" width="5.8" height="1.00" fill="#eeff00" fill-opacity="0.01"/><rect x="161.0" y="314.4" width="5.8" height="1.00" fill="#000" fill-opacity="0.18"/><rect x="161.0" y="315.4" width="5.8" height="1.00" fill="#eeff00" fill-opacity="0.01"/><rect x="161.0" y="316.4" width="5.8" height="1.00" fill="#eeff00" fill-opacity="0.03"/><rect x="161.0" y="317.4" width="5.8" height="1.00" fill="#000" fill-opacity="0.01"/><rect x="161.0" y="318.4" width="5.8" height="1.00" fill="#000" fill-opacity="0.03"/><rect x="161.0" y="319.4" width="5.8" height="1.00" fill="#eeff00" fill-opacity="0.07"/><rect x="161.0" y="320.4" width="5.8" height="1.00" fill="#eeff00" fill-opacity="0.09"/><rect x="161.0" y="321.4" width="5.8" height="1.00" fill="#eeff00" fill-opacity="0.06"/><rect x="161.0" y="322.4" width="5.8" height="1.00" fill="#000" fill-opacity="0.04"/><rect x="161.0" y="323.4" width="5.8" height="1.00" fill="#eeff00" fill-opacity="0.03"/><rect x="161.0" y="324.4" width="5.8" height="1.00" fill="#eeff00" fill-opacity="0.01"/><rect x="161.0" y="325.4" width="5.8" height="1.00" fill="#eeff00" fill-opacity="0.04"/><rect x="161.0" y="326.4" width="5.8" height="1.00" fill="#eeff00" fill-opacity="0.09"/><rect x="161.0" y="327.4" width="5.8" height="1.00" fill="#eeff00" fill-opacity="0.04"/><rect x="161.0" y="328.4" width="5.8" height="1.00" fill="#000" fill-opacity="0.20"/><rect x="161.0" y="329.4" width="5.8" height="1.00" fill="#eeff00" fill-opacity="0.07"/><rect x="161.0" y="330.4" width="5.8" height="1.00" fill="#000" fill-opacity="0.09"/><rect x="161.0" y="331.4" width="5.8" height="1.00" fill="#000" fill-opacity="0.03"/><rect x="161.0" y="332.4" width="5.8" height="0.60" fill="#000" fill-opacity="0.19"/></g>
<defs><filter id="spk" x="0" y="0" width="1" height="1" filterUnits="objectBoundingBox"><feTurbulence type="fractalNoise" baseFrequency="0.9 0.35" numOctaves="2" seed="3" result="n"/><feColorMatrix in="n" type="matrix" values="0 0 0 0 0  0 0 0 0 0  0 0 0 0 0  1.3 0 0 0 -0.45"/></filter></defs>
<rect x="31" y="223.2" width="129.6" height="109.8" fill="#000" filter="url(#spk)"/>
<rect x="160.6" y="223.2" width="6.2" height="44.2" fill="#000" filter="url(#spk)"/>
<defs><linearGradient id="gC4" x1="0" y1="0" x2="0" y2="1"><stop offset="0" stop-color="#000" stop-opacity="0"/><stop offset="1" stop-color="#000" stop-opacity="0.3"/></linearGradient></defs>
<rect x="136.20" y="267.40" width="30.50" height="65.60" fill="url(#gC4)"/>
<line x1="89.35" y1="223.20" x2="89.35" y2="333.00" stroke="#aaa" stroke-width="0.5"/>
<line x1="135.95" y1="223.20" x2="135.95" y2="333.00" stroke="#aaa" stroke-width="0.5"/>
<line x1="160.75" y1="223.20" x2="160.75" y2="333.00" stroke="#aaa" stroke-width="0.5"/>
<rect x="31.00" y="216.90" width="58.30" height="5.60" fill="#cc0010"/>
<text x="61.5" y="222.1" font-size="6.2" fill="#fff" text-anchor="middle" stroke="#fff" stroke-width="0.25">1</text>
<rect x="89.30" y="216.90" width="46.60" height="5.60" fill="#33ee00"/>
<text x="114.0" y="222.1" font-size="6.2" fill="#fff" text-anchor="middle" stroke="#fff" stroke-width="0.25">2</text>
<rect x="135.90" y="216.90" width="24.90" height="5.60" fill="#1040c0"/>
<text x="149.8" y="222.1" font-size="6.2" fill="#fff" text-anchor="middle" stroke="#fff" stroke-width="0.25">3</text>
<rect x="160.80" y="216.90" width="6.20" height="5.60" fill="#2210a0"/>
<text x="163.6" y="222.1" font-size="6.2" fill="#fff" text-anchor="middle" stroke="#fff" stroke-width="0.25">4</text>
<text x="29.8" y="221.4" font-size="7.2" fill="#222" text-anchor="end">Cluster</text>
<text x="29.8" y="233.2" font-size="7.6" fill="#e02040" text-anchor="end">222</text>
<text x="29.8" y="252.2" font-size="7.6" fill="#66dd22" text-anchor="end">471</text>
<text x="29.8" y="267.6" font-size="7.6" fill="#2a55cc" text-anchor="end">101</text>
<text x="29.8" y="300.8" font-size="7.6" fill="#2a2aaa" text-anchor="end">1205</text>
<text x="0" y="0" font-size="8.0" fill="#cc1030" stroke="#cc1030" stroke-width="0.2" transform="translate(61.2,213.0) rotate(-46.5)">Active cycling MKs</text>
<text x="0" y="0" font-size="8.0" fill="#44ee11" stroke="#44ee11" stroke-width="0.2" transform="translate(103.2,212.8) rotate(-46.5)">HSC niche MKs</text>
<text x="0" y="0" font-size="8.0" fill="#2458c8" stroke="#2458c8" stroke-width="0.2" transform="translate(146.6,212.8) rotate(-46.5)">Inflammatory response MKs</text>
<text x="0" y="0" font-size="8.0" fill="#3a22c0" stroke="#3a22c0" stroke-width="0.2" transform="translate(165.8,212.0) rotate(-46.5)">Platelet generation MKs</text>
<text x="173.8" y="220.3" font-size="7.6" fill="#222" textLength="32.3" lengthAdjust="spacingAndGlyphs">Go terms</text>
<text x="261.1" y="220.3" font-size="7.4" fill="#222" textLength="25.1" lengthAdjust="spacingAndGlyphs">P-value</text>
<line x1="166.30" y1="222.90" x2="286.20" y2="222.90" stroke="#333" stroke-width="1.0"/>
<text x="169.7" y="228.4" font-size="6.0" fill="#dd1133" stroke="#dd1133" stroke-width="0.18" textLength="41.7" lengthAdjust="spacingAndGlyphs">DNA replication</text>
<text x="262.0" y="228.4" font-size="5.9" fill="#dd1133" stroke="#dd1133" stroke-width="0.18">1.55e-14</text>
<text x="169.7" y="234.7" font-size="6.0" fill="#dd1133" stroke="#dd1133" stroke-width="0.18" textLength="24.2" lengthAdjust="spacingAndGlyphs">Cell cycle</text>
<text x="262.0" y="234.7" font-size="5.9" fill="#dd1133" stroke="#dd1133" stroke-width="0.18">1.33e-11</text>
<text x="169.7" y="242.7" font-size="6.0" fill="#55dd22" stroke="#55dd22" stroke-width="0.18" textLength="56.5" lengthAdjust="spacingAndGlyphs">Cell fate commitment</text>
<text x="262.0" y="242.7" font-size="5.9" fill="#55dd22" stroke="#55dd22" stroke-width="0.18">6.79e-10</text>
<text x="169.7" y="249.9" font-size="6.0" fill="#55dd22" stroke="#55dd22" stroke-width="0.18" textLength="45.1" lengthAdjust="spacingAndGlyphs">Cell-cell signaling</text>
<text x="262.0" y="249.9" font-size="5.9" fill="#55dd22" stroke="#55dd22" stroke-width="0.18">3.22e-7</text>
<text x="169.7" y="257.2" font-size="6.0" fill="#55dd22" stroke="#55dd22" stroke-width="0.18" textLength="45.8" lengthAdjust="spacingAndGlyphs">Cell-cell adhesion</text>
<text x="262.0" y="257.2" font-size="5.9" fill="#55dd22" stroke="#55dd22" stroke-width="0.18">5.66e-7</text>
<text x="169.7" y="264.8" font-size="6.0" fill="#55dd22" stroke="#55dd22" stroke-width="0.18" textLength="88.0" lengthAdjust="spacingAndGlyphs">Stem cell population maintenance</text>
<text x="262.0" y="264.8" font-size="5.9" fill="#55dd22" stroke="#55dd22" stroke-width="0.18">0.006</text>
<text x="169.7" y="275.9" font-size="6.0" fill="#2244cc" stroke="#2244cc" stroke-width="0.18" textLength="58.9" lengthAdjust="spacingAndGlyphs">Inflammatory response</text>
<text x="262.0" y="275.9" font-size="5.9" fill="#2244cc" stroke="#2244cc" stroke-width="0.18">6.87e-10</text>
<text x="169.7" y="284.7" font-size="6.0" fill="#2244cc" stroke="#2244cc" stroke-width="0.18" textLength="73.5" lengthAdjust="spacingAndGlyphs">Myeloid leukocyte activation</text>
<text x="262.0" y="284.7" font-size="5.9" fill="#2244cc" stroke="#2244cc" stroke-width="0.18">7.93e-9</text>
<text x="169.7" y="296.6" font-size="6.0" fill="#3322aa" stroke="#3322aa" stroke-width="0.18" textLength="29.0" lengthAdjust="spacingAndGlyphs">Hemostasis</text>
<text x="262.0" y="296.6" font-size="5.9" fill="#3322aa" stroke="#3322aa" stroke-width="0.18">1.30e-28</text>
<text x="169.7" y="306.2" font-size="6.0" fill="#3322aa" stroke="#3322aa" stroke-width="0.18" textLength="46.2" lengthAdjust="spacingAndGlyphs">Platelet activation</text>
<text x="262.0" y="306.2" font-size="5.9" fill="#3322aa" stroke="#3322aa" stroke-width="0.18">5.00e-18</text>
<text x="169.7" y="316.2" font-size="6.0" fill="#3322aa" stroke="#3322aa" stroke-width="0.18" textLength="47.3" lengthAdjust="spacingAndGlyphs">Blood coagulation</text>
<text x="262.0" y="316.2" font-size="5.9" fill="#3322aa" stroke="#3322aa" stroke-width="0.18">1.05e-16</text>
<text x="169.7" y="325.3" font-size="6.0" fill="#3322aa" stroke="#3322aa" stroke-width="0.18" textLength="53.1" lengthAdjust="spacingAndGlyphs">Platelet aggregation</text>
<text x="262.0" y="325.3" font-size="5.9" fill="#3322aa" stroke="#3322aa" stroke-width="0.18">5.18e-13</text>
<line x1="166.30" y1="237.40" x2="286.20" y2="237.40" stroke="#333" stroke-width="1.0"/>
<polyline points="166.4,261.2 171,268.3 286.2,268.3" fill="none" stroke="#333" stroke-width="0.9"/>
<polyline points="169.2,268.6 168.8,286.9 286.2,286.9" fill="none" stroke="#333" stroke-width="0.9"/>
<defs><linearGradient id="gEx" x1="0" y1="0" x2="0" y2="1"><stop offset="0" stop-color="#e8ff00"/><stop offset="0.2" stop-color="#c0d000"/><stop offset="0.38" stop-color="#1c2400"/><stop offset="0.45" stop-color="#000"/><stop offset="0.68" stop-color="#000"/><stop offset="0.8" stop-color="#4010c0"/><stop offset="1" stop-color="#a400ff"/></linearGradient></defs>
<rect x="296.00" y="253.90" width="5.20" height="25.40" fill="url(#gEx)"/>
<text x="0" y="0" font-size="7.4" fill="#222" text-anchor="middle" transform="translate(292.9,267.2) rotate(-90)">Expression</text>
<text x="0" y="0" font-size="4.6" fill="#111" textLength="22.5" lengthAdjust="spacingAndGlyphs" transform="translate(304.8,255.0) rotate(90)">2  1  0  −1  −2</text>
<line x1="411.60" y1="170.20" x2="411.60" y2="329.60" stroke="#111" stroke-width="1.1"/>
<line x1="411.10" y1="329.20" x2="482.00" y2="329.20" stroke="#111" stroke-width="1.1"/>
<line x1="408.90" y1="174.50" x2="411.60" y2="174.50" stroke="#111" stroke-width="0.9"/>
<text x="408.2" y="176.5" font-size="5.8" fill="#111" text-anchor="end" font-style="italic" stroke="#111" stroke-width="0.12">Pola2</text>
<line x1="408.90" y1="181.07" x2="411.60" y2="181.07" stroke="#111" stroke-width="0.9"/>
<text x="408.2" y="183.1" font-size="5.8" fill="#111" text-anchor="end" font-style="italic" stroke="#111" stroke-width="0.12">Pold2</text>
<line x1="408.90" y1="187.65" x2="411.60" y2="187.65" stroke="#111" stroke-width="0.9"/>
<text x="408.2" y="189.6" font-size="5.8" fill="#111" text-anchor="end" font-style="italic" stroke="#111" stroke-width="0.12">Prim1</text>
<line x1="408.90" y1="194.22" x2="411.60" y2="194.22" stroke="#111" stroke-width="0.9"/>
<text x="408.2" y="196.2" font-size="5.8" fill="#111" text-anchor="end" font-style="italic" stroke="#111" stroke-width="0.12">Lig1</text>
<line x1="408.90" y1="200.80" x2="411.60" y2="200.80" stroke="#111" stroke-width="0.9"/>
<text x="408.2" y="202.8" font-size="5.8" fill="#111" text-anchor="end" font-style="italic" stroke="#111" stroke-width="0.12">Fgf9</text>
<line x1="408.90" y1="207.37" x2="411.60" y2="207.37" stroke="#111" stroke-width="0.9"/>
<text x="408.2" y="209.4" font-size="5.8" fill="#111" text-anchor="end" font-style="italic" stroke="#111" stroke-width="0.12">Fgf10</text>
<line x1="408.90" y1="213.94" x2="411.60" y2="213.94" stroke="#111" stroke-width="0.9"/>
<text x="408.2" y="215.9" font-size="5.8" fill="#111" text-anchor="end" font-style="italic" stroke="#111" stroke-width="0.12">Pf4</text>
<line x1="408.90" y1="220.52" x2="411.60" y2="220.52" stroke="#111" stroke-width="0.9"/>
<text x="408.2" y="222.5" font-size="5.8" fill="#111" text-anchor="end" font-style="italic" stroke="#111" stroke-width="0.12">Igf1</text>
<line x1="408.90" y1="227.09" x2="411.60" y2="227.09" stroke="#111" stroke-width="0.9"/>
<text x="408.2" y="229.1" font-size="5.8" fill="#111" text-anchor="end" font-style="italic" stroke="#111" stroke-width="0.12">Cer1</text>
<line x1="408.90" y1="233.67" x2="411.60" y2="233.67" stroke="#111" stroke-width="0.9"/>
<text x="408.2" y="235.7" font-size="5.8" fill="#111" text-anchor="end" font-style="italic" stroke="#111" stroke-width="0.12">Chil1</text>
<line x1="408.90" y1="240.24" x2="411.60" y2="240.24" stroke="#111" stroke-width="0.9"/>
<text x="408.2" y="242.2" font-size="5.8" fill="#111" text-anchor="end" font-style="italic" stroke="#111" stroke-width="0.12">Chil3</text>
<line x1="408.90" y1="246.81" x2="411.60" y2="246.81" stroke="#111" stroke-width="0.9"/>
<text x="408.2" y="248.8" font-size="5.8" fill="#111" text-anchor="end" font-style="italic" stroke="#111" stroke-width="0.12">Ctss</text>
<line x1="408.90" y1="253.39" x2="411.60" y2="253.39" stroke="#111" stroke-width="0.9"/>
<text x="408.2" y="255.4" font-size="5.8" fill="#111" text-anchor="end" font-style="italic" stroke="#111" stroke-width="0.12">Anxa1</text>
<line x1="408.90" y1="259.96" x2="411.60" y2="259.96" stroke="#111" stroke-width="0.9"/>
<text x="408.2" y="262.0" font-size="5.8" fill="#111" text-anchor="end" font-style="italic" stroke="#111" stroke-width="0.12">Tubb1</text>
<line x1="408.90" y1="266.54" x2="411.60" y2="266.54" stroke="#111" stroke-width="0.9"/>
<text x="408.2" y="268.5" font-size="5.8" fill="#111" text-anchor="end" font-style="italic" stroke="#111" stroke-width="0.12">Myh9</text>
<line x1="408.90" y1="273.11" x2="411.60" y2="273.11" stroke="#111" stroke-width="0.9"/>
<text x="408.2" y="275.1" font-size="5.8" fill="#111" text-anchor="end" font-style="italic" stroke="#111" stroke-width="0.12">Vwf</text>
<line x1="408.90" y1="279.68" x2="411.60" y2="279.68" stroke="#111" stroke-width="0.9"/>
<text x="408.2" y="281.7" font-size="5.8" fill="#111" text-anchor="end" font-style="italic" stroke="#111" stroke-width="0.12">Gp1ba</text>
<line x1="408.90" y1="286.26" x2="411.60" y2="286.26" stroke="#111" stroke-width="0.9"/>
<text x="408.2" y="288.3" font-size="5.8" fill="#111" text-anchor="end" font-style="italic" stroke="#111" stroke-width="0.12">Gp5</text>
<line x1="408.90" y1="292.83" x2="411.60" y2="292.83" stroke="#111" stroke-width="0.9"/>
<text x="408.2" y="294.8" font-size="5.8" fill="#111" text-anchor="end" font-style="italic" stroke="#111" stroke-width="0.12">Gp6</text>
<line x1="408.90" y1="299.41" x2="411.60" y2="299.41" stroke="#111" stroke-width="0.9"/>
<text x="408.2" y="301.4" font-size="5.8" fill="#111" text-anchor="end" font-style="italic" stroke="#111" stroke-width="0.12">P2ry1</text>
<line x1="408.90" y1="305.98" x2="411.60" y2="305.98" stroke="#111" stroke-width="0.9"/>
<text x="408.2" y="308.0" font-size="5.8" fill="#111" text-anchor="end" font-style="italic" stroke="#111" stroke-width="0.12">P2ry12</text>
<line x1="408.90" y1="312.55" x2="411.60" y2="312.55" stroke="#111" stroke-width="0.9"/>
<text x="408.2" y="314.6" font-size="5.8" fill="#111" text-anchor="end" font-style="italic" stroke="#111" stroke-width="0.12">Gp9</text>
<line x1="408.90" y1="319.13" x2="411.60" y2="319.13" stroke="#111" stroke-width="0.9"/>
<text x="408.2" y="321.1" font-size="5.8" fill="#111" text-anchor="end" font-style="italic" stroke="#111" stroke-width="0.12">Itgb3</text>
<line x1="408.90" y1="325.70" x2="411.60" y2="325.70" stroke="#111" stroke-width="0.9"/>
<text x="408.2" y="327.7" font-size="5.8" fill="#111" text-anchor="end" font-style="italic" stroke="#111" stroke-width="0.12">Itga2b</text>
<line x1="418.60" y1="329.20" x2="418.60" y2="331.00" stroke="#111" stroke-width="0.8"/>
<text x="418.6" y="337.8" font-size="6.4" fill="#222" text-anchor="middle">1</text>
<line x1="434.00" y1="329.20" x2="434.00" y2="331.00" stroke="#111" stroke-width="0.8"/>
<text x="434.0" y="337.8" font-size="6.4" fill="#222" text-anchor="middle">2</text>
<line x1="453.10" y1="329.20" x2="453.10" y2="331.00" stroke="#111" stroke-width="0.8"/>
<text x="453.1" y="337.8" font-size="6.4" fill="#222" text-anchor="middle">3</text>
<line x1="473.90" y1="329.20" x2="473.90" y2="331.00" stroke="#111" stroke-width="0.8"/>
<text x="473.9" y="337.8" font-size="6.4" fill="#222" text-anchor="middle">4</text>
<text x="446.8" y="344.0" font-size="6.8" fill="#222" text-anchor="middle">Cluster</text>
<line x1="388.40" y1="171.00" x2="388.40" y2="195.20" stroke="#f04a78" stroke-width="1.1"/>
<text x="343.8" y="185.1" font-size="6.2" fill="#222" textLength="42.0" lengthAdjust="spacingAndGlyphs">DNA replication</text>
<line x1="388.40" y1="198.20" x2="388.40" y2="227.40" stroke="#7ad636" stroke-width="1.1"/>
<text x="360.5" y="213.4" font-size="6.2" fill="#222" textLength="25.3" lengthAdjust="spacingAndGlyphs">Cytokines</text>
<line x1="388.40" y1="231.00" x2="388.40" y2="254.60" stroke="#48e0b8" stroke-width="1.1"/>
<text x="327.0" y="241.7" font-size="6.2" fill="#222" textLength="58.8" lengthAdjust="spacingAndGlyphs">Inflammatory response</text>
<line x1="388.40" y1="259.60" x2="388.40" y2="327.40" stroke="#a888ee" stroke-width="1.1"/>
<text x="312.7" y="294.4" font-size="6.2" fill="#222" textLength="73.1" lengthAdjust="spacingAndGlyphs">Platelet generation/function</text>
<g><circle cx="418.6" cy="174.50" r="1.96" fill="#0a1cf0"/><circle cx="434.0" cy="174.50" r="1.79" fill="#b49ef2"/><circle cx="453.1" cy="174.50" r="1.63" fill="#a48ef2"/><circle cx="473.9" cy="174.50" r="1.79" fill="#b8a4f2"/><circle cx="418.6" cy="181.07" r="1.96" fill="#0a1cf0"/><circle cx="434.0" cy="181.07" r="1.55" fill="#8070f0"/><circle cx="453.1" cy="181.07" r="0.97" fill="#a090f0"/><circle cx="473.9" cy="181.07" r="1.22" fill="#b8a8f2"/><circle cx="418.6" cy="187.65" r="1.96" fill="#0a1cf0"/><circle cx="434.0" cy="187.65" r="1.63" fill="#8474f0"/><circle cx="453.1" cy="187.65" r="1.18" fill="#9080f0"/><circle cx="473.9" cy="187.65" r="1.63" fill="#c0b0f4"/><circle cx="418.6" cy="194.22" r="1.96" fill="#0a1cf0"/><circle cx="434.0" cy="194.22" r="1.79" fill="#9080f0"/><circle cx="453.1" cy="194.22" r="1.63" fill="#8a78f0"/><circle cx="473.9" cy="194.22" r="1.79" fill="#d0c8f8"/><circle cx="418.6" cy="200.80" r="1.22" fill="#9a88f0"/><circle cx="434.0" cy="200.80" r="1.88" fill="#0a1cf0"/><circle cx="453.1" cy="200.80" r="0.89" fill="#c8c0f8"/><circle cx="473.9" cy="200.80" r="1.42" fill="#9a88f0"/><circle cx="418.6" cy="207.37" r="1.30" fill="#a898f0"/><circle cx="434.0" cy="207.37" r="1.88" fill="#0a1cf0"/><circle cx="453.1" cy="207.37" r="0.81" fill="#b0a8f4"/><circle cx="473.9" cy="207.37" r="1.63" fill="#9a88f0"/><circle cx="418.6" cy="213.94" r="1.79" fill="#9a88f0"/><circle cx="434.0" cy="213.94" r="2.04" fill="#0a1cf0"/><circle cx="453.1" cy="213.94" r="1.79" fill="#c8c0f8"/><circle cx="473.9" cy="213.94" r="1.79" fill="#9a88f0"/><circle cx="418.6" cy="220.52" r="1.14" fill="#b0a0f0"/><circle cx="434.0" cy="220.52" r="1.63" fill="#1030ee"/><circle cx="453.1" cy="220.52" r="0.81" fill="#b0a0f0"/><circle cx="473.9" cy="220.52" r="1.42" fill="#b0a0f0"/><circle cx="418.6" cy="227.09" r="0.81" fill="#c8c0f8"/><circle cx="434.0" cy="227.09" r="1.06" fill="#1030ee"/><circle cx="453.1" cy="227.09" r="0.73" fill="#e0dcf8"/><circle cx="473.9" cy="227.09" r="1.02" fill="#b0a0f0"/><circle cx="418.6" cy="233.67" r="0.77" fill="#e4e0f8"/><circle cx="434.0" cy="233.67" r="0.77" fill="#dcd6f8"/><circle cx="453.1" cy="233.67" r="1.14" fill="#1030ee"/><circle cx="473.9" cy="233.67" r="0.77" fill="#dcd6f8"/><circle cx="418.6" cy="240.24" r="1.55" fill="#9a88f0"/><circle cx="434.0" cy="240.24" r="1.55" fill="#9a88f0"/><circle cx="453.1" cy="240.24" r="1.88" fill="#0a1cf0"/><circle cx="473.9" cy="240.24" r="1.42" fill="#9a88f0"/><circle cx="418.6" cy="246.81" r="1.14" fill="#9a88f0"/><circle cx="434.0" cy="246.81" r="1.22" fill="#9a88f0"/><circle cx="453.1" cy="246.81" r="1.47" fill="#0a1cf0"/><circle cx="473.9" cy="246.81" r="1.14" fill="#a898f0"/><circle cx="418.6" cy="253.39" r="1.71" fill="#9a88f0"/><circle cx="434.0" cy="253.39" r="1.63" fill="#9a88f0"/><circle cx="453.1" cy="253.39" r="1.96" fill="#0a1cf0"/><circle cx="473.9" cy="253.39" r="1.71" fill="#a898f0"/><circle cx="418.6" cy="259.96" r="1.55" fill="#9a88f0"/><circle cx="434.0" cy="259.96" r="1.71" fill="#9a88f0"/><circle cx="453.1" cy="259.96" r="1.14" fill="#9a88f0"/><circle cx="473.9" cy="259.96" r="2.12" fill="#0a1cf0"/><circle cx="418.6" cy="266.54" r="1.79" fill="#c0b0f8"/><circle cx="434.0" cy="266.54" r="1.96" fill="#6a58f0"/><circle cx="453.1" cy="266.54" r="1.71" fill="#b0a0f0"/><circle cx="473.9" cy="266.54" r="2.04" fill="#0a1cf0"/><circle cx="418.6" cy="273.11" r="1.79" fill="#9a88f0"/><circle cx="434.0" cy="273.11" r="1.96" fill="#6a58f0"/><circle cx="453.1" cy="273.11" r="1.71" fill="#d4ccf8"/><circle cx="473.9" cy="273.11" r="2.04" fill="#0a1cf0"/><circle cx="418.6" cy="279.68" r="1.79" fill="#9a88f0"/><circle cx="434.0" cy="279.68" r="1.96" fill="#9080f0"/><circle cx="453.1" cy="279.68" r="1.55" fill="#a898f0"/><circle cx="473.9" cy="279.68" r="2.04" fill="#0a1cf0"/><circle cx="418.6" cy="286.26" r="1.79" fill="#a090f0"/><circle cx="434.0" cy="286.26" r="1.83" fill="#9080f0"/><circle cx="453.1" cy="286.26" r="1.63" fill="#a898f0"/><circle cx="473.9" cy="286.26" r="2.04" fill="#0a1cf0"/><circle cx="418.6" cy="292.83" r="1.63" fill="#9a88f0"/><circle cx="434.0" cy="292.83" r="1.63" fill="#9080f0"/><circle cx="453.1" cy="292.83" r="1.02" fill="#9a88f0"/><circle cx="473.9" cy="292.83" r="2.04" fill="#0a1cf0"/><circle cx="418.6" cy="299.41" r="1.63" fill="#a090f0"/><circle cx="434.0" cy="299.41" r="1.63" fill="#9080f0"/><circle cx="453.1" cy="299.41" r="1.14" fill="#9a88f0"/><circle cx="473.9" cy="299.41" r="2.04" fill="#0a1cf0"/><circle cx="418.6" cy="305.98" r="1.22" fill="#9080f0"/><circle cx="434.0" cy="305.98" r="1.42" fill="#9a88f0"/><circle cx="453.1" cy="305.98" r="0.89" fill="#a898f0"/><circle cx="473.9" cy="305.98" r="2.04" fill="#0a1cf0"/><circle cx="418.6" cy="312.55" r="1.96" fill="#4030f0"/><circle cx="434.0" cy="312.55" r="1.83" fill="#7060f0"/><circle cx="453.1" cy="312.55" r="1.83" fill="#d4dcdc"/><circle cx="473.9" cy="312.55" r="2.04" fill="#2020ee"/><circle cx="418.6" cy="319.13" r="1.79" fill="#a898f0"/><circle cx="434.0" cy="319.13" r="1.83" fill="#6050f0"/><circle cx="453.1" cy="319.13" r="1.71" fill="#c0b0f8"/><circle cx="473.9" cy="319.13" r="2.04" fill="#0a1cf0"/><circle cx="418.6" cy="325.70" r="1.79" fill="#a898f0"/><circle cx="434.0" cy="325.70" r="1.83" fill="#6a58f0"/><circle cx="453.1" cy="325.70" r="1.71" fill="#c0b0f8"/><circle cx="473.9" cy="325.70" r="2.04" fill="#0a1cf0"/></g>
<text x="480.9" y="215.7" font-size="7.2" fill="#222">Percent</text>
<text x="480.9" y="223.4" font-size="7.2" fill="#222" textLength="34.0" lengthAdjust="spacingAndGlyphs">Expressed</text>
<circle cx="484.1" cy="229.4" r="0.6" fill="#111"/>
<text x="496.2" y="231.1" font-size="4.9" fill="#222" text-anchor="end">40</text>
<circle cx="484.1" cy="234.1" r="1.1" fill="#111"/>
<text x="496.2" y="235.8" font-size="4.9" fill="#222" text-anchor="end">60</text>
<circle cx="484.1" cy="238.6" r="1.5" fill="#111"/>
<text x="496.2" y="240.3" font-size="4.9" fill="#222" text-anchor="end">80</text>
<circle cx="484.1" cy="243.1" r="2.0" fill="#111"/>
<text x="496.2" y="244.8" font-size="4.9" fill="#222" text-anchor="end">100</text>
<text x="480.9" y="257.8" font-size="7.2" fill="#222">Average</text>
<text x="480.9" y="264.8" font-size="7.2" fill="#222" textLength="35.0" lengthAdjust="spacingAndGlyphs">Expression</text>
<defs><linearGradient id="gAv" x1="0" y1="0" x2="0" y2="1"><stop offset="0" stop-color="#1818f0"/><stop offset="0.5" stop-color="#8a80f2"/><stop offset="1" stop-color="#ebe8f8"/></linearGradient></defs>
<rect x="481.80" y="268.50" width="4.70" height="22.20" fill="url(#gAv)"/>
<text x="497.3" y="273.0" font-size="5.1" fill="#222" text-anchor="end">1.0</text>
<text x="497.3" y="277.3" font-size="5.1" fill="#222" text-anchor="end">0.5</text>
<text x="497.3" y="281.5" font-size="5.1" fill="#222" text-anchor="end">0.0</text>
<text x="497.3" y="285.9" font-size="5.1" fill="#222" text-anchor="end">−0.5</text>
<text x="497.3" y="290.1" font-size="5.1" fill="#222" text-anchor="end">−1.0</text>
<g shape-rendering="crispEdges"><rect x="28.8" y="365.0" width="18.0" height="1.05" fill="#f1ada9"/><rect x="46.8" y="365.0" width="18.0" height="1.05" fill="#f8d3d1"/><rect x="65.2" y="365.0" width="18.0" height="1.05" fill="#fae2e1"/><rect x="83.2" y="365.0" width="18.0" height="1.05" fill="#fffefe"/><rect x="101.6" y="365.0" width="17.8" height="1.05" fill="#fbe8e7"/><rect x="119.4" y="365.0" width="17.8" height="1.05" fill="#fef7f6"/><rect x="137.6" y="365.0" width="18.0" height="1.05" fill="#aeb8fa"/><rect x="155.6" y="365.0" width="18.0" height="1.05" fill="#8293f7"/><rect x="28.8" y="366.0" width="18.0" height="1.05" fill="#f3b6b3"/><rect x="46.8" y="366.0" width="18.0" height="1.05" fill="#f7d0ce"/><rect x="65.2" y="366.0" width="18.0" height="1.05" fill="#fae3e2"/><rect x="83.2" y="366.0" width="18.0" height="1.05" fill="#f3f4fe"/><rect x="101.6" y="366.0" width="17.8" height="1.05" fill="#fffdfd"/><rect x="119.4" y="366.0" width="17.8" height="1.05" fill="#f5f6fe"/><rect x="137.6" y="366.0" width="18.0" height="1.05" fill="#b6bffa"/><rect x="155.6" y="366.0" width="18.0" height="1.05" fill="#8c9bf8"/><rect x="28.8" y="367.0" width="18.0" height="1.05" fill="#f2b4b0"/><rect x="46.8" y="367.0" width="18.0" height="1.05" fill="#f4bebb"/><rect x="65.2" y="367.0" width="18.0" height="1.05" fill="#f9dddb"/><rect x="83.2" y="367.0" width="18.0" height="1.05" fill="#fdf4f4"/><rect x="101.6" y="367.0" width="17.8" height="1.05" fill="#fdf1f0"/><rect x="119.4" y="367.0" width="17.8" height="1.05" fill="#fefcfc"/><rect x="137.6" y="367.0" width="18.0" height="1.05" fill="#c8cffc"/><rect x="155.6" y="367.0" width="18.0" height="1.05" fill="#a1aef9"/><rect x="28.8" y="368.0" width="18.0" height="1.05" fill="#f3b8b4"/><rect x="46.8" y="368.0" width="18.0" height="1.05" fill="#f5c2bf"/><rect x="65.2" y="368.0" width="18.0" height="1.05" fill="#f7d1cf"/><rect x="83.2" y="368.0" width="18.0" height="1.05" fill="#fef6f6"/><rect x="101.6" y="368.0" width="17.8" height="1.05" fill="#eaedfe"/><rect x="119.4" y="368.0" width="17.8" height="1.05" fill="#fffdfd"/><rect x="137.6" y="368.0" width="18.0" height="1.05" fill="#a9b4fa"/><rect x="155.6" y="368.0" width="18.0" height="1.05" fill="#94a2f8"/><rect x="28.8" y="369.0" width="18.0" height="1.05" fill="#f4bdba"/><rect x="46.8" y="369.0" width="18.0" height="1.05" fill="#f6cac8"/><rect x="65.2" y="369.0" width="18.0" height="1.05" fill="#fae4e3"/><rect x="83.2" y="369.0" width="18.0" height="1.05" fill="#f8f9ff"/><rect x="101.6" y="369.0" width="17.8" height="1.05" fill="#f6f7fe"/><rect x="119.4" y="369.0" width="17.8" height="1.05" fill="#fbe9e9"/><rect x="137.6" y="369.0" width="18.0" height="1.05" fill="#b1bbfa"/><rect x="155.6" y="369.0" width="18.0" height="1.05" fill="#8999f8"/><rect x="28.8" y="370.0" width="18.0" height="1.05" fill="#f9dbd9"/><rect x="46.8" y="370.0" width="18.0" height="1.05" fill="#fae0df"/><rect x="65.2" y="370.0" width="18.0" height="1.05" fill="#fae4e3"/><rect x="83.2" y="370.0" width="18.0" height="1.05" fill="#f5f6fe"/><rect x="101.6" y="370.0" width="17.8" height="1.05" fill="#f1f3fe"/><rect x="119.4" y="370.0" width="17.8" height="1.05" fill="#eaedfe"/><rect x="137.6" y="370.0" width="18.0" height="1.05" fill="#bec7fb"/><rect x="155.6" y="370.0" width="18.0" height="1.05" fill="#6d80f6"/><rect x="28.8" y="371.0" width="18.0" height="0.25" fill="#f4c1be"/><rect x="46.8" y="371.0" width="18.0" height="0.25" fill="#f9dddc"/><rect x="65.2" y="371.0" width="18.0" height="0.25" fill="#fae3e1"/><rect x="83.2" y="371.0" width="18.0" height="0.25" fill="#feffff"/><rect x="101.6" y="371.0" width="17.8" height="0.25" fill="#f6f7fe"/><rect x="119.4" y="371.0" width="17.8" height="0.25" fill="#ffffff"/><rect x="137.6" y="371.0" width="18.0" height="0.25" fill="#aeb9fa"/><rect x="155.6" y="371.0" width="18.0" height="0.25" fill="#788af7"/><rect x="28.8" y="371.8" width="18.0" height="1.05" fill="#ccd3fc"/><rect x="46.8" y="371.8" width="18.0" height="1.05" fill="#cdd4fc"/><rect x="65.2" y="371.8" width="18.0" height="1.05" fill="#f7d1cf"/><rect x="83.2" y="371.8" width="18.0" height="1.05" fill="#ced5fc"/><rect x="101.6" y="371.8" width="17.8" height="1.05" fill="#eaedfe"/><rect x="119.4" y="371.8" width="17.8" height="1.05" fill="#e5e9fd"/><rect x="137.6" y="371.8" width="18.0" height="1.05" fill="#eaedfe"/><rect x="155.6" y="371.8" width="18.0" height="1.05" fill="#c6cdfb"/><rect x="28.8" y="372.8" width="18.0" height="1.05" fill="#fef7f7"/><rect x="46.8" y="372.8" width="18.0" height="1.05" fill="#d2d8fc"/><rect x="65.2" y="372.8" width="18.0" height="1.05" fill="#ed9590"/><rect x="83.2" y="372.8" width="18.0" height="1.05" fill="#e3e7fd"/><rect x="101.6" y="372.8" width="17.8" height="1.05" fill="#fceceb"/><rect x="119.4" y="372.8" width="17.8" height="1.05" fill="#e8ebfe"/><rect x="137.6" y="372.8" width="18.0" height="1.05" fill="#fae3e1"/><rect x="155.6" y="372.8" width="18.0" height="1.05" fill="#fefeff"/><rect x="28.8" y="373.8" width="18.0" height="1.05" fill="#fef8f7"/><rect x="46.8" y="373.8" width="18.0" height="1.05" fill="#dbe0fd"/><rect x="65.2" y="373.8" width="18.0" height="1.05" fill="#f1aaa7"/><rect x="83.2" y="373.8" width="18.0" height="1.05" fill="#dee2fd"/><rect x="101.6" y="373.8" width="17.8" height="1.05" fill="#fadfdd"/><rect x="119.4" y="373.8" width="17.8" height="1.05" fill="#d7ddfd"/><rect x="137.6" y="373.8" width="18.0" height="1.05" fill="#fffdfd"/><rect x="155.6" y="373.8" width="18.0" height="1.05" fill="#fffdfd"/><rect x="28.8" y="374.8" width="18.0" height="1.05" fill="#fef8f8"/><rect x="46.8" y="374.8" width="18.0" height="1.05" fill="#fafaff"/><rect x="65.2" y="374.8" width="18.0" height="1.05" fill="#f0a8a4"/><rect x="83.2" y="374.8" width="18.0" height="1.05" fill="#eef1fe"/><rect x="101.6" y="374.8" width="17.8" height="1.05" fill="#fbeae9"/><rect x="119.4" y="374.8" width="17.8" height="1.05" fill="#f8f9ff"/><rect x="137.6" y="374.8" width="18.0" height="1.05" fill="#fae3e2"/><rect x="155.6" y="374.8" width="18.0" height="1.05" fill="#fefbfb"/><rect x="28.8" y="375.8" width="18.0" height="1.05" fill="#fef7f7"/><rect x="46.8" y="375.8" width="18.0" height="1.05" fill="#d8defd"/><rect x="65.2" y="375.8" width="18.0" height="1.05" fill="#efa29e"/><rect x="83.2" y="375.8" width="18.0" height="1.05" fill="#eef0fe"/><rect x="101.6" y="375.8" width="17.8" height="1.05" fill="#fdf3f3"/><rect x="119.4" y="375.8" width="17.8" height="1.05" fill="#fafaff"/><rect x="137.6" y="375.8" width="18.0" height="1.05" fill="#fbe9e8"/><rect x="155.6" y="375.8" width="18.0" height="1.05" fill="#edf0fe"/><rect x="28.8" y="376.8" width="18.0" height="1.05" fill="#fdf5f4"/><rect x="46.8" y="376.8" width="18.0" height="1.05" fill="#fef6f6"/><rect x="65.2" y="376.8" width="18.0" height="1.05" fill="#f2b5b1"/><rect x="83.2" y="376.8" width="18.0" height="1.05" fill="#f2f4fe"/><rect x="101.6" y="376.8" width="17.8" height="1.05" fill="#fffefe"/><rect x="119.4" y="376.8" width="17.8" height="1.05" fill="#eef0fe"/><rect x="137.6" y="376.8" width="18.0" height="1.05" fill="#f6c9c7"/><rect x="155.6" y="376.8" width="18.0" height="1.05" fill="#d2d8fc"/><rect x="28.8" y="377.8" width="18.0" height="1.05" fill="#fefafa"/><rect x="46.8" y="377.8" width="18.0" height="1.05" fill="#e3e7fd"/><rect x="65.2" y="377.8" width="18.0" height="1.05" fill="#efa29e"/><rect x="83.2" y="377.8" width="18.0" height="1.05" fill="#d4dafc"/><rect x="101.6" y="377.8" width="17.8" height="1.05" fill="#fdf1f0"/><rect x="119.4" y="377.8" width="17.8" height="1.05" fill="#d9defd"/><rect x="137.6" y="377.8" width="18.0" height="1.05" fill="#fef7f6"/><rect x="155.6" y="377.8" width="18.0" height="1.05" fill="#eaedfe"/><rect x="28.8" y="378.8" width="18.0" height="1.05" fill="#fafbff"/><rect x="46.8" y="378.8" width="18.0" height="1.05" fill="#dce0fd"/><rect x="65.2" y="378.8" width="18.0" height="1.05" fill="#f0a8a4"/><rect x="83.2" y="378.8" width="18.0" height="1.05" fill="#f1f2fe"/><rect x="101.6" y="378.8" width="17.8" height="1.05" fill="#fef6f6"/><rect x="119.4" y="378.8" width="17.8" height="1.05" fill="#dde2fd"/><rect x="137.6" y="378.8" width="18.0" height="1.05" fill="#fffcfc"/><rect x="155.6" y="378.8" width="18.0" height="1.05" fill="#fbfbff"/><rect x="28.8" y="379.8" width="18.0" height="1.05" fill="#eff1fe"/><rect x="46.8" y="379.8" width="18.0" height="1.05" fill="#ced5fc"/><rect x="65.2" y="379.8" width="18.0" height="1.05" fill="#f1afac"/><rect x="83.2" y="379.8" width="18.0" height="1.05" fill="#e8ebfe"/><rect x="101.6" y="379.8" width="17.8" height="1.05" fill="#eceefe"/><rect x="119.4" y="379.8" width="17.8" height="1.05" fill="#fefeff"/><rect x="137.6" y="379.8" width="18.0" height="1.05" fill="#fae3e2"/><rect x="155.6" y="379.8" width="18.0" height="1.05" fill="#e0e5fd"/><rect x="28.8" y="380.8" width="18.0" height="1.05" fill="#fefaf9"/><rect x="46.8" y="380.8" width="18.0" height="1.05" fill="#f6f7fe"/><rect x="65.2" y="380.8" width="18.0" height="1.05" fill="#f0a5a1"/><rect x="83.2" y="380.8" width="18.0" height="1.05" fill="#fffdfd"/><rect x="101.6" y="380.8" width="17.8" height="1.05" fill="#fbe6e5"/><rect x="119.4" y="380.8" width="17.8" height="1.05" fill="#e6eafd"/><rect x="137.6" y="380.8" width="18.0" height="1.05" fill="#fceaea"/><rect x="155.6" y="380.8" width="18.0" height="1.05" fill="#d9dffd"/><rect x="28.8" y="381.8" width="18.0" height="1.05" fill="#f2f4fe"/><rect x="46.8" y="381.8" width="18.0" height="1.05" fill="#e2e6fd"/><rect x="65.2" y="381.8" width="18.0" height="1.05" fill="#f0a8a4"/><rect x="83.2" y="381.8" width="18.0" height="1.05" fill="#f3f5fe"/><rect x="101.6" y="381.8" width="17.8" height="1.05" fill="#f5f7fe"/><rect x="119.4" y="381.8" width="17.8" height="1.05" fill="#f7f8fe"/><rect x="137.6" y="381.8" width="18.0" height="1.05" fill="#fceded"/><rect x="155.6" y="381.8" width="18.0" height="1.05" fill="#e0e5fd"/><rect x="28.8" y="382.8" width="18.0" height="1.05" fill="#dde1fd"/><rect x="46.8" y="382.8" width="18.0" height="1.05" fill="#e4e7fd"/><rect x="65.2" y="382.8" width="18.0" height="1.05" fill="#f4bfbc"/><rect x="83.2" y="382.8" width="18.0" height="1.05" fill="#f9faff"/><rect x="101.6" y="382.8" width="17.8" height="1.05" fill="#fefcfc"/><rect x="119.4" y="382.8" width="17.8" height="1.05" fill="#fbfcff"/><rect x="137.6" y="382.8" width="18.0" height="1.05" fill="#fbe6e5"/><rect x="155.6" y="382.8" width="18.0" height="1.05" fill="#eaedfe"/><rect x="28.8" y="383.8" width="18.0" height="1.05" fill="#fdf5f4"/><rect x="46.8" y="383.8" width="18.0" height="1.05" fill="#fefbfb"/><rect x="65.2" y="383.8" width="18.0" height="1.05" fill="#efa09c"/><rect x="83.2" y="383.8" width="18.0" height="1.05" fill="#fbfbff"/><rect x="101.6" y="383.8" width="17.8" height="1.05" fill="#fdf5f4"/><rect x="119.4" y="383.8" width="17.8" height="1.05" fill="#fafbff"/><rect x="137.6" y="383.8" width="18.0" height="1.05" fill="#f8d7d6"/><rect x="155.6" y="383.8" width="18.0" height="1.05" fill="#e7eafd"/><rect x="28.8" y="384.8" width="18.0" height="1.05" fill="#f1f3fe"/><rect x="46.8" y="384.8" width="18.0" height="1.05" fill="#e0e5fd"/><rect x="65.2" y="384.8" width="18.0" height="1.05" fill="#f2b5b2"/><rect x="83.2" y="384.8" width="18.0" height="1.05" fill="#d5dbfc"/><rect x="101.6" y="384.8" width="17.8" height="1.05" fill="#f0f2fe"/><rect x="119.4" y="384.8" width="17.8" height="1.05" fill="#dbe0fd"/><rect x="137.6" y="384.8" width="18.0" height="1.05" fill="#ebeefe"/><rect x="155.6" y="384.8" width="18.0" height="1.05" fill="#d2d8fc"/><rect x="28.8" y="385.8" width="18.0" height="1.05" fill="#fcfdff"/><rect x="46.8" y="385.8" width="18.0" height="1.05" fill="#ebeefe"/><rect x="65.2" y="385.8" width="18.0" height="1.05" fill="#ec8e89"/><rect x="83.2" y="385.8" width="18.0" height="1.05" fill="#fffdfd"/><rect x="101.6" y="385.8" width="17.8" height="1.05" fill="#fae4e3"/><rect x="119.4" y="385.8" width="17.8" height="1.05" fill="#f1f3fe"/><rect x="137.6" y="385.8" width="18.0" height="1.05" fill="#fcebea"/><rect x="155.6" y="385.8" width="18.0" height="1.05" fill="#fceeed"/><rect x="28.8" y="386.8" width="18.0" height="1.05" fill="#fefafa"/><rect x="46.8" y="386.8" width="18.0" height="1.05" fill="#fefeff"/><rect x="65.2" y="386.8" width="18.0" height="1.05" fill="#ef9f9b"/><rect x="83.2" y="386.8" width="18.0" height="1.05" fill="#f0f2fe"/><rect x="101.6" y="386.8" width="17.8" height="1.05" fill="#fcfcff"/><rect x="119.4" y="386.8" width="17.8" height="1.05" fill="#e8ebfe"/><rect x="137.6" y="386.8" width="18.0" height="1.05" fill="#fbe8e7"/><rect x="155.6" y="386.8" width="18.0" height="1.05" fill="#dce1fd"/><rect x="28.8" y="387.8" width="18.0" height="1.05" fill="#e7eafd"/><rect x="46.8" y="387.8" width="18.0" height="1.05" fill="#dce0fd"/><rect x="65.2" y="387.8" width="18.0" height="1.05" fill="#f3b6b3"/><rect x="83.2" y="387.8" width="18.0" height="1.05" fill="#eceffe"/><rect x="101.6" y="387.8" width="17.8" height="1.05" fill="#fdf5f4"/><rect x="119.4" y="387.8" width="17.8" height="1.05" fill="#e6eafd"/><rect x="137.6" y="387.8" width="18.0" height="1.05" fill="#fcefee"/><rect x="155.6" y="387.8" width="18.0" height="1.05" fill="#f4f6fe"/><rect x="28.8" y="388.8" width="18.0" height="1.05" fill="#f1f3fe"/><rect x="46.8" y="388.8" width="18.0" height="1.05" fill="#dee2fd"/><rect x="65.2" y="388.8" width="18.0" height="1.05" fill="#efa39f"/><rect x="83.2" y="388.8" width="18.0" height="1.05" fill="#e5e8fd"/><rect x="101.6" y="388.8" width="17.8" height="1.05" fill="#fceceb"/><rect x="119.4" y="388.8" width="17.8" height="1.05" fill="#d3d9fc"/><rect x="137.6" y="388.8" width="18.0" height="1.05" fill="#fef7f7"/><rect x="155.6" y="388.8" width="18.0" height="1.05" fill="#f7f8fe"/><rect x="28.8" y="389.8" width="18.0" height="1.05" fill="#eef0fe"/><rect x="46.8" y="389.8" width="18.0" height="1.05" fill="#e9ecfe"/><rect x="65.2" y="389.8" width="18.0" height="1.05" fill="#ee9893"/><rect x="83.2" y="389.8" width="18.0" height="1.05" fill="#e1e5fd"/><rect x="101.6" y="389.8" width="17.8" height="1.05" fill="#fdfeff"/><rect x="119.4" y="389.8" width="17.8" height="1.05" fill="#dbdffd"/><rect x="137.6" y="389.8" width="18.0" height="1.05" fill="#fceeee"/><rect x="155.6" y="389.8" width="18.0" height="1.05" fill="#ced5fc"/><rect x="28.8" y="390.8" width="18.0" height="1.05" fill="#e5e8fd"/><rect x="46.8" y="390.8" width="18.0" height="1.05" fill="#e1e5fd"/><rect x="65.2" y="390.8" width="18.0" height="1.05" fill="#ed9792"/><rect x="83.2" y="390.8" width="18.0" height="1.05" fill="#dadffd"/><rect x="101.6" y="390.8" width="17.8" height="1.05" fill="#fdf3f3"/><rect x="119.4" y="390.8" width="17.8" height="1.05" fill="#f6f7fe"/><rect x="137.6" y="390.8" width="18.0" height="1.05" fill="#f8f9ff"/><rect x="155.6" y="390.8" width="18.0" height="1.05" fill="#e2e6fd"/><rect x="28.8" y="391.8" width="18.0" height="1.05" fill="#fafbff"/><rect x="46.8" y="391.8" width="18.0" height="1.05" fill="#eff1fe"/><rect x="65.2" y="391.8" width="18.0" height="1.05" fill="#f1aeab"/><rect x="83.2" y="391.8" width="18.0" height="1.05" fill="#f2f4fe"/><rect x="101.6" y="391.8" width="17.8" height="1.05" fill="#fffdfd"/><rect x="119.4" y="391.8" width="17.8" height="1.05" fill="#e6e9fd"/><rect x="137.6" y="391.8" width="18.0" height="1.05" fill="#fdf1f0"/><rect x="155.6" y="391.8" width="18.0" height="1.05" fill="#fefbfb"/><rect x="28.8" y="392.8" width="18.0" height="1.05" fill="#eef0fe"/><rect x="46.8" y="392.8" width="18.0" height="1.05" fill="#ffffff"/><rect x="65.2" y="392.8" width="18.0" height="1.05" fill="#ee9a96"/><rect x="83.2" y="392.8" width="18.0" height="1.05" fill="#e9ecfe"/><rect x="101.6" y="392.8" width="17.8" height="1.05" fill="#fefeff"/><rect x="119.4" y="392.8" width="17.8" height="1.05" fill="#dde1fd"/><rect x="137.6" y="392.8" width="18.0" height="1.05" fill="#f9dddb"/><rect x="155.6" y="392.8" width="18.0" height="1.05" fill="#dee3fd"/><rect x="28.8" y="393.8" width="18.0" height="1.05" fill="#fefcfc"/><rect x="46.8" y="393.8" width="18.0" height="1.05" fill="#dadffd"/><rect x="65.2" y="393.8" width="18.0" height="1.05" fill="#f2b0ac"/><rect x="83.2" y="393.8" width="18.0" height="1.05" fill="#fefcfc"/><rect x="101.6" y="393.8" width="17.8" height="1.05" fill="#fdf5f5"/><rect x="119.4" y="393.8" width="17.8" height="1.05" fill="#f5f6fe"/><rect x="137.6" y="393.8" width="18.0" height="1.05" fill="#fbeae9"/><rect x="155.6" y="393.8" width="18.0" height="1.05" fill="#f1f3fe"/><rect x="28.8" y="394.8" width="18.0" height="1.05" fill="#fef7f6"/><rect x="46.8" y="394.8" width="18.0" height="1.05" fill="#f2f3fe"/><rect x="65.2" y="394.8" width="18.0" height="1.05" fill="#f1afac"/><rect x="83.2" y="394.8" width="18.0" height="1.05" fill="#d9defd"/><rect x="101.6" y="394.8" width="17.8" height="1.05" fill="#fdf5f4"/><rect x="119.4" y="394.8" width="17.8" height="1.05" fill="#e5e9fd"/><rect x="137.6" y="394.8" width="18.0" height="1.05" fill="#fae4e3"/><rect x="155.6" y="394.8" width="18.0" height="1.05" fill="#d9defd"/><rect x="28.8" y="395.8" width="18.0" height="1.05" fill="#fdf1f1"/><rect x="46.8" y="395.8" width="18.0" height="1.05" fill="#fef7f7"/><rect x="65.2" y="395.8" width="18.0" height="1.05" fill="#ed948f"/><rect x="83.2" y="395.8" width="18.0" height="1.05" fill="#f6f7fe"/><rect x="101.6" y="395.8" width="17.8" height="1.05" fill="#fbe6e5"/><rect x="119.4" y="395.8" width="17.8" height="1.05" fill="#e3e7fd"/><rect x="137.6" y="395.8" width="18.0" height="1.05" fill="#f9d9d7"/><rect x="155.6" y="395.8" width="18.0" height="1.05" fill="#e9ecfe"/><rect x="28.8" y="396.8" width="18.0" height="1.05" fill="#fdf2f1"/><rect x="46.8" y="396.8" width="18.0" height="1.05" fill="#eaedfe"/><rect x="65.2" y="396.8" width="18.0" height="1.05" fill="#f0a7a3"/><rect x="83.2" y="396.8" width="18.0" height="1.05" fill="#fef8f8"/><rect x="101.6" y="396.8" width="17.8" height="1.05" fill="#fceeed"/><rect x="119.4" y="396.8" width="17.8" height="1.05" fill="#fcfdff"/><rect x="137.6" y="396.8" width="18.0" height="1.05" fill="#f9dad8"/><rect x="155.6" y="396.8" width="18.0" height="1.05" fill="#cfd6fc"/><rect x="28.8" y="397.8" width="18.0" height="1.05" fill="#fffefe"/><rect x="46.8" y="397.8" width="18.0" height="1.05" fill="#eef0fe"/><rect x="65.2" y="397.8" width="18.0" height="1.05" fill="#efa09c"/><rect x="83.2" y="397.8" width="18.0" height="1.05" fill="#d7dcfc"/><rect x="101.6" y="397.8" width="17.8" height="1.05" fill="#fef7f7"/><rect x="119.4" y="397.8" width="17.8" height="1.05" fill="#eceefe"/><rect x="137.6" y="397.8" width="18.0" height="1.05" fill="#fae0df"/><rect x="155.6" y="397.8" width="18.0" height="1.05" fill="#f6f7fe"/><rect x="28.8" y="398.8" width="18.0" height="1.05" fill="#f4f6fe"/><rect x="46.8" y="398.8" width="18.0" height="1.05" fill="#e8ebfe"/><rect x="65.2" y="398.8" width="18.0" height="1.05" fill="#f5c1bf"/><rect x="83.2" y="398.8" width="18.0" height="1.05" fill="#fffcfc"/><rect x="101.6" y="398.8" width="17.8" height="1.05" fill="#f3f5fe"/><rect x="119.4" y="398.8" width="17.8" height="1.05" fill="#f6f8fe"/><rect x="137.6" y="398.8" width="18.0" height="1.05" fill="#fcedec"/><rect x="155.6" y="398.8" width="18.0" height="1.05" fill="#fafbff"/><rect x="28.8" y="399.8" width="18.0" height="1.05" fill="#fef7f7"/><rect x="46.8" y="399.8" width="18.0" height="1.05" fill="#d2d8fc"/><rect x="65.2" y="399.8" width="18.0" height="1.05" fill="#efa19c"/><rect x="83.2" y="399.8" width="18.0" height="1.05" fill="#f9faff"/><rect x="101.6" y="399.8" width="17.8" height="1.05" fill="#fcebea"/><rect x="119.4" y="399.8" width="17.8" height="1.05" fill="#dde2fd"/><rect x="137.6" y="399.8" width="18.0" height="1.05" fill="#fbe9e8"/><rect x="155.6" y="399.8" width="18.0" height="1.05" fill="#e0e4fd"/><rect x="28.8" y="400.8" width="18.0" height="1.05" fill="#f5f7fe"/><rect x="46.8" y="400.8" width="18.0" height="1.05" fill="#e4e7fd"/><rect x="65.2" y="400.8" width="18.0" height="1.05" fill="#ef9e9a"/><rect x="83.2" y="400.8" width="18.0" height="1.05" fill="#e9ecfe"/><rect x="101.6" y="400.8" width="17.8" height="1.05" fill="#fbe9e8"/><rect x="119.4" y="400.8" width="17.8" height="1.05" fill="#eef1fe"/><rect x="137.6" y="400.8" width="18.0" height="1.05" fill="#fbe9e8"/><rect x="155.6" y="400.8" width="18.0" height="1.05" fill="#f6f7fe"/><rect x="28.8" y="401.8" width="18.0" height="1.05" fill="#fffefe"/><rect x="46.8" y="401.8" width="18.0" height="1.05" fill="#dee3fd"/><rect x="65.2" y="401.8" width="18.0" height="1.05" fill="#f0a7a3"/><rect x="83.2" y="401.8" width="18.0" height="1.05" fill="#f5f7fe"/><rect x="101.6" y="401.8" width="17.8" height="1.05" fill="#fbe9e9"/><rect x="119.4" y="401.8" width="17.8" height="1.05" fill="#f0f2fe"/><rect x="137.6" y="401.8" width="18.0" height="1.05" fill="#fcebeb"/><rect x="155.6" y="401.8" width="18.0" height="1.05" fill="#d4d9fc"/><rect x="28.8" y="402.8" width="18.0" height="1.05" fill="#fef9f9"/><rect x="46.8" y="402.8" width="18.0" height="1.05" fill="#f6f7fe"/><rect x="65.2" y="402.8" width="18.0" height="1.05" fill="#f1adaa"/><rect x="83.2" y="402.8" width="18.0" height="1.05" fill="#dce0fd"/><rect x="101.6" y="402.8" width="17.8" height="1.05" fill="#fceeee"/><rect x="119.4" y="402.8" width="17.8" height="1.05" fill="#e7ebfe"/><rect x="137.6" y="402.8" width="18.0" height="1.05" fill="#fdf3f3"/><rect x="155.6" y="402.8" width="18.0" height="1.05" fill="#fefeff"/><rect x="28.8" y="403.8" width="18.0" height="1.05" fill="#fef8f7"/><rect x="46.8" y="403.8" width="18.0" height="1.05" fill="#eef0fe"/><rect x="65.2" y="403.8" width="18.0" height="1.05" fill="#f1aba7"/><rect x="83.2" y="403.8" width="18.0" height="1.05" fill="#fffdfd"/><rect x="101.6" y="403.8" width="17.8" height="1.05" fill="#fef6f6"/><rect x="119.4" y="403.8" width="17.8" height="1.05" fill="#e8ebfe"/><rect x="137.6" y="403.8" width="18.0" height="1.05" fill="#fbe5e4"/><rect x="155.6" y="403.8" width="18.0" height="1.05" fill="#d9defd"/><rect x="28.8" y="404.8" width="18.0" height="0.25" fill="#fbe6e5"/><rect x="46.8" y="404.8" width="18.0" height="0.25" fill="#f6f7fe"/><rect x="65.2" y="404.8" width="18.0" height="0.25" fill="#f3b7b3"/><rect x="83.2" y="404.8" width="18.0" height="0.25" fill="#f0f2fe"/><rect x="101.6" y="404.8" width="17.8" height="0.25" fill="#fef7f7"/><rect x="119.4" y="404.8" width="17.8" height="0.25" fill="#f5f6fe"/><rect x="137.6" y="404.8" width="18.0" height="0.25" fill="#fef7f6"/><rect x="155.6" y="404.8" width="18.0" height="0.25" fill="#cbd2fc"/><rect x="28.8" y="405.0" width="18.0" height="1.05" fill="#e8ebfe"/><rect x="46.8" y="405.0" width="18.0" height="1.05" fill="#fcf0f0"/><rect x="65.2" y="405.0" width="18.0" height="1.05" fill="#fdf3f2"/><rect x="83.2" y="405.0" width="18.0" height="1.05" fill="#f4bebb"/><rect x="101.6" y="405.0" width="17.8" height="1.05" fill="#b1bbfa"/><rect x="119.4" y="405.0" width="17.8" height="1.05" fill="#fcf0ef"/><rect x="137.6" y="405.0" width="18.0" height="1.05" fill="#c5ccfb"/><rect x="155.6" y="405.0" width="18.0" height="1.05" fill="#fae3e2"/><rect x="28.8" y="406.0" width="18.0" height="1.05" fill="#c1c9fb"/><rect x="46.8" y="406.0" width="18.0" height="1.05" fill="#fef6f6"/><rect x="65.2" y="406.0" width="18.0" height="1.05" fill="#e0e4fd"/><rect x="83.2" y="406.0" width="18.0" height="1.05" fill="#f1afab"/><rect x="101.6" y="406.0" width="17.8" height="1.05" fill="#9facf9"/><rect x="119.4" y="406.0" width="17.8" height="1.05" fill="#fceeed"/><rect x="137.6" y="406.0" width="18.0" height="1.05" fill="#c0c9fb"/><rect x="155.6" y="406.0" width="18.0" height="1.05" fill="#fbe6e5"/><rect x="28.8" y="407.0" width="18.0" height="1.05" fill="#e3e6fd"/><rect x="46.8" y="407.0" width="18.0" height="1.05" fill="#fffdfc"/><rect x="65.2" y="407.0" width="18.0" height="1.05" fill="#fffefe"/><rect x="83.2" y="407.0" width="18.0" height="1.05" fill="#f3bab7"/><rect x="101.6" y="407.0" width="17.8" height="1.05" fill="#c2cafb"/><rect x="119.4" y="407.0" width="17.8" height="1.05" fill="#fbe7e6"/><rect x="137.6" y="407.0" width="18.0" height="1.05" fill="#dde2fd"/><rect x="155.6" y="407.0" width="18.0" height="1.05" fill="#fae1e0"/><rect x="28.8" y="408.0" width="18.0" height="1.05" fill="#d6dcfc"/><rect x="46.8" y="408.0" width="18.0" height="1.05" fill="#fbe9e8"/><rect x="65.2" y="408.0" width="18.0" height="1.05" fill="#fcfdff"/><rect x="83.2" y="408.0" width="18.0" height="1.05" fill="#f4bdba"/><rect x="101.6" y="408.0" width="17.8" height="1.05" fill="#c3cbfb"/><rect x="119.4" y="408.0" width="17.8" height="1.05" fill="#f9dbda"/><rect x="137.6" y="408.0" width="18.0" height="1.05" fill="#dde2fd"/><rect x="155.6" y="408.0" width="18.0" height="1.05" fill="#fbe9e8"/><rect x="28.8" y="409.0" width="18.0" height="1.05" fill="#f4f5fe"/><rect x="46.8" y="409.0" width="18.0" height="1.05" fill="#fcefee"/><rect x="65.2" y="409.0" width="18.0" height="1.05" fill="#fef8f8"/><rect x="83.2" y="409.0" width="18.0" height="1.05" fill="#f3b8b5"/><rect x="101.6" y="409.0" width="17.8" height="1.05" fill="#c2cafb"/><rect x="119.4" y="409.0" width="17.8" height="1.05" fill="#fbe5e3"/><rect x="137.6" y="409.0" width="18.0" height="1.05" fill="#c8cffc"/><rect x="155.6" y="409.0" width="18.0" height="1.05" fill="#fae3e2"/><rect x="28.8" y="410.0" width="18.0" height="1.05" fill="#c9d0fc"/><rect x="46.8" y="410.0" width="18.0" height="1.05" fill="#fcefef"/><rect x="65.2" y="410.0" width="18.0" height="1.05" fill="#eff1fe"/><rect x="83.2" y="410.0" width="18.0" height="1.05" fill="#f3bbb8"/><rect x="101.6" y="410.0" width="17.8" height="1.05" fill="#bec7fb"/><rect x="119.4" y="410.0" width="17.8" height="1.05" fill="#fdf3f2"/><rect x="137.6" y="410.0" width="18.0" height="1.05" fill="#d9defd"/><rect x="155.6" y="410.0" width="18.0" height="1.05" fill="#fdf6f5"/><rect x="28.8" y="411.0" width="18.0" height="1.05" fill="#f7f8fe"/><rect x="46.8" y="411.0" width="18.0" height="1.05" fill="#fbe9e8"/><rect x="65.2" y="411.0" width="18.0" height="1.05" fill="#dce1fd"/><rect x="83.2" y="411.0" width="18.0" height="1.05" fill="#f4bebb"/><rect x="101.6" y="411.0" width="17.8" height="1.05" fill="#b1bbfa"/><rect x="119.4" y="411.0" width="17.8" height="1.05" fill="#fffefe"/><rect x="137.6" y="411.0" width="18.0" height="1.05" fill="#e1e5fd"/><rect x="155.6" y="411.0" width="18.0" height="1.05" fill="#fceeed"/><rect x="28.8" y="412.0" width="18.0" height="1.05" fill="#dfe3fd"/><rect x="46.8" y="412.0" width="18.0" height="1.05" fill="#fdf3f3"/><rect x="65.2" y="412.0" width="18.0" height="1.05" fill="#e4e8fd"/><rect x="83.2" y="412.0" width="18.0" height="1.05" fill="#f8d3d1"/><rect x="101.6" y="412.0" width="17.8" height="1.05" fill="#9daaf9"/><rect x="119.4" y="412.0" width="17.8" height="1.05" fill="#fbeae9"/><rect x="137.6" y="412.0" width="18.0" height="1.05" fill="#dfe3fd"/><rect x="155.6" y="412.0" width="18.0" height="1.05" fill="#fceeee"/><rect x="28.8" y="413.0" width="18.0" height="1.05" fill="#c6cdfb"/><rect x="46.8" y="413.0" width="18.0" height="1.05" fill="#fdf5f4"/><rect x="65.2" y="413.0" width="18.0" height="1.05" fill="#cfd5fc"/><rect x="83.2" y="413.0" width="18.0" height="1.05" fill="#f1afab"/><rect x="101.6" y="413.0" width="17.8" height="1.05" fill="#91a0f8"/><rect x="119.4" y="413.0" width="17.8" height="1.05" fill="#fdf5f5"/><rect x="137.6" y="413.0" width="18.0" height="1.05" fill="#b2bcfa"/><rect x="155.6" y="413.0" width="18.0" height="1.05" fill="#fceceb"/><rect x="28.8" y="414.0" width="18.0" height="1.05" fill="#c4ccfb"/><rect x="46.8" y="414.0" width="18.0" height="1.05" fill="#fbe7e6"/><rect x="65.2" y="414.0" width="18.0" height="1.05" fill="#d6dbfc"/><rect x="83.2" y="414.0" width="18.0" height="1.05" fill="#f4bfbc"/><rect x="101.6" y="414.0" width="17.8" height="1.05" fill="#b0bafa"/><rect x="119.4" y="414.0" width="17.8" height="1.05" fill="#fcefee"/><rect x="137.6" y="414.0" width="18.0" height="1.05" fill="#aeb9fa"/><rect x="155.6" y="414.0" width="18.0" height="1.05" fill="#fcecec"/><rect x="28.8" y="415.0" width="18.0" height="1.05" fill="#edf0fe"/><rect x="46.8" y="415.0" width="18.0" height="1.05" fill="#ffffff"/><rect x="65.2" y="415.0" width="18.0" height="1.05" fill="#fefeff"/><rect x="83.2" y="415.0" width="18.0" height="1.05" fill="#f2b1ad"/><rect x="101.6" y="415.0" width="17.8" height="1.05" fill="#adb8fa"/><rect x="119.4" y="415.0" width="17.8" height="1.05" fill="#fdf2f1"/><rect x="137.6" y="415.0" width="18.0" height="1.05" fill="#d8ddfd"/><rect x="155.6" y="415.0" width="18.0" height="1.05" fill="#fdf4f4"/><rect x="28.8" y="416.0" width="18.0" height="1.05" fill="#d0d6fc"/><rect x="46.8" y="416.0" width="18.0" height="1.05" fill="#fcecec"/><rect x="65.2" y="416.0" width="18.0" height="1.05" fill="#fcfcff"/><rect x="83.2" y="416.0" width="18.0" height="1.05" fill="#f5c5c2"/><rect x="101.6" y="416.0" width="17.8" height="1.05" fill="#b2bcfa"/><rect x="119.4" y="416.0" width="17.8" height="1.05" fill="#fcebea"/><rect x="137.6" y="416.0" width="18.0" height="1.05" fill="#e8ebfe"/><rect x="155.6" y="416.0" width="18.0" height="1.05" fill="#fdf5f5"/><rect x="28.8" y="417.0" width="18.0" height="1.05" fill="#e6e9fd"/><rect x="46.8" y="417.0" width="18.0" height="1.05" fill="#fae1e0"/><rect x="65.2" y="417.0" width="18.0" height="1.05" fill="#fefaf9"/><rect x="83.2" y="417.0" width="18.0" height="1.05" fill="#f1aaa7"/><rect x="101.6" y="417.0" width="17.8" height="1.05" fill="#bec7fb"/><rect x="119.4" y="417.0" width="17.8" height="1.05" fill="#fcf0ef"/><rect x="137.6" y="417.0" width="18.0" height="1.05" fill="#f9faff"/><rect x="155.6" y="417.0" width="18.0" height="1.05" fill="#f8d7d5"/><rect x="28.8" y="418.0" width="18.0" height="1.05" fill="#dbe0fd"/><rect x="46.8" y="418.0" width="18.0" height="1.05" fill="#fcefee"/><rect x="65.2" y="418.0" width="18.0" height="1.05" fill="#e1e5fd"/><rect x="83.2" y="418.0" width="18.0" height="1.05" fill="#f4bfbc"/><rect x="101.6" y="418.0" width="17.8" height="1.05" fill="#bac3fb"/><rect x="119.4" y="418.0" width="17.8" height="1.05" fill="#fae3e2"/><rect x="137.6" y="418.0" width="18.0" height="1.05" fill="#d1d7fc"/><rect x="155.6" y="418.0" width="18.0" height="1.05" fill="#fdf6f6"/><rect x="28.8" y="419.0" width="18.0" height="1.05" fill="#cad1fc"/><rect x="46.8" y="419.0" width="18.0" height="1.05" fill="#fcebea"/><rect x="65.2" y="419.0" width="18.0" height="1.05" fill="#ebedfe"/><rect x="83.2" y="419.0" width="18.0" height="1.05" fill="#f6c7c5"/><rect x="101.6" y="419.0" width="17.8" height="1.05" fill="#99a6f9"/><rect x="119.4" y="419.0" width="17.8" height="1.05" fill="#fceeee"/><rect x="137.6" y="419.0" width="18.0" height="1.05" fill="#ced5fc"/><rect x="155.6" y="419.0" width="18.0" height="1.05" fill="#fae0df"/><rect x="28.8" y="420.0" width="18.0" height="1.05" fill="#f1f3fe"/><rect x="46.8" y="420.0" width="18.0" height="1.05" fill="#fceceb"/><rect x="65.2" y="420.0" width="18.0" height="1.05" fill="#fef9f8"/><rect x="83.2" y="420.0" width="18.0" height="1.05" fill="#f3b8b4"/><rect x="101.6" y="420.0" width="17.8" height="1.05" fill="#bbc4fb"/><rect x="119.4" y="420.0" width="17.8" height="1.05" fill="#f9dbd9"/><rect x="137.6" y="420.0" width="18.0" height="1.05" fill="#eef0fe"/><rect x="155.6" y="420.0" width="18.0" height="1.05" fill="#f9dcda"/><rect x="28.8" y="421.0" width="18.0" height="1.05" fill="#eaedfe"/><rect x="46.8" y="421.0" width="18.0" height="1.05" fill="#f9dcdb"/><rect x="65.2" y="421.0" width="18.0" height="1.05" fill="#fef9f9"/><rect x="83.2" y="421.0" width="18.0" height="1.05" fill="#f0a8a5"/><rect x="101.6" y="421.0" width="17.8" height="1.05" fill="#cad1fc"/><rect x="119.4" y="421.0" width="17.8" height="1.05" fill="#fadfde"/><rect x="137.6" y="421.0" width="18.0" height="1.05" fill="#d2d8fc"/><rect x="155.6" y="421.0" width="18.0" height="1.05" fill="#fdf2f1"/><rect x="28.8" y="422.0" width="18.0" height="1.05" fill="#e7eafd"/><rect x="46.8" y="422.0" width="18.0" height="1.05" fill="#fdf1f0"/><rect x="65.2" y="422.0" width="18.0" height="1.05" fill="#f5f7fe"/><rect x="83.2" y="422.0" width="18.0" height="1.05" fill="#f4c1be"/><rect x="101.6" y="422.0" width="17.8" height="1.05" fill="#c4ccfb"/><rect x="119.4" y="422.0" width="17.8" height="1.05" fill="#fbe7e6"/><rect x="137.6" y="422.0" width="18.0" height="1.05" fill="#eceffe"/><rect x="155.6" y="422.0" width="18.0" height="1.05" fill="#fcf0ef"/><rect x="28.8" y="423.0" width="18.0" height="0.25" fill="#dfe3fd"/><rect x="46.8" y="423.0" width="18.0" height="0.25" fill="#fadfde"/><rect x="65.2" y="423.0" width="18.0" height="0.25" fill="#fdfdff"/><rect x="83.2" y="423.0" width="18.0" height="0.25" fill="#f2b0ac"/><rect x="101.6" y="423.0" width="17.8" height="0.25" fill="#9caaf9"/><rect x="119.4" y="423.0" width="17.8" height="0.25" fill="#fdf5f5"/><rect x="137.6" y="423.0" width="18.0" height="0.25" fill="#bfc8fb"/><rect x="155.6" y="423.0" width="18.0" height="0.25" fill="#fceeee"/><rect x="28.8" y="423.6" width="18.0" height="1.05" fill="#e4e8fd"/><rect x="46.8" y="423.6" width="18.0" height="1.05" fill="#fcfdff"/><rect x="65.2" y="423.6" width="18.0" height="1.05" fill="#fae1e0"/><rect x="83.2" y="423.6" width="18.0" height="1.05" fill="#dadffd"/><rect x="101.6" y="423.6" width="17.8" height="1.05" fill="#ee9994"/><rect x="119.4" y="423.6" width="17.8" height="1.05" fill="#efa39f"/><rect x="137.6" y="423.6" width="18.0" height="1.05" fill="#f0f2fe"/><rect x="155.6" y="423.6" width="18.0" height="1.05" fill="#fbe7e6"/><rect x="28.8" y="424.6" width="18.0" height="1.05" fill="#c6cefb"/><rect x="46.8" y="424.6" width="18.0" height="1.05" fill="#f7f8ff"/><rect x="65.2" y="424.6" width="18.0" height="1.05" fill="#fdfdff"/><rect x="83.2" y="424.6" width="18.0" height="1.05" fill="#d9defd"/><rect x="101.6" y="424.6" width="17.8" height="1.05" fill="#f0a4a0"/><rect x="119.4" y="424.6" width="17.8" height="1.05" fill="#f4bdba"/><rect x="137.6" y="424.6" width="18.0" height="1.05" fill="#d4dafc"/><rect x="155.6" y="424.6" width="18.0" height="1.05" fill="#eef1fe"/><rect x="28.8" y="425.6" width="18.0" height="0.25" fill="#ebeefe"/><rect x="46.8" y="425.6" width="18.0" height="0.25" fill="#fcfcff"/><rect x="65.2" y="425.6" width="18.0" height="0.25" fill="#f6f8fe"/><rect x="83.2" y="425.6" width="18.0" height="0.25" fill="#d3d9fc"/><rect x="101.6" y="425.6" width="17.8" height="0.25" fill="#ef9e9a"/><rect x="119.4" y="425.6" width="17.8" height="0.25" fill="#f0a9a5"/><rect x="137.6" y="425.6" width="18.0" height="0.25" fill="#edeffe"/><rect x="155.6" y="425.6" width="18.0" height="0.25" fill="#fcefee"/><rect x="28.8" y="426.2" width="18.0" height="1.05" fill="#e1e5fd"/><rect x="46.8" y="426.2" width="18.0" height="1.05" fill="#d4dafc"/><rect x="65.2" y="426.2" width="18.0" height="1.05" fill="#fbeae9"/><rect x="83.2" y="426.2" width="18.0" height="1.05" fill="#fae3e1"/><rect x="101.6" y="426.2" width="17.8" height="1.05" fill="#c7cefb"/><rect x="119.4" y="426.2" width="17.8" height="1.05" fill="#f5f6fe"/><rect x="137.6" y="426.2" width="18.0" height="1.05" fill="#f4bdba"/><rect x="155.6" y="426.2" width="18.0" height="1.05" fill="#f2b1ae"/><rect x="28.8" y="427.2" width="18.0" height="1.05" fill="#dbe0fd"/><rect x="46.8" y="427.2" width="18.0" height="1.05" fill="#cad1fc"/><rect x="65.2" y="427.2" width="18.0" height="1.05" fill="#fdf6f6"/><rect x="83.2" y="427.2" width="18.0" height="1.05" fill="#fefbfb"/><rect x="101.6" y="427.2" width="17.8" height="1.05" fill="#95a3f8"/><rect x="119.4" y="427.2" width="17.8" height="1.05" fill="#ccd3fc"/><rect x="137.6" y="427.2" width="18.0" height="1.05" fill="#f6c8c5"/><rect x="155.6" y="427.2" width="18.0" height="1.05" fill="#f3bab7"/><rect x="28.8" y="428.2" width="18.0" height="1.05" fill="#dde2fd"/><rect x="46.8" y="428.2" width="18.0" height="1.05" fill="#fdfdff"/><rect x="65.2" y="428.2" width="18.0" height="1.05" fill="#fae1e0"/><rect x="83.2" y="428.2" width="18.0" height="1.05" fill="#f7d2d0"/><rect x="101.6" y="428.2" width="17.8" height="1.05" fill="#b4befa"/><rect x="119.4" y="428.2" width="17.8" height="1.05" fill="#f0f2fe"/><rect x="137.6" y="428.2" width="18.0" height="1.05" fill="#f1aaa7"/><rect x="155.6" y="428.2" width="18.0" height="1.05" fill="#f2afac"/><rect x="28.8" y="429.2" width="18.0" height="1.05" fill="#d3d9fc"/><rect x="46.8" y="429.2" width="18.0" height="1.05" fill="#e7eafe"/><rect x="65.2" y="429.2" width="18.0" height="1.05" fill="#fdf4f4"/><rect x="83.2" y="429.2" width="18.0" height="1.05" fill="#fcefef"/><rect x="101.6" y="429.2" width="17.8" height="1.05" fill="#abb6fa"/><rect x="119.4" y="429.2" width="17.8" height="1.05" fill="#e6eafd"/><rect x="137.6" y="429.2" width="18.0" height="1.05" fill="#f5c1bf"/><rect x="155.6" y="429.2" width="18.0" height="1.05" fill="#f3b9b6"/><rect x="28.8" y="430.2" width="18.0" height="1.05" fill="#c5cdfb"/><rect x="46.8" y="430.2" width="18.0" height="1.05" fill="#dde1fd"/><rect x="65.2" y="430.2" width="18.0" height="1.05" fill="#fdf2f2"/><rect x="83.2" y="430.2" width="18.0" height="1.05" fill="#fdf4f3"/><rect x="101.6" y="430.2" width="17.8" height="1.05" fill="#a8b4fa"/><rect x="119.4" y="430.2" width="17.8" height="1.05" fill="#fffcfc"/><rect x="137.6" y="430.2" width="18.0" height="1.05" fill="#f2b2af"/><rect x="155.6" y="430.2" width="18.0" height="1.05" fill="#f3b8b5"/><rect x="28.8" y="431.2" width="18.0" height="1.05" fill="#b7c0fa"/><rect x="46.8" y="431.2" width="18.0" height="1.05" fill="#d2d8fc"/><rect x="65.2" y="431.2" width="18.0" height="1.05" fill="#e7eafe"/><rect x="83.2" y="431.2" width="18.0" height="1.05" fill="#fbeae9"/><rect x="101.6" y="431.2" width="17.8" height="1.05" fill="#a1aef9"/><rect x="119.4" y="431.2" width="17.8" height="1.05" fill="#ebeefe"/><rect x="137.6" y="431.2" width="18.0" height="1.05" fill="#f4bfbd"/><rect x="155.6" y="431.2" width="18.0" height="1.05" fill="#f7cecc"/><rect x="28.8" y="432.2" width="18.0" height="1.05" fill="#f2f3fe"/><rect x="46.8" y="432.2" width="18.0" height="1.05" fill="#fffdfc"/><rect x="65.2" y="432.2" width="18.0" height="1.05" fill="#fbeae9"/><rect x="83.2" y="432.2" width="18.0" height="1.05" fill="#fbe8e7"/><rect x="101.6" y="432.2" width="17.8" height="1.05" fill="#c3cbfb"/><rect x="119.4" y="432.2" width="17.8" height="1.05" fill="#fef7f6"/><rect x="137.6" y="432.2" width="18.0" height="1.05" fill="#f3b8b5"/><rect x="155.6" y="432.2" width="18.0" height="1.05" fill="#f3b8b5"/><rect x="28.8" y="433.2" width="18.0" height="1.05" fill="#bec7fb"/><rect x="46.8" y="433.2" width="18.0" height="1.05" fill="#fffdfd"/><rect x="65.2" y="433.2" width="18.0" height="1.05" fill="#fefafa"/><rect x="83.2" y="433.2" width="18.0" height="1.05" fill="#f9dedc"/><rect x="101.6" y="433.2" width="17.8" height="1.05" fill="#b4befa"/><rect x="119.4" y="433.2" width="17.8" height="1.05" fill="#e2e6fd"/><rect x="137.6" y="433.2" width="18.0" height="1.05" fill="#f5c1bf"/><rect x="155.6" y="433.2" width="18.0" height="1.05" fill="#f0a5a2"/><rect x="28.8" y="434.2" width="18.0" height="1.05" fill="#bfc7fb"/><rect x="46.8" y="434.2" width="18.0" height="1.05" fill="#eff1fe"/><rect x="65.2" y="434.2" width="18.0" height="1.05" fill="#fdf6f6"/><rect x="83.2" y="434.2" width="18.0" height="1.05" fill="#fbe8e7"/><rect x="101.6" y="434.2" width="17.8" height="1.05" fill="#a8b3fa"/><rect x="119.4" y="434.2" width="17.8" height="1.05" fill="#e7eafd"/><rect x="137.6" y="434.2" width="18.0" height="1.05" fill="#f3b7b4"/><rect x="155.6" y="434.2" width="18.0" height="1.05" fill="#f3b8b5"/><rect x="28.8" y="435.2" width="18.0" height="1.05" fill="#cbd2fc"/><rect x="46.8" y="435.2" width="18.0" height="1.05" fill="#f0f2fe"/><rect x="65.2" y="435.2" width="18.0" height="1.05" fill="#fefafa"/><rect x="83.2" y="435.2" width="18.0" height="1.05" fill="#fcebea"/><rect x="101.6" y="435.2" width="17.8" height="1.05" fill="#aab6fa"/><rect x="119.4" y="435.2" width="17.8" height="1.05" fill="#d3d9fc"/><rect x="137.6" y="435.2" width="18.0" height="1.05" fill="#f4bbb8"/><rect x="155.6" y="435.2" width="18.0" height="1.05" fill="#f5c1be"/><rect x="28.8" y="436.2" width="18.0" height="1.05" fill="#b8c2fb"/><rect x="46.8" y="436.2" width="18.0" height="1.05" fill="#f0f2fe"/><rect x="65.2" y="436.2" width="18.0" height="1.05" fill="#fdf3f2"/><rect x="83.2" y="436.2" width="18.0" height="1.05" fill="#fcebea"/><rect x="101.6" y="436.2" width="17.8" height="1.05" fill="#9dabf9"/><rect x="119.4" y="436.2" width="17.8" height="1.05" fill="#c1cafb"/><rect x="137.6" y="436.2" width="18.0" height="1.05" fill="#f3b9b6"/><rect x="155.6" y="436.2" width="18.0" height="1.05" fill="#f4bdba"/><rect x="28.8" y="437.2" width="18.0" height="1.05" fill="#c6cefb"/><rect x="46.8" y="437.2" width="18.0" height="1.05" fill="#dbe0fd"/><rect x="65.2" y="437.2" width="18.0" height="1.05" fill="#eff2fe"/><rect x="83.2" y="437.2" width="18.0" height="1.05" fill="#fbe9e8"/><rect x="101.6" y="437.2" width="17.8" height="1.05" fill="#b4befa"/><rect x="119.4" y="437.2" width="17.8" height="1.05" fill="#eceefe"/><rect x="137.6" y="437.2" width="18.0" height="1.05" fill="#f5c2bf"/><rect x="155.6" y="437.2" width="18.0" height="1.05" fill="#f5c6c4"/><rect x="28.8" y="438.2" width="18.0" height="1.05" fill="#c2cafb"/><rect x="46.8" y="438.2" width="18.0" height="1.05" fill="#f7f8ff"/><rect x="65.2" y="438.2" width="18.0" height="1.05" fill="#fdf3f3"/><rect x="83.2" y="438.2" width="18.0" height="1.05" fill="#fdf3f2"/><rect x="101.6" y="438.2" width="17.8" height="1.05" fill="#a9b4fa"/><rect x="119.4" y="438.2" width="17.8" height="1.05" fill="#e5e9fd"/><rect x="137.6" y="438.2" width="18.0" height="1.05" fill="#f5c3c1"/><rect x="155.6" y="438.2" width="18.0" height="1.05" fill="#f3bbb8"/><rect x="28.8" y="439.2" width="18.0" height="1.05" fill="#cfd6fc"/><rect x="46.8" y="439.2" width="18.0" height="1.05" fill="#d9defd"/><rect x="65.2" y="439.2" width="18.0" height="1.05" fill="#fef7f6"/><rect x="83.2" y="439.2" width="18.0" height="1.05" fill="#fae0de"/><rect x="101.6" y="439.2" width="17.8" height="1.05" fill="#9ca9f9"/><rect x="119.4" y="439.2" width="17.8" height="1.05" fill="#dee3fd"/><rect x="137.6" y="439.2" width="18.0" height="1.05" fill="#f4bcb9"/><rect x="155.6" y="439.2" width="18.0" height="1.05" fill="#f2b5b2"/><rect x="28.8" y="440.2" width="18.0" height="1.05" fill="#dce1fd"/><rect x="46.8" y="440.2" width="18.0" height="1.05" fill="#dfe3fd"/><rect x="65.2" y="440.2" width="18.0" height="1.05" fill="#fdf6f6"/><rect x="83.2" y="440.2" width="18.0" height="1.05" fill="#fbe7e6"/><rect x="101.6" y="440.2" width="17.8" height="1.05" fill="#97a5f8"/><rect x="119.4" y="440.2" width="17.8" height="1.05" fill="#f0f2fe"/><rect x="137.6" y="440.2" width="18.0" height="1.05" fill="#f2b3af"/><rect x="155.6" y="440.2" width="18.0" height="1.05" fill="#f5c6c3"/><rect x="28.8" y="441.2" width="18.0" height="1.05" fill="#cad1fc"/><rect x="46.8" y="441.2" width="18.0" height="1.05" fill="#e2e6fd"/><rect x="65.2" y="441.2" width="18.0" height="1.05" fill="#fcebeb"/><rect x="83.2" y="441.2" width="18.0" height="1.05" fill="#feffff"/><rect x="101.6" y="441.2" width="17.8" height="1.05" fill="#bcc5fb"/><rect x="119.4" y="441.2" width="17.8" height="1.05" fill="#e9ecfe"/><rect x="137.6" y="441.2" width="18.0" height="1.05" fill="#f3bab7"/><rect x="155.6" y="441.2" width="18.0" height="1.05" fill="#efa19d"/><rect x="28.8" y="442.2" width="18.0" height="1.05" fill="#bac3fb"/><rect x="46.8" y="442.2" width="18.0" height="1.05" fill="#eaedfe"/><rect x="65.2" y="442.2" width="18.0" height="1.05" fill="#fdf5f4"/><rect x="83.2" y="442.2" width="18.0" height="1.05" fill="#fdf5f4"/><rect x="101.6" y="442.2" width="17.8" height="1.05" fill="#8c9cf8"/><rect x="119.4" y="442.2" width="17.8" height="1.05" fill="#c4ccfb"/><rect x="137.6" y="442.2" width="18.0" height="1.05" fill="#f1ada9"/><rect x="155.6" y="442.2" width="18.0" height="1.05" fill="#f6c8c6"/><rect x="28.8" y="443.2" width="18.0" height="1.05" fill="#f1f2fe"/><rect x="46.8" y="443.2" width="18.0" height="1.05" fill="#d2d8fc"/><rect x="65.2" y="443.2" width="18.0" height="1.05" fill="#fbe6e5"/><rect x="83.2" y="443.2" width="18.0" height="1.05" fill="#fadfdd"/><rect x="101.6" y="443.2" width="17.8" height="1.05" fill="#d0d6fc"/><rect x="119.4" y="443.2" width="17.8" height="1.05" fill="#fffefe"/><rect x="137.6" y="443.2" width="18.0" height="1.05" fill="#efa39f"/><rect x="155.6" y="443.2" width="18.0" height="1.05" fill="#f2b0ad"/><rect x="28.8" y="444.2" width="18.0" height="1.05" fill="#d0d6fc"/><rect x="46.8" y="444.2" width="18.0" height="1.05" fill="#eef0fe"/><rect x="65.2" y="444.2" width="18.0" height="1.05" fill="#fffefe"/><rect x="83.2" y="444.2" width="18.0" height="1.05" fill="#fef8f8"/><rect x="101.6" y="444.2" width="17.8" height="1.05" fill="#cfd6fc"/><rect x="119.4" y="444.2" width="17.8" height="1.05" fill="#eff2fe"/><rect x="137.6" y="444.2" width="18.0" height="1.05" fill="#f2b1ad"/><rect x="155.6" y="444.2" width="18.0" height="1.05" fill="#f3bab7"/><rect x="28.8" y="445.2" width="18.0" height="1.05" fill="#c6cefb"/><rect x="46.8" y="445.2" width="18.0" height="1.05" fill="#d6dcfc"/><rect x="65.2" y="445.2" width="18.0" height="1.05" fill="#ffffff"/><rect x="83.2" y="445.2" width="18.0" height="1.05" fill="#fefeff"/><rect x="101.6" y="445.2" width="17.8" height="1.05" fill="#b0bbfa"/><rect x="119.4" y="445.2" width="17.8" height="1.05" fill="#e2e6fd"/><rect x="137.6" y="445.2" width="18.0" height="1.05" fill="#f3b8b5"/><rect x="155.6" y="445.2" width="18.0" height="1.05" fill="#f3bab7"/><rect x="28.8" y="446.2" width="18.0" height="1.05" fill="#ebeefe"/><rect x="46.8" y="446.2" width="18.0" height="1.05" fill="#f0f2fe"/><rect x="65.2" y="446.2" width="18.0" height="1.05" fill="#fdf2f2"/><rect x="83.2" y="446.2" width="18.0" height="1.05" fill="#fbe7e6"/><rect x="101.6" y="446.2" width="17.8" height="1.05" fill="#a5b1f9"/><rect x="119.4" y="446.2" width="17.8" height="1.05" fill="#e9ecfe"/><rect x="137.6" y="446.2" width="18.0" height="1.05" fill="#f5c6c4"/><rect x="155.6" y="446.2" width="18.0" height="1.05" fill="#f2b0ad"/><rect x="28.8" y="447.2" width="18.0" height="1.05" fill="#eceefe"/><rect x="46.8" y="447.2" width="18.0" height="1.05" fill="#f4f6fe"/><rect x="65.2" y="447.2" width="18.0" height="1.05" fill="#fbeae9"/><rect x="83.2" y="447.2" width="18.0" height="1.05" fill="#fbe5e4"/><rect x="101.6" y="447.2" width="17.8" height="1.05" fill="#c5cdfb"/><rect x="119.4" y="447.2" width="17.8" height="1.05" fill="#e4e7fd"/><rect x="137.6" y="447.2" width="18.0" height="1.05" fill="#f1aca8"/><rect x="155.6" y="447.2" width="18.0" height="1.05" fill="#f1aaa6"/><rect x="28.8" y="448.2" width="18.0" height="1.05" fill="#afbafa"/><rect x="46.8" y="448.2" width="18.0" height="1.05" fill="#e3e7fd"/><rect x="65.2" y="448.2" width="18.0" height="1.05" fill="#ffffff"/><rect x="83.2" y="448.2" width="18.0" height="1.05" fill="#fefafa"/><rect x="101.6" y="448.2" width="17.8" height="1.05" fill="#91a0f8"/><rect x="119.4" y="448.2" width="17.8" height="1.05" fill="#cad1fc"/><rect x="137.6" y="448.2" width="18.0" height="1.05" fill="#f8d4d2"/><rect x="155.6" y="448.2" width="18.0" height="1.05" fill="#f4c0be"/><rect x="28.8" y="449.2" width="18.0" height="1.05" fill="#acb7fa"/><rect x="46.8" y="449.2" width="18.0" height="1.05" fill="#dbe0fd"/><rect x="65.2" y="449.2" width="18.0" height="1.05" fill="#fcefee"/><rect x="83.2" y="449.2" width="18.0" height="1.05" fill="#fbe8e7"/><rect x="101.6" y="449.2" width="17.8" height="1.05" fill="#9daaf9"/><rect x="119.4" y="449.2" width="17.8" height="1.05" fill="#dee2fd"/><rect x="137.6" y="449.2" width="18.0" height="1.05" fill="#f6c8c5"/><rect x="155.6" y="449.2" width="18.0" height="1.05" fill="#f4c0bd"/><rect x="28.8" y="450.2" width="18.0" height="1.05" fill="#cdd4fc"/><rect x="46.8" y="450.2" width="18.0" height="1.05" fill="#d3d9fc"/><rect x="65.2" y="450.2" width="18.0" height="1.05" fill="#fefeff"/><rect x="83.2" y="450.2" width="18.0" height="1.05" fill="#fdf2f1"/><rect x="101.6" y="450.2" width="17.8" height="1.05" fill="#a7b3f9"/><rect x="119.4" y="450.2" width="17.8" height="1.05" fill="#fbfcff"/><rect x="137.6" y="450.2" width="18.0" height="1.05" fill="#f6c8c6"/><rect x="155.6" y="450.2" width="18.0" height="1.05" fill="#f5c5c3"/><rect x="28.8" y="451.2" width="18.0" height="1.05" fill="#e5e8fd"/><rect x="46.8" y="451.2" width="18.0" height="1.05" fill="#f6f7fe"/><rect x="65.2" y="451.2" width="18.0" height="1.05" fill="#fcefee"/><rect x="83.2" y="451.2" width="18.0" height="1.05" fill="#fef8f8"/><rect x="101.6" y="451.2" width="17.8" height="1.05" fill="#b2bdfa"/><rect x="119.4" y="451.2" width="17.8" height="1.05" fill="#d5dbfc"/><rect x="137.6" y="451.2" width="18.0" height="1.05" fill="#f3b6b3"/><rect x="155.6" y="451.2" width="18.0" height="1.05" fill="#efa29e"/><rect x="28.8" y="452.2" width="18.0" height="1.05" fill="#d3d9fc"/><rect x="46.8" y="452.2" width="18.0" height="1.05" fill="#f5f6fe"/><rect x="65.2" y="452.2" width="18.0" height="1.05" fill="#fafbff"/><rect x="83.2" y="452.2" width="18.0" height="1.05" fill="#fbe6e5"/><rect x="101.6" y="452.2" width="17.8" height="1.05" fill="#a8b4fa"/><rect x="119.4" y="452.2" width="17.8" height="1.05" fill="#d7dcfc"/><rect x="137.6" y="452.2" width="18.0" height="1.05" fill="#f4c0bd"/><rect x="155.6" y="452.2" width="18.0" height="1.05" fill="#f5c2bf"/><rect x="28.8" y="453.2" width="18.0" height="1.05" fill="#e0e4fd"/><rect x="46.8" y="453.2" width="18.0" height="1.05" fill="#e7eafe"/><rect x="65.2" y="453.2" width="18.0" height="1.05" fill="#fbe7e6"/><rect x="83.2" y="453.2" width="18.0" height="1.05" fill="#fef7f7"/><rect x="101.6" y="453.2" width="17.8" height="1.05" fill="#92a0f8"/><rect x="119.4" y="453.2" width="17.8" height="1.05" fill="#fcfdff"/><rect x="137.6" y="453.2" width="18.0" height="1.05" fill="#f3b9b6"/><rect x="155.6" y="453.2" width="18.0" height="1.05" fill="#f1aba7"/><rect x="28.8" y="454.2" width="18.0" height="1.05" fill="#b1bbfa"/><rect x="46.8" y="454.2" width="18.0" height="1.05" fill="#d1d7fc"/><rect x="65.2" y="454.2" width="18.0" height="1.05" fill="#fdf0f0"/><rect x="83.2" y="454.2" width="18.0" height="1.05" fill="#fcedec"/><rect x="101.6" y="454.2" width="17.8" height="1.05" fill="#9daaf9"/><rect x="119.4" y="454.2" width="17.8" height="1.05" fill="#e6eafd"/><rect x="137.6" y="454.2" width="18.0" height="1.05" fill="#f5c4c1"/><rect x="155.6" y="454.2" width="18.0" height="1.05" fill="#f3bab6"/><rect x="28.8" y="455.2" width="18.0" height="1.05" fill="#a8b4fa"/><rect x="46.8" y="455.2" width="18.0" height="1.05" fill="#e1e5fd"/><rect x="65.2" y="455.2" width="18.0" height="1.05" fill="#fdf4f4"/><rect x="83.2" y="455.2" width="18.0" height="1.05" fill="#fefbfa"/><rect x="101.6" y="455.2" width="17.8" height="1.05" fill="#bcc5fb"/><rect x="119.4" y="455.2" width="17.8" height="1.05" fill="#dfe3fd"/><rect x="137.6" y="455.2" width="18.0" height="1.05" fill="#f2b1ad"/><rect x="155.6" y="455.2" width="18.0" height="1.05" fill="#f3b6b2"/><rect x="28.8" y="456.2" width="18.0" height="1.05" fill="#dfe3fd"/><rect x="46.8" y="456.2" width="18.0" height="1.05" fill="#dbe0fd"/><rect x="65.2" y="456.2" width="18.0" height="1.05" fill="#f8d4d2"/><rect x="83.2" y="456.2" width="18.0" height="1.05" fill="#f9d9d8"/><rect x="101.6" y="456.2" width="17.8" height="1.05" fill="#c8cffc"/><rect x="119.4" y="456.2" width="17.8" height="1.05" fill="#dee3fd"/><rect x="137.6" y="456.2" width="18.0" height="1.05" fill="#f0a8a4"/><rect x="155.6" y="456.2" width="18.0" height="1.05" fill="#f3bbb8"/><rect x="28.8" y="457.2" width="18.0" height="1.05" fill="#e8ebfe"/><rect x="46.8" y="457.2" width="18.0" height="1.05" fill="#f3f4fe"/><rect x="65.2" y="457.2" width="18.0" height="1.05" fill="#fef9f9"/><rect x="83.2" y="457.2" width="18.0" height="1.05" fill="#fae4e3"/><rect x="101.6" y="457.2" width="17.8" height="1.05" fill="#b9c2fb"/><rect x="119.4" y="457.2" width="17.8" height="1.05" fill="#eff1fe"/><rect x="137.6" y="457.2" width="18.0" height="1.05" fill="#f1aaa6"/><rect x="155.6" y="457.2" width="18.0" height="1.05" fill="#f3bbb8"/></g>
<rect x="28.80" y="356.90" width="36.00" height="6.60" fill="#cc0010"/>
<text x="46.8" y="362.8" font-size="6.4" fill="#fff" text-anchor="middle">Cluster 1</text>
<rect x="65.20" y="356.90" width="36.00" height="6.60" fill="#33ee00"/>
<text x="83.2" y="362.8" font-size="6.4" fill="#fff" text-anchor="middle">Cluster 2</text>
<rect x="101.60" y="356.90" width="35.60" height="6.60" fill="#1848c8"/>
<text x="119.4" y="362.8" font-size="6.4" fill="#fff" text-anchor="middle">Cluster 3</text>
<rect x="137.60" y="356.90" width="36.00" height="6.60" fill="#2a1a9a"/>
<text x="155.6" y="362.8" font-size="6.4" fill="#fff" text-anchor="middle">Cluster 4</text>
<text x="38.1" y="355.0" font-size="6.3" fill="#000" text-anchor="middle">M</text>
<text x="56.1" y="355.0" font-size="6.3" fill="#000" text-anchor="middle">H</text>
<text x="74.5" y="355.0" font-size="6.3" fill="#000" text-anchor="middle">M</text>
<text x="92.5" y="355.0" font-size="6.3" fill="#000" text-anchor="middle">H</text>
<text x="110.8" y="355.0" font-size="6.3" fill="#000" text-anchor="middle">M</text>
<text x="128.6" y="355.0" font-size="6.3" fill="#000" text-anchor="middle">H</text>
<text x="146.9" y="355.0" font-size="6.3" fill="#000" text-anchor="middle">M</text>
<text x="164.9" y="355.0" font-size="6.3" fill="#000" text-anchor="middle">H</text>
<defs><linearGradient id="gE" x1="0" y1="0" x2="0" y2="1"><stop offset="0" stop-color="#e04840"/><stop offset="0.5" stop-color="#f8dcdc"/><stop offset="0.62" stop-color="#ffffff"/><stop offset="0.68" stop-color="#eef0ff"/><stop offset="1" stop-color="#1030f0"/></linearGradient></defs>
<rect x="17.00" y="392.80" width="3.30" height="43.30" fill="url(#gE)"/>
<text x="28.2" y="402.9" font-size="6.8" fill="#222" text-anchor="end">2</text>
<text x="28.2" y="410.4" font-size="6.8" fill="#222" text-anchor="end">1</text>
<text x="28.2" y="418.2" font-size="6.8" fill="#222" text-anchor="end">0</text>
<text x="28.2" y="426.2" font-size="6.8" fill="#222" text-anchor="end">−1</text>
<text x="28.2" y="434.2" font-size="6.8" fill="#222" text-anchor="end">−2</text>
<text x="176.8" y="361.0" font-size="7.6" fill="#222" textLength="35.0" lengthAdjust="spacingAndGlyphs">GO terms</text>
<text x="268.7" y="361.0" font-size="7.4" fill="#222" textLength="25.0" lengthAdjust="spacingAndGlyphs">P-value</text>
<line x1="174.40" y1="363.30" x2="293.20" y2="363.30" stroke="#333" stroke-width="1.0"/>
<text x="176.8" y="369.6" font-size="6.0" fill="#dd1133" stroke="#dd1133" stroke-width="0.18" textLength="41.8" lengthAdjust="spacingAndGlyphs">DNA replication</text>
<text x="268.7" y="369.6" font-size="5.9" fill="#dd1133" stroke="#dd1133" stroke-width="0.18">1.11e-12</text>
<text x="176.8" y="375.2" font-size="6.0" fill="#dd1133" stroke="#dd1133" stroke-width="0.18" textLength="24.5" lengthAdjust="spacingAndGlyphs">Cell cycle</text>
<text x="268.7" y="375.2" font-size="5.9" fill="#dd1133" stroke="#dd1133" stroke-width="0.18">2.67e-10</text>
<text x="176.8" y="382.6" font-size="6.0" fill="#55dd22" stroke="#55dd22" stroke-width="0.18" textLength="45.4" lengthAdjust="spacingAndGlyphs">Cell-cell signaling</text>
<text x="268.7" y="382.6" font-size="5.9" fill="#55dd22" stroke="#55dd22" stroke-width="0.18">2.55e-7</text>
<text x="176.8" y="389.0" font-size="6.0" fill="#55dd22" stroke="#55dd22" stroke-width="0.18" textLength="68.0" lengthAdjust="spacingAndGlyphs">Cytoskeleton organization</text>
<text x="268.7" y="389.0" font-size="5.9" fill="#55dd22" stroke="#55dd22" stroke-width="0.18">7.03e-4</text>
<text x="176.8" y="399.6" font-size="6.0" fill="#55dd22" stroke="#55dd22" stroke-width="0.18" textLength="62.0" lengthAdjust="spacingAndGlyphs">Cell-cell communication</text>
<text x="268.7" y="399.6" font-size="5.9" fill="#55dd22" stroke="#55dd22" stroke-width="0.18">0.0013</text>
<text x="176.8" y="405.3" font-size="6.0" fill="#55dd22" stroke="#55dd22" stroke-width="0.18" textLength="87.8" lengthAdjust="spacingAndGlyphs">Regulation of cytokine production</text>
<text x="268.7" y="405.3" font-size="5.9" fill="#55dd22" stroke="#55dd22" stroke-width="0.18">0.0076</text>
<text x="176.8" y="413.2" font-size="6.0" fill="#55dd22" stroke="#55dd22" stroke-width="0.18" textLength="45.4" lengthAdjust="spacingAndGlyphs">Cell-cell signaling</text>
<text x="268.7" y="413.2" font-size="5.9" fill="#55dd22" stroke="#55dd22" stroke-width="0.18">0.045</text>
<text x="176.8" y="420.5" font-size="6.0" fill="#55dd22" stroke="#55dd22" stroke-width="0.18" textLength="68.0" lengthAdjust="spacingAndGlyphs">Cytoskeleton organization</text>
<text x="268.7" y="420.5" font-size="5.9" fill="#55dd22" stroke="#55dd22" stroke-width="0.18">0.024</text>
<text x="176.8" y="427.3" font-size="6.0" fill="#2244cc" stroke="#2244cc" stroke-width="0.18" textLength="58.9" lengthAdjust="spacingAndGlyphs">Inflammatory response</text>
<text x="268.7" y="427.3" font-size="5.9" fill="#2244cc" stroke="#2244cc" stroke-width="0.18">1.15e-8</text>
<text x="176.8" y="433.0" font-size="6.0" fill="#2244cc" stroke="#2244cc" stroke-width="0.18" textLength="73.5" lengthAdjust="spacingAndGlyphs">Myeloid leukocyte activation</text>
<text x="268.7" y="433.0" font-size="5.9" fill="#2244cc" stroke="#2244cc" stroke-width="0.18">2.05e-7</text>
<text x="176.8" y="440.0" font-size="6.0" fill="#3322aa" stroke="#3322aa" stroke-width="0.18" textLength="29.0" lengthAdjust="spacingAndGlyphs">Hemostasis</text>
<text x="268.7" y="440.0" font-size="5.9" fill="#3322aa" stroke="#3322aa" stroke-width="0.18">5.08e-29</text>
<text x="176.8" y="446.2" font-size="6.0" fill="#3322aa" stroke="#3322aa" stroke-width="0.18" textLength="46.2" lengthAdjust="spacingAndGlyphs">Platelet activation</text>
<text x="268.7" y="446.2" font-size="5.9" fill="#3322aa" stroke="#3322aa" stroke-width="0.18">4.03e-18</text>
<text x="176.8" y="452.6" font-size="6.0" fill="#3322aa" stroke="#3322aa" stroke-width="0.18" textLength="47.3" lengthAdjust="spacingAndGlyphs">Blood coagulation</text>
<text x="268.7" y="452.6" font-size="5.9" fill="#3322aa" stroke="#3322aa" stroke-width="0.18">2.41e-15</text>
<text x="176.8" y="458.8" font-size="6.0" fill="#3322aa" stroke="#3322aa" stroke-width="0.18" textLength="53.1" lengthAdjust="spacingAndGlyphs">Platelet aggregation</text>
<text x="268.7" y="458.8" font-size="5.9" fill="#3322aa" stroke="#3322aa" stroke-width="0.18">2.00e-12</text>
<polyline points="173.3,372.2 175.8,377.4 293.2,377.4" fill="none" stroke="#333" stroke-width="0.9"/>
<polyline points="173.6,405.2 176,392.6 293.2,392.6" fill="none" stroke="#333" stroke-width="0.9"/>
<polyline points="173.3,404.6 175.1,406.8 293.2,406.8" fill="none" stroke="#333" stroke-width="0.9"/>
<polyline points="293.2,422.2 176.4,422.2 173.7,426.9 176.4,433.9 293.2,433.9" fill="none" stroke="#333" stroke-width="0.9"/>
<line x1="334.20" y1="382.40" x2="334.20" y2="448.40" stroke="#111" stroke-width="1.3"/>
<line x1="333.60" y1="447.80" x2="486.80" y2="447.80" stroke="#111" stroke-width="1.3"/>
<line x1="331.20" y1="447.80" x2="334.20" y2="447.80" stroke="#111" stroke-width="0.9"/>
<text x="329.2" y="450.5" font-size="7.6" fill="#222" text-anchor="end">0</text>
<line x1="331.20" y1="434.78" x2="334.20" y2="434.78" stroke="#111" stroke-width="0.9"/>
<text x="329.2" y="437.5" font-size="7.6" fill="#222" text-anchor="end">20</text>
<line x1="331.20" y1="421.76" x2="334.20" y2="421.76" stroke="#111" stroke-width="0.9"/>
<text x="329.2" y="424.5" font-size="7.6" fill="#222" text-anchor="end">40</text>
<line x1="331.20" y1="408.74" x2="334.20" y2="408.74" stroke="#111" stroke-width="0.9"/>
<text x="329.2" y="411.4" font-size="7.6" fill="#222" text-anchor="end">60</text>
<line x1="331.20" y1="395.72" x2="334.20" y2="395.72" stroke="#111" stroke-width="0.9"/>
<text x="329.2" y="398.4" font-size="7.6" fill="#222" text-anchor="end">80</text>
<line x1="331.20" y1="382.70" x2="334.20" y2="382.70" stroke="#111" stroke-width="0.9"/>
<text x="329.2" y="385.4" font-size="7.6" fill="#222" text-anchor="end">100</text>
<text x="0" y="0" font-size="7.4" fill="#222" text-anchor="middle" transform="translate(313.4,415.0) rotate(-90)">Percentage (%)</text>
<rect x="343.00" y="445.52" width="12.70" height="2.28" fill="#fdf4d2"/>
<rect x="343.00" y="421.43" width="12.70" height="24.09" fill="#f8e694"/>
<rect x="343.00" y="396.70" width="12.70" height="24.74" fill="#fcc898"/>
<rect x="343.00" y="387.91" width="12.70" height="8.79" fill="#f8a85e"/>
<rect x="343.00" y="382.70" width="12.70" height="5.21" fill="#f77a08"/>
<line x1="343.00" y1="445.52" x2="355.70" y2="445.52" stroke="#222" stroke-width="0.9"/>
<line x1="343.00" y1="421.43" x2="355.70" y2="421.43" stroke="#222" stroke-width="0.9"/>
<line x1="343.00" y1="396.70" x2="355.70" y2="396.70" stroke="#222" stroke-width="0.9"/>
<line x1="343.00" y1="387.91" x2="355.70" y2="387.91" stroke="#222" stroke-width="0.9"/>
<rect x="343.00" y="382.70" width="12.7" height="65.10" fill="none" stroke="#111" stroke-width="1.2"/>
<text x="349.4" y="380.0" font-size="6.4" fill="#111" text-anchor="middle">H</text>
<rect x="357.60" y="439.34" width="12.70" height="8.46" fill="#fdf4d2"/>
<rect x="357.60" y="406.14" width="12.70" height="33.20" fill="#f8e694"/>
<rect x="357.60" y="387.91" width="12.70" height="18.23" fill="#fcc898"/>
<rect x="357.60" y="385.63" width="12.70" height="2.28" fill="#f8a85e"/>
<rect x="357.60" y="382.70" width="12.70" height="2.93" fill="#f77a08"/>
<line x1="357.60" y1="439.34" x2="370.30" y2="439.34" stroke="#222" stroke-width="0.9"/>
<line x1="357.60" y1="406.14" x2="370.30" y2="406.14" stroke="#222" stroke-width="0.9"/>
<line x1="357.60" y1="387.91" x2="370.30" y2="387.91" stroke="#222" stroke-width="0.9"/>
<line x1="357.60" y1="385.63" x2="370.30" y2="385.63" stroke="#222" stroke-width="0.9"/>
<rect x="357.60" y="382.70" width="12.7" height="65.10" fill="none" stroke="#111" stroke-width="1.2"/>
<text x="364.0" y="380.0" font-size="6.4" fill="#111" text-anchor="middle">M</text>
<rect x="380.80" y="446.17" width="12.70" height="1.63" fill="#fdf4d2"/>
<rect x="380.80" y="443.89" width="12.70" height="2.28" fill="#f8e694"/>
<rect x="380.80" y="438.36" width="12.70" height="5.53" fill="#fcc898"/>
<rect x="380.80" y="406.79" width="12.70" height="31.57" fill="#f8a85e"/>
<rect x="380.80" y="382.70" width="12.70" height="24.09" fill="#f77a08"/>
<line x1="380.80" y1="446.17" x2="393.50" y2="446.17" stroke="#222" stroke-width="0.9"/>
<line x1="380.80" y1="443.89" x2="393.50" y2="443.89" stroke="#222" stroke-width="0.9"/>
<line x1="380.80" y1="438.36" x2="393.50" y2="438.36" stroke="#222" stroke-width="0.9"/>
<line x1="380.80" y1="406.79" x2="393.50" y2="406.79" stroke="#222" stroke-width="0.9"/>
<rect x="380.80" y="382.70" width="12.7" height="65.10" fill="none" stroke="#111" stroke-width="1.2"/>
<text x="387.2" y="380.0" font-size="6.4" fill="#111" text-anchor="middle">H</text>
<rect x="395.10" y="446.50" width="12.70" height="1.30" fill="#fdf4d2"/>
<rect x="395.10" y="444.22" width="12.70" height="2.28" fill="#f8e694"/>
<rect x="395.10" y="441.29" width="12.70" height="2.93" fill="#fcc898"/>
<rect x="395.10" y="410.69" width="12.70" height="30.60" fill="#f8a85e"/>
<rect x="395.10" y="382.70" width="12.70" height="27.99" fill="#f77a08"/>
<line x1="395.10" y1="446.50" x2="407.80" y2="446.50" stroke="#222" stroke-width="0.9"/>
<line x1="395.10" y1="444.22" x2="407.80" y2="444.22" stroke="#222" stroke-width="0.9"/>
<line x1="395.10" y1="441.29" x2="407.80" y2="441.29" stroke="#222" stroke-width="0.9"/>
<line x1="395.10" y1="410.69" x2="407.80" y2="410.69" stroke="#222" stroke-width="0.9"/>
<rect x="395.10" y="382.70" width="12.7" height="65.10" fill="none" stroke="#111" stroke-width="1.2"/>
<text x="401.5" y="380.0" font-size="6.4" fill="#111" text-anchor="middle">M</text>
<rect x="419.80" y="399.63" width="12.70" height="48.17" fill="#fdf4d2"/>
<rect x="419.80" y="388.23" width="12.70" height="11.39" fill="#f8e694"/>
<rect x="419.80" y="384.98" width="12.70" height="3.25" fill="#fcc898"/>
<rect x="419.80" y="383.68" width="12.70" height="1.30" fill="#f8a85e"/>
<rect x="419.80" y="382.70" width="12.70" height="0.98" fill="#f77a08"/>
<line x1="419.80" y1="399.63" x2="432.50" y2="399.63" stroke="#222" stroke-width="0.9"/>
<line x1="419.80" y1="388.23" x2="432.50" y2="388.23" stroke="#222" stroke-width="0.9"/>
<line x1="419.80" y1="384.98" x2="432.50" y2="384.98" stroke="#222" stroke-width="0.9"/>
<line x1="419.80" y1="383.68" x2="432.50" y2="383.68" stroke="#222" stroke-width="0.9"/>
<rect x="419.80" y="382.70" width="12.7" height="65.10" fill="none" stroke="#111" stroke-width="1.2"/>
<text x="426.2" y="380.0" font-size="6.4" fill="#111" text-anchor="middle">H</text>
<rect x="434.40" y="405.49" width="12.70" height="42.31" fill="#fdf4d2"/>
<rect x="434.40" y="399.95" width="12.70" height="5.53" fill="#f8e694"/>
<rect x="434.40" y="386.61" width="12.70" height="13.35" fill="#fcc898"/>
<rect x="434.40" y="384.33" width="12.70" height="2.28" fill="#f8a85e"/>
<rect x="434.40" y="382.70" width="12.70" height="1.63" fill="#f77a08"/>
<line x1="434.40" y1="405.49" x2="447.10" y2="405.49" stroke="#222" stroke-width="0.9"/>
<line x1="434.40" y1="399.95" x2="447.10" y2="399.95" stroke="#222" stroke-width="0.9"/>
<line x1="434.40" y1="386.61" x2="447.10" y2="386.61" stroke="#222" stroke-width="0.9"/>
<line x1="434.40" y1="384.33" x2="447.10" y2="384.33" stroke="#222" stroke-width="0.9"/>
<rect x="434.40" y="382.70" width="12.7" height="65.10" fill="none" stroke="#111" stroke-width="1.2"/>
<text x="440.8" y="380.0" font-size="6.4" fill="#111" text-anchor="middle">M</text>
<rect x="458.40" y="446.82" width="12.70" height="0.98" fill="#fdf4d2"/>
<rect x="458.40" y="443.57" width="12.70" height="3.25" fill="#f8e694"/>
<rect x="458.40" y="421.76" width="12.70" height="21.81" fill="#fcc898"/>
<rect x="458.40" y="382.70" width="12.70" height="39.06" fill="#f8a85e"/>
<line x1="458.40" y1="446.82" x2="471.10" y2="446.82" stroke="#222" stroke-width="0.9"/>
<line x1="458.40" y1="443.57" x2="471.10" y2="443.57" stroke="#222" stroke-width="0.9"/>
<line x1="458.40" y1="421.76" x2="471.10" y2="421.76" stroke="#222" stroke-width="0.9"/>
<rect x="458.40" y="382.70" width="12.7" height="65.10" fill="none" stroke="#111" stroke-width="1.2"/>
<text x="464.8" y="380.0" font-size="6.4" fill="#111" text-anchor="middle">H</text>
<rect x="472.60" y="436.08" width="12.70" height="11.72" fill="#f8e694"/>
<rect x="472.60" y="410.37" width="12.70" height="25.71" fill="#fcc898"/>
<rect x="472.60" y="382.70" width="12.70" height="27.67" fill="#f8a85e"/>
<line x1="472.60" y1="436.08" x2="485.30" y2="436.08" stroke="#222" stroke-width="0.9"/>
<line x1="472.60" y1="410.37" x2="485.30" y2="410.37" stroke="#222" stroke-width="0.9"/>
<rect x="472.60" y="382.70" width="12.7" height="65.10" fill="none" stroke="#111" stroke-width="1.2"/>
<text x="479.0" y="380.0" font-size="6.4" fill="#111" text-anchor="middle">M</text>
<line x1="356.30" y1="447.80" x2="356.30" y2="449.60" stroke="#111" stroke-width="0.8"/>
<text x="356.7" y="457.9" font-size="8.0" fill="#222" text-anchor="middle">Cluster 1</text>
<line x1="394.20" y1="447.80" x2="394.20" y2="449.60" stroke="#111" stroke-width="0.8"/>
<text x="394.6" y="457.9" font-size="8.0" fill="#222" text-anchor="middle">Cluster 2</text>
<line x1="433.60" y1="447.80" x2="433.60" y2="449.60" stroke="#111" stroke-width="0.8"/>
<text x="434.0" y="457.9" font-size="8.0" fill="#222" text-anchor="middle">Cluster 3</text>
<line x1="471.70" y1="447.80" x2="471.70" y2="449.60" stroke="#111" stroke-width="0.8"/>
<text x="472.1" y="457.9" font-size="8.0" fill="#222" text-anchor="middle">Cluster 4</text>
<rect x="489.90" y="401.90" width="7.00" height="4.80" fill="#fdf4d2"/>
<text x="499.0" y="407.0" font-size="7.6" fill="#222">2N</text>
<rect x="489.90" y="409.30" width="7.00" height="4.80" fill="#f8e694"/>
<text x="499.0" y="414.4" font-size="7.6" fill="#222">4N</text>
<rect x="489.90" y="416.60" width="7.00" height="4.80" fill="#fcc898"/>
<text x="499.0" y="421.7" font-size="7.6" fill="#222">8N</text>
<rect x="489.90" y="424.30" width="7.00" height="4.80" fill="#f8a85e"/>
<text x="499.0" y="429.4" font-size="7.6" fill="#222">16N</text>
<rect x="489.90" y="431.90" width="7.00" height="4.80" fill="#f77a08"/>
<text x="499.0" y="437.0" font-size="7.6" fill="#222">32N</text>
<g shape-rendering="crispEdges">
<rect x="2" y="2" width="1" height="460" fill="#dcdcdc"/><rect x="2" y="2" width="516" height="1" fill="#e8e8e8"/>
<rect x="1" y="1" width="1" height="462" fill="#505050"/><rect x="1" y="1" width="518" height="1" fill="#969696"/>
<rect x="518" y="1" width="1" height="462" fill="#828282"/><rect x="1" y="462" width="518" height="1" fill="#828282"/>
<rect x="0" y="0" width="1" height="464" fill="#000"/><rect x="0" y="0" width="520" height="1" fill="#000"/>
<rect x="519" y="0" width="1" height="464" fill="#000"/><rect x="0" y="463" width="520" height="1" fill="#000"/>
</g>
</svg></div></body></html>
